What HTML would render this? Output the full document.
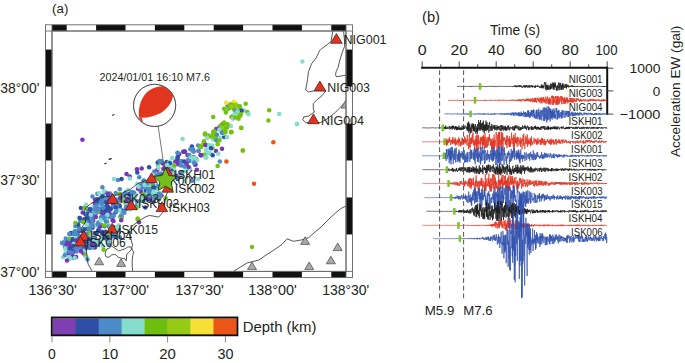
<!DOCTYPE html><html><head><meta charset="utf-8"><style>html,body{margin:0;padding:0;background:#fff;overflow:hidden}svg{display:block}text{font-family:"Liberation Sans",sans-serif}</style></head><body><svg width="685" height="363" viewBox="0 0 685 363">
<rect width="685" height="363" fill="#fff"/>
<g font-family="Liberation Sans, sans-serif">
<clipPath id="mapclip"><rect x="52.0" y="31.0" width="294.0" height="240.39999999999998"/></clipPath>
<g clip-path="url(#mapclip)">
<circle cx="122.4" cy="199.2" r="2.25" fill="#2f4fa6"/>
<circle cx="88.2" cy="221.2" r="2.25" fill="#4d8ac8"/>
<circle cx="90.4" cy="209.1" r="2.25" fill="#7636b6"/>
<circle cx="186.8" cy="165.1" r="2.25" fill="#86dccd"/>
<circle cx="119.6" cy="198.2" r="2.25" fill="#4d8ac8"/>
<circle cx="97.0" cy="211.7" r="2.25" fill="#4d8ac8"/>
<circle cx="79.8" cy="245.7" r="2.25" fill="#4d8ac8"/>
<circle cx="105.5" cy="192.5" r="2.25" fill="#4d8ac8"/>
<circle cx="107.7" cy="242.0" r="2.25" fill="#2f4fa6"/>
<circle cx="129.7" cy="204.2" r="2.25" fill="#7636b6"/>
<circle cx="88.8" cy="225.8" r="2.25" fill="#4d8ac8"/>
<circle cx="72.8" cy="249.6" r="2.25" fill="#2f4fa6"/>
<circle cx="202.6" cy="144.7" r="2.25" fill="#95cb14"/>
<circle cx="76.6" cy="251.6" r="2.25" fill="#4d8ac8"/>
<circle cx="70.0" cy="242.8" r="2.25" fill="#7636b6"/>
<circle cx="109.9" cy="201.7" r="2.25" fill="#4d8ac8"/>
<circle cx="71.2" cy="233.4" r="2.25" fill="#2f4fa6"/>
<circle cx="171.9" cy="163.5" r="2.25" fill="#86dccd"/>
<circle cx="98.7" cy="205.4" r="2.25" fill="#4d8ac8"/>
<circle cx="97.4" cy="244.8" r="2.25" fill="#4d8ac8"/>
<circle cx="83.3" cy="249.0" r="2.25" fill="#2f4fa6"/>
<circle cx="100.7" cy="208.1" r="2.25" fill="#86dccd"/>
<circle cx="187.0" cy="161.0" r="2.25" fill="#86dccd"/>
<circle cx="93.6" cy="215.0" r="2.25" fill="#4d8ac8"/>
<circle cx="115.8" cy="192.9" r="2.25" fill="#4d8ac8"/>
<circle cx="101.3" cy="225.1" r="2.25" fill="#4d8ac8"/>
<circle cx="96.8" cy="209.9" r="2.25" fill="#4d8ac8"/>
<circle cx="133.2" cy="207.8" r="2.25" fill="#4d8ac8"/>
<circle cx="120.0" cy="216.6" r="2.25" fill="#95cb14"/>
<circle cx="209.3" cy="153.3" r="2.25" fill="#86dccd"/>
<circle cx="72.0" cy="233.5" r="2.25" fill="#7636b6"/>
<circle cx="100.9" cy="217.2" r="2.25" fill="#4d8ac8"/>
<circle cx="105.4" cy="214.6" r="2.25" fill="#86dccd"/>
<circle cx="102.1" cy="236.1" r="2.25" fill="#2f4fa6"/>
<circle cx="139.1" cy="184.9" r="2.25" fill="#4d8ac8"/>
<circle cx="85.7" cy="246.5" r="2.25" fill="#4d8ac8"/>
<circle cx="97.7" cy="242.3" r="2.25" fill="#4d8ac8"/>
<circle cx="95.0" cy="215.1" r="2.25" fill="#4d8ac8"/>
<circle cx="71.8" cy="239.9" r="2.25" fill="#2f4fa6"/>
<circle cx="85.2" cy="214.2" r="2.25" fill="#4d8ac8"/>
<circle cx="76.6" cy="246.8" r="2.25" fill="#7636b6"/>
<circle cx="69.7" cy="238.4" r="2.25" fill="#74c20c"/>
<circle cx="137.0" cy="201.3" r="2.25" fill="#4d8ac8"/>
<circle cx="118.5" cy="229.5" r="2.25" fill="#2f4fa6"/>
<circle cx="123.9" cy="211.0" r="2.25" fill="#2f4fa6"/>
<circle cx="103.6" cy="238.3" r="2.25" fill="#86dccd"/>
<circle cx="180.8" cy="173.8" r="2.25" fill="#4d8ac8"/>
<circle cx="95.1" cy="199.5" r="2.25" fill="#7636b6"/>
<circle cx="101.9" cy="231.8" r="2.25" fill="#7636b6"/>
<circle cx="105.5" cy="235.3" r="2.25" fill="#4d8ac8"/>
<circle cx="224.2" cy="137.0" r="2.25" fill="#2f4fa6"/>
<circle cx="107.5" cy="238.4" r="2.25" fill="#2f4fa6"/>
<circle cx="76.2" cy="244.1" r="2.25" fill="#86dccd"/>
<circle cx="173.5" cy="166.5" r="2.25" fill="#4d8ac8"/>
<circle cx="67.0" cy="241.7" r="2.25" fill="#4d8ac8"/>
<circle cx="100.2" cy="198.5" r="2.25" fill="#4d8ac8"/>
<circle cx="97.9" cy="210.6" r="2.25" fill="#4d8ac8"/>
<circle cx="77.9" cy="234.9" r="2.25" fill="#7636b6"/>
<circle cx="106.9" cy="221.8" r="2.25" fill="#7636b6"/>
<circle cx="106.9" cy="219.0" r="2.25" fill="#86dccd"/>
<circle cx="234.8" cy="111.4" r="2.25" fill="#86dccd"/>
<circle cx="120.3" cy="193.9" r="2.25" fill="#86dccd"/>
<circle cx="112.9" cy="216.8" r="2.25" fill="#4d8ac8"/>
<circle cx="130.4" cy="209.2" r="2.25" fill="#86dccd"/>
<circle cx="92.3" cy="217.2" r="2.25" fill="#4d8ac8"/>
<circle cx="108.4" cy="201.7" r="2.25" fill="#74c20c"/>
<circle cx="79.6" cy="231.0" r="2.25" fill="#4d8ac8"/>
<circle cx="107.6" cy="206.8" r="2.25" fill="#7636b6"/>
<circle cx="81.6" cy="244.6" r="2.25" fill="#2f4fa6"/>
<circle cx="116.8" cy="201.5" r="2.25" fill="#4d8ac8"/>
<circle cx="177.0" cy="160.7" r="2.25" fill="#2f4fa6"/>
<circle cx="78.8" cy="217.7" r="2.25" fill="#86dccd"/>
<circle cx="159.4" cy="193.6" r="2.25" fill="#4d8ac8"/>
<circle cx="64.9" cy="246.1" r="2.25" fill="#86dccd"/>
<circle cx="233.7" cy="108.4" r="2.25" fill="#95cb14"/>
<circle cx="108.1" cy="196.2" r="2.25" fill="#2f4fa6"/>
<circle cx="144.9" cy="198.1" r="2.25" fill="#4d8ac8"/>
<circle cx="130.0" cy="199.7" r="2.25" fill="#4d8ac8"/>
<circle cx="149.6" cy="198.8" r="2.25" fill="#4d8ac8"/>
<circle cx="79.7" cy="240.3" r="2.25" fill="#7636b6"/>
<circle cx="212.5" cy="148.1" r="2.25" fill="#74c20c"/>
<circle cx="94.7" cy="247.5" r="2.25" fill="#7636b6"/>
<circle cx="240.0" cy="111.0" r="2.25" fill="#86dccd"/>
<circle cx="71.0" cy="252.0" r="2.25" fill="#2f4fa6"/>
<circle cx="119.3" cy="205.5" r="2.25" fill="#4d8ac8"/>
<circle cx="83.2" cy="238.2" r="2.25" fill="#4d8ac8"/>
<circle cx="117.0" cy="235.0" r="2.25" fill="#86dccd"/>
<circle cx="80.7" cy="249.9" r="2.25" fill="#4d8ac8"/>
<circle cx="123.8" cy="200.1" r="2.25" fill="#86dccd"/>
<circle cx="140.2" cy="190.5" r="2.25" fill="#86dccd"/>
<circle cx="125.8" cy="197.2" r="2.25" fill="#4d8ac8"/>
<circle cx="119.4" cy="194.1" r="2.25" fill="#74c20c"/>
<circle cx="82.7" cy="212.5" r="2.25" fill="#7636b6"/>
<circle cx="179.8" cy="162.7" r="2.25" fill="#86dccd"/>
<circle cx="107.4" cy="198.6" r="2.25" fill="#7636b6"/>
<circle cx="232.6" cy="116.6" r="2.25" fill="#74c20c"/>
<circle cx="190.1" cy="168.4" r="2.25" fill="#86dccd"/>
<circle cx="118.0" cy="208.8" r="2.25" fill="#2f4fa6"/>
<circle cx="230.8" cy="125.9" r="2.25" fill="#86dccd"/>
<circle cx="92.6" cy="227.8" r="2.25" fill="#2f4fa6"/>
<circle cx="131.3" cy="203.3" r="2.25" fill="#4d8ac8"/>
<circle cx="89.5" cy="235.6" r="2.25" fill="#4d8ac8"/>
<circle cx="129.0" cy="191.7" r="2.25" fill="#4d8ac8"/>
<circle cx="171.2" cy="173.8" r="2.25" fill="#86dccd"/>
<circle cx="72.6" cy="240.5" r="2.25" fill="#7636b6"/>
<circle cx="89.4" cy="230.4" r="2.25" fill="#2f4fa6"/>
<circle cx="89.9" cy="247.7" r="2.25" fill="#2f4fa6"/>
<circle cx="66.0" cy="248.4" r="2.25" fill="#7636b6"/>
<circle cx="193.8" cy="157.1" r="2.25" fill="#4d8ac8"/>
<circle cx="112.3" cy="196.2" r="2.25" fill="#7636b6"/>
<circle cx="72.9" cy="252.2" r="2.25" fill="#7636b6"/>
<circle cx="100.8" cy="201.9" r="2.25" fill="#4d8ac8"/>
<circle cx="103.3" cy="199.5" r="2.25" fill="#2f4fa6"/>
<circle cx="110.2" cy="235.0" r="2.25" fill="#74c20c"/>
<circle cx="182.1" cy="175.8" r="2.25" fill="#86dccd"/>
<circle cx="132.1" cy="197.6" r="2.25" fill="#74c20c"/>
<circle cx="105.6" cy="233.0" r="2.25" fill="#74c20c"/>
<circle cx="154.3" cy="186.0" r="2.25" fill="#4d8ac8"/>
<circle cx="144.9" cy="194.0" r="2.25" fill="#4d8ac8"/>
<circle cx="125.6" cy="198.6" r="2.25" fill="#7636b6"/>
<circle cx="113.6" cy="214.8" r="2.25" fill="#4d8ac8"/>
<circle cx="95.9" cy="234.2" r="2.25" fill="#74c20c"/>
<circle cx="93.3" cy="238.1" r="2.25" fill="#4d8ac8"/>
<circle cx="85.4" cy="207.3" r="2.25" fill="#4d8ac8"/>
<circle cx="118.0" cy="180.1" r="2.25" fill="#4d8ac8"/>
<circle cx="80.8" cy="236.3" r="2.25" fill="#4d8ac8"/>
<circle cx="196.1" cy="159.0" r="2.25" fill="#7636b6"/>
<circle cx="84.8" cy="242.1" r="2.25" fill="#4d8ac8"/>
<circle cx="75.7" cy="234.8" r="2.25" fill="#4d8ac8"/>
<circle cx="102.8" cy="195.8" r="2.25" fill="#4d8ac8"/>
<circle cx="171.5" cy="166.6" r="2.25" fill="#86dccd"/>
<circle cx="153.6" cy="197.7" r="2.25" fill="#2f4fa6"/>
<circle cx="194.7" cy="160.0" r="2.25" fill="#7636b6"/>
<circle cx="187.5" cy="155.0" r="2.25" fill="#7636b6"/>
<circle cx="92.2" cy="214.2" r="2.25" fill="#4d8ac8"/>
<circle cx="84.8" cy="222.3" r="2.25" fill="#4d8ac8"/>
<circle cx="96.9" cy="212.6" r="2.25" fill="#2f4fa6"/>
<circle cx="93.2" cy="220.7" r="2.25" fill="#7636b6"/>
<circle cx="118.5" cy="200.6" r="2.25" fill="#2f4fa6"/>
<circle cx="75.3" cy="226.1" r="2.25" fill="#4d8ac8"/>
<circle cx="129.1" cy="193.0" r="2.25" fill="#4d8ac8"/>
<circle cx="113.2" cy="204.7" r="2.25" fill="#7636b6"/>
<circle cx="72.5" cy="256.0" r="2.25" fill="#7636b6"/>
<circle cx="119.0" cy="204.8" r="2.25" fill="#74c20c"/>
<circle cx="106.9" cy="198.4" r="2.25" fill="#4d8ac8"/>
<circle cx="97.8" cy="208.0" r="2.25" fill="#4d8ac8"/>
<circle cx="81.2" cy="229.4" r="2.25" fill="#2f4fa6"/>
<circle cx="76.1" cy="257.0" r="2.25" fill="#7636b6"/>
<circle cx="244.0" cy="110.4" r="2.25" fill="#86dccd"/>
<circle cx="145.3" cy="207.4" r="2.25" fill="#2f4fa6"/>
<circle cx="151.9" cy="188.2" r="2.25" fill="#7636b6"/>
<circle cx="74.5" cy="239.2" r="2.25" fill="#7636b6"/>
<circle cx="130.8" cy="204.9" r="2.25" fill="#4d8ac8"/>
<circle cx="105.4" cy="210.6" r="2.25" fill="#4d8ac8"/>
<circle cx="95.6" cy="225.4" r="2.25" fill="#4d8ac8"/>
<circle cx="192.5" cy="161.5" r="2.25" fill="#86dccd"/>
<circle cx="193.8" cy="157.5" r="2.25" fill="#4d8ac8"/>
<circle cx="138.0" cy="188.8" r="2.25" fill="#7636b6"/>
<circle cx="197.1" cy="160.5" r="2.25" fill="#86dccd"/>
<circle cx="130.3" cy="197.4" r="2.25" fill="#7636b6"/>
<circle cx="219.7" cy="138.7" r="2.25" fill="#86dccd"/>
<circle cx="109.4" cy="216.4" r="2.25" fill="#4d8ac8"/>
<circle cx="95.2" cy="245.2" r="2.25" fill="#74c20c"/>
<circle cx="102.9" cy="246.5" r="2.25" fill="#86dccd"/>
<circle cx="104.5" cy="226.3" r="2.25" fill="#2f4fa6"/>
<circle cx="87.3" cy="228.6" r="2.25" fill="#4d8ac8"/>
<circle cx="101.2" cy="203.7" r="2.25" fill="#86dccd"/>
<circle cx="98.9" cy="229.2" r="2.25" fill="#4d8ac8"/>
<circle cx="112.6" cy="220.2" r="2.25" fill="#7636b6"/>
<circle cx="125.8" cy="203.7" r="2.25" fill="#74c20c"/>
<circle cx="75.5" cy="244.8" r="2.25" fill="#4d8ac8"/>
<circle cx="83.4" cy="230.1" r="2.25" fill="#4d8ac8"/>
<circle cx="85.7" cy="234.6" r="2.25" fill="#7636b6"/>
<circle cx="88.4" cy="241.5" r="2.25" fill="#74c20c"/>
<circle cx="88.4" cy="239.1" r="2.25" fill="#2f4fa6"/>
<circle cx="80.8" cy="230.4" r="2.25" fill="#7636b6"/>
<circle cx="102.3" cy="219.5" r="2.25" fill="#86dccd"/>
<circle cx="105.4" cy="207.0" r="2.25" fill="#4d8ac8"/>
<circle cx="83.6" cy="248.2" r="2.25" fill="#7636b6"/>
<circle cx="99.3" cy="207.4" r="2.25" fill="#7636b6"/>
<circle cx="148.8" cy="184.5" r="2.25" fill="#2f4fa6"/>
<circle cx="92.1" cy="223.8" r="2.25" fill="#4d8ac8"/>
<circle cx="240.3" cy="115.7" r="2.25" fill="#74c20c"/>
<circle cx="109.5" cy="213.0" r="2.25" fill="#7636b6"/>
<circle cx="98.9" cy="207.3" r="2.25" fill="#86dccd"/>
<circle cx="98.3" cy="222.5" r="2.25" fill="#4d8ac8"/>
<circle cx="129.1" cy="203.7" r="2.25" fill="#4d8ac8"/>
<circle cx="65.8" cy="251.1" r="2.25" fill="#86dccd"/>
<circle cx="72.9" cy="238.9" r="2.25" fill="#2f4fa6"/>
<circle cx="103.5" cy="236.5" r="2.25" fill="#7636b6"/>
<circle cx="104.6" cy="236.2" r="2.25" fill="#2f4fa6"/>
<circle cx="113.5" cy="221.1" r="2.25" fill="#7636b6"/>
<circle cx="219.4" cy="127.1" r="2.25" fill="#4d8ac8"/>
<circle cx="163.4" cy="168.9" r="2.25" fill="#7636b6"/>
<circle cx="119.7" cy="207.1" r="2.25" fill="#4d8ac8"/>
<circle cx="76.4" cy="241.4" r="2.25" fill="#7636b6"/>
<circle cx="116.0" cy="199.4" r="2.25" fill="#4d8ac8"/>
<circle cx="110.4" cy="202.2" r="2.25" fill="#4d8ac8"/>
<circle cx="75.7" cy="244.5" r="2.25" fill="#2f4fa6"/>
<circle cx="210.5" cy="146.0" r="2.25" fill="#95cb14"/>
<circle cx="121.0" cy="211.4" r="2.25" fill="#86dccd"/>
<circle cx="132.2" cy="197.8" r="2.25" fill="#2f4fa6"/>
<circle cx="105.5" cy="231.7" r="2.25" fill="#2f4fa6"/>
<circle cx="129.8" cy="176.6" r="2.25" fill="#7636b6"/>
<circle cx="66.6" cy="242.4" r="2.25" fill="#2f4fa6"/>
<circle cx="65.0" cy="246.9" r="2.25" fill="#7636b6"/>
<circle cx="96.8" cy="202.1" r="2.25" fill="#2f4fa6"/>
<circle cx="124.3" cy="197.8" r="2.25" fill="#74c20c"/>
<circle cx="222.9" cy="124.0" r="2.25" fill="#7636b6"/>
<circle cx="85.7" cy="228.9" r="2.25" fill="#4d8ac8"/>
<circle cx="119.4" cy="200.5" r="2.25" fill="#4d8ac8"/>
<circle cx="126.8" cy="193.3" r="2.25" fill="#4d8ac8"/>
<circle cx="201.3" cy="146.5" r="2.25" fill="#95cb14"/>
<circle cx="106.2" cy="221.0" r="2.25" fill="#86dccd"/>
<circle cx="71.7" cy="252.3" r="2.25" fill="#4d8ac8"/>
<circle cx="74.6" cy="230.7" r="2.25" fill="#86dccd"/>
<circle cx="90.6" cy="213.2" r="2.25" fill="#4d8ac8"/>
<circle cx="106.0" cy="221.4" r="2.25" fill="#4d8ac8"/>
<circle cx="70.3" cy="245.1" r="2.25" fill="#7636b6"/>
<circle cx="147.3" cy="188.4" r="2.25" fill="#7636b6"/>
<circle cx="125.9" cy="202.8" r="2.25" fill="#86dccd"/>
<circle cx="223.5" cy="133.8" r="2.25" fill="#86dccd"/>
<circle cx="65.7" cy="238.6" r="2.25" fill="#4d8ac8"/>
<circle cx="146.8" cy="196.5" r="2.25" fill="#4d8ac8"/>
<circle cx="237.5" cy="111.7" r="2.25" fill="#74c20c"/>
<circle cx="69.7" cy="258.3" r="2.25" fill="#4d8ac8"/>
<circle cx="113.0" cy="215.1" r="2.25" fill="#7636b6"/>
<circle cx="70.9" cy="233.0" r="2.25" fill="#2f4fa6"/>
<circle cx="142.6" cy="199.9" r="2.25" fill="#86dccd"/>
<circle cx="79.4" cy="240.5" r="2.25" fill="#74c20c"/>
<circle cx="70.4" cy="250.1" r="2.25" fill="#7636b6"/>
<circle cx="172.2" cy="157.9" r="2.25" fill="#86dccd"/>
<circle cx="186.0" cy="171.0" r="2.25" fill="#86dccd"/>
<circle cx="95.3" cy="241.7" r="2.25" fill="#86dccd"/>
<circle cx="86.0" cy="214.0" r="2.25" fill="#4d8ac8"/>
<circle cx="146.9" cy="183.3" r="2.25" fill="#74c20c"/>
<circle cx="172.4" cy="171.3" r="2.25" fill="#86dccd"/>
<circle cx="84.7" cy="243.8" r="2.25" fill="#4d8ac8"/>
<circle cx="78.6" cy="226.9" r="2.25" fill="#4d8ac8"/>
<circle cx="143.5" cy="195.3" r="2.25" fill="#4d8ac8"/>
<circle cx="73.0" cy="239.9" r="2.25" fill="#2f4fa6"/>
<circle cx="70.4" cy="257.5" r="2.25" fill="#2f4fa6"/>
<circle cx="124.4" cy="212.8" r="2.25" fill="#4d8ac8"/>
<circle cx="131.2" cy="200.0" r="2.25" fill="#74c20c"/>
<circle cx="164.6" cy="167.4" r="2.25" fill="#7636b6"/>
<circle cx="94.7" cy="203.5" r="2.25" fill="#7636b6"/>
<circle cx="145.8" cy="197.4" r="2.25" fill="#4d8ac8"/>
<circle cx="112.3" cy="199.1" r="2.25" fill="#86dccd"/>
<circle cx="110.4" cy="236.3" r="2.25" fill="#4d8ac8"/>
<circle cx="122.1" cy="210.4" r="2.25" fill="#2f4fa6"/>
<circle cx="76.3" cy="240.6" r="2.25" fill="#2f4fa6"/>
<circle cx="157.7" cy="165.3" r="2.25" fill="#86dccd"/>
<circle cx="99.4" cy="243.1" r="2.25" fill="#4d8ac8"/>
<circle cx="183.2" cy="151.8" r="2.25" fill="#2f4fa6"/>
<circle cx="95.1" cy="247.1" r="2.25" fill="#7636b6"/>
<circle cx="89.4" cy="223.8" r="2.25" fill="#7636b6"/>
<circle cx="76.1" cy="248.2" r="2.25" fill="#7636b6"/>
<circle cx="131.9" cy="193.0" r="2.25" fill="#86dccd"/>
<circle cx="98.2" cy="230.4" r="2.25" fill="#2f4fa6"/>
<circle cx="116.7" cy="227.5" r="2.25" fill="#86dccd"/>
<circle cx="213.1" cy="131.9" r="2.25" fill="#74c20c"/>
<circle cx="101.1" cy="226.0" r="2.25" fill="#74c20c"/>
<circle cx="90.6" cy="245.0" r="2.25" fill="#4d8ac8"/>
<circle cx="83.0" cy="241.3" r="2.25" fill="#7636b6"/>
<circle cx="181.0" cy="161.2" r="2.25" fill="#4d8ac8"/>
<circle cx="141.9" cy="188.5" r="2.25" fill="#4d8ac8"/>
<circle cx="103.7" cy="217.1" r="2.25" fill="#4d8ac8"/>
<circle cx="80.6" cy="237.4" r="2.25" fill="#4d8ac8"/>
<circle cx="225.4" cy="128.4" r="2.25" fill="#74c20c"/>
<circle cx="83.5" cy="253.3" r="2.25" fill="#7636b6"/>
<circle cx="179.1" cy="154.3" r="2.25" fill="#7636b6"/>
<circle cx="194.9" cy="164.8" r="2.25" fill="#4d8ac8"/>
<circle cx="123.8" cy="199.9" r="2.25" fill="#86dccd"/>
<circle cx="94.8" cy="232.9" r="2.25" fill="#7636b6"/>
<circle cx="149.5" cy="195.6" r="2.25" fill="#7636b6"/>
<circle cx="99.3" cy="211.7" r="2.25" fill="#74c20c"/>
<circle cx="94.8" cy="246.2" r="2.25" fill="#2f4fa6"/>
<circle cx="115.5" cy="202.6" r="2.25" fill="#2f4fa6"/>
<circle cx="68.6" cy="256.6" r="2.25" fill="#86dccd"/>
<circle cx="63.8" cy="242.3" r="2.25" fill="#4d8ac8"/>
<circle cx="107.8" cy="243.3" r="2.25" fill="#86dccd"/>
<circle cx="153.9" cy="198.0" r="2.25" fill="#4d8ac8"/>
<circle cx="91.7" cy="239.8" r="2.25" fill="#2f4fa6"/>
<circle cx="168.8" cy="162.9" r="2.25" fill="#74c20c"/>
<circle cx="88.2" cy="220.4" r="2.25" fill="#2f4fa6"/>
<circle cx="135.7" cy="194.6" r="2.25" fill="#86dccd"/>
<circle cx="238.0" cy="112.2" r="2.25" fill="#74c20c"/>
<circle cx="166.1" cy="176.0" r="2.25" fill="#86dccd"/>
<circle cx="89.1" cy="246.7" r="2.25" fill="#4d8ac8"/>
<circle cx="113.1" cy="206.9" r="2.25" fill="#4d8ac8"/>
<circle cx="116.8" cy="231.6" r="2.25" fill="#2f4fa6"/>
<circle cx="166.7" cy="162.0" r="2.25" fill="#2f4fa6"/>
<circle cx="153.6" cy="201.2" r="2.25" fill="#7636b6"/>
<circle cx="93.5" cy="207.0" r="2.25" fill="#86dccd"/>
<circle cx="105.8" cy="214.2" r="2.25" fill="#2f4fa6"/>
<circle cx="145.1" cy="200.3" r="2.25" fill="#2f4fa6"/>
<circle cx="80.2" cy="220.7" r="2.25" fill="#4d8ac8"/>
<circle cx="79.8" cy="244.3" r="2.25" fill="#4d8ac8"/>
<circle cx="126.7" cy="208.8" r="2.25" fill="#7636b6"/>
<circle cx="69.5" cy="248.9" r="2.25" fill="#7636b6"/>
<circle cx="62.0" cy="243.1" r="2.25" fill="#4d8ac8"/>
<circle cx="69.2" cy="234.0" r="2.25" fill="#4d8ac8"/>
<circle cx="217.3" cy="139.3" r="2.25" fill="#74c20c"/>
<circle cx="75.9" cy="236.7" r="2.25" fill="#86dccd"/>
<circle cx="108.6" cy="207.6" r="2.25" fill="#2f4fa6"/>
<circle cx="108.4" cy="225.0" r="2.25" fill="#86dccd"/>
<circle cx="127.5" cy="192.5" r="2.25" fill="#2f4fa6"/>
<circle cx="178.5" cy="161.4" r="2.25" fill="#7636b6"/>
<circle cx="106.0" cy="238.6" r="2.25" fill="#2f4fa6"/>
<circle cx="96.0" cy="226.0" r="2.25" fill="#86dccd"/>
<circle cx="166.6" cy="168.3" r="2.25" fill="#2f4fa6"/>
<circle cx="75.7" cy="235.3" r="2.25" fill="#86dccd"/>
<circle cx="93.9" cy="215.5" r="2.25" fill="#4d8ac8"/>
<circle cx="80.4" cy="249.0" r="2.25" fill="#4d8ac8"/>
<circle cx="169.9" cy="179.7" r="2.25" fill="#86dccd"/>
<circle cx="77.3" cy="242.5" r="2.25" fill="#4d8ac8"/>
<circle cx="153.7" cy="194.4" r="2.25" fill="#2f4fa6"/>
<circle cx="119.6" cy="205.9" r="2.25" fill="#2f4fa6"/>
<circle cx="89.3" cy="230.9" r="2.25" fill="#2f4fa6"/>
<circle cx="73.5" cy="257.8" r="2.25" fill="#2f4fa6"/>
<circle cx="89.2" cy="242.2" r="2.25" fill="#86dccd"/>
<circle cx="101.1" cy="198.0" r="2.25" fill="#4d8ac8"/>
<circle cx="85.0" cy="250.6" r="2.25" fill="#4d8ac8"/>
<circle cx="81.0" cy="237.0" r="2.25" fill="#4d8ac8"/>
<circle cx="70.2" cy="247.1" r="2.25" fill="#7636b6"/>
<circle cx="173.8" cy="168.2" r="2.25" fill="#86dccd"/>
<circle cx="146.9" cy="191.7" r="2.25" fill="#86dccd"/>
<circle cx="198.1" cy="145.5" r="2.25" fill="#4d8ac8"/>
<circle cx="157.7" cy="162.4" r="2.25" fill="#2f4fa6"/>
<circle cx="195.5" cy="164.6" r="2.25" fill="#7636b6"/>
<circle cx="240.1" cy="107.8" r="2.25" fill="#74c20c"/>
<circle cx="94.0" cy="209.8" r="2.25" fill="#4d8ac8"/>
<circle cx="172.1" cy="171.3" r="2.25" fill="#86dccd"/>
<circle cx="102.3" cy="196.6" r="2.25" fill="#2f4fa6"/>
<circle cx="73.4" cy="246.3" r="2.25" fill="#86dccd"/>
<circle cx="113.2" cy="236.5" r="2.25" fill="#4d8ac8"/>
<circle cx="84.8" cy="241.6" r="2.25" fill="#4d8ac8"/>
<circle cx="103.8" cy="191.0" r="2.25" fill="#86dccd"/>
<circle cx="131.8" cy="197.2" r="2.25" fill="#2f4fa6"/>
<circle cx="63.1" cy="257.2" r="2.25" fill="#86dccd"/>
<circle cx="135.2" cy="196.6" r="2.25" fill="#86dccd"/>
<circle cx="90.9" cy="240.9" r="2.25" fill="#2f4fa6"/>
<circle cx="172.3" cy="171.5" r="2.25" fill="#86dccd"/>
<circle cx="133.2" cy="196.1" r="2.25" fill="#2f4fa6"/>
<circle cx="167.4" cy="178.0" r="2.25" fill="#86dccd"/>
<circle cx="147.8" cy="187.7" r="2.25" fill="#86dccd"/>
<circle cx="147.2" cy="182.8" r="2.25" fill="#74c20c"/>
<circle cx="96.6" cy="233.2" r="2.25" fill="#2f4fa6"/>
<circle cx="65.0" cy="245.5" r="2.25" fill="#4d8ac8"/>
<circle cx="73.8" cy="243.8" r="2.25" fill="#86dccd"/>
<circle cx="93.2" cy="237.8" r="2.25" fill="#4d8ac8"/>
<circle cx="103.4" cy="200.5" r="2.25" fill="#86dccd"/>
<circle cx="75.0" cy="231.2" r="2.25" fill="#4d8ac8"/>
<circle cx="212.5" cy="136.5" r="2.25" fill="#86dccd"/>
<circle cx="126.1" cy="207.2" r="2.25" fill="#4d8ac8"/>
<circle cx="78.2" cy="224.4" r="2.25" fill="#2f4fa6"/>
<circle cx="84.5" cy="250.4" r="2.25" fill="#86dccd"/>
<circle cx="123.9" cy="211.4" r="2.25" fill="#4d8ac8"/>
<circle cx="186.3" cy="163.8" r="2.25" fill="#4d8ac8"/>
<circle cx="101.6" cy="209.6" r="2.25" fill="#2f4fa6"/>
<circle cx="121.8" cy="217.6" r="2.25" fill="#74c20c"/>
<circle cx="68.7" cy="252.9" r="2.25" fill="#7636b6"/>
<circle cx="84.6" cy="237.5" r="2.25" fill="#86dccd"/>
<circle cx="227.6" cy="105.3" r="2.25" fill="#4d8ac8"/>
<circle cx="176.3" cy="175.7" r="2.25" fill="#7636b6"/>
<circle cx="221.6" cy="131.4" r="2.25" fill="#86dccd"/>
<circle cx="90.1" cy="225.2" r="2.25" fill="#74c20c"/>
<circle cx="88.4" cy="224.6" r="2.25" fill="#4d8ac8"/>
<circle cx="101.0" cy="202.2" r="2.25" fill="#4d8ac8"/>
<circle cx="118.6" cy="225.4" r="2.25" fill="#86dccd"/>
<circle cx="109.2" cy="244.7" r="2.25" fill="#4d8ac8"/>
<circle cx="160.2" cy="162.6" r="2.25" fill="#74c20c"/>
<circle cx="93.6" cy="242.1" r="2.25" fill="#4d8ac8"/>
<circle cx="148.8" cy="190.2" r="2.25" fill="#7636b6"/>
<circle cx="121.4" cy="215.5" r="2.25" fill="#4d8ac8"/>
<circle cx="109.9" cy="227.8" r="2.25" fill="#4d8ac8"/>
<circle cx="125.2" cy="195.3" r="2.25" fill="#86dccd"/>
<circle cx="137.0" cy="205.0" r="2.25" fill="#4d8ac8"/>
<circle cx="227.1" cy="109.4" r="2.25" fill="#74c20c"/>
<circle cx="81.6" cy="238.9" r="2.25" fill="#7636b6"/>
<circle cx="84.2" cy="219.3" r="2.25" fill="#2f4fa6"/>
<circle cx="177.6" cy="178.9" r="2.25" fill="#2f4fa6"/>
<circle cx="101.2" cy="235.9" r="2.25" fill="#86dccd"/>
<circle cx="98.5" cy="208.8" r="2.25" fill="#4d8ac8"/>
<circle cx="151.9" cy="189.0" r="2.25" fill="#2f4fa6"/>
<circle cx="119.8" cy="189.3" r="2.25" fill="#4d8ac8"/>
<circle cx="160.9" cy="173.6" r="2.25" fill="#4d8ac8"/>
<circle cx="108.8" cy="226.5" r="2.25" fill="#4d8ac8"/>
<circle cx="76.4" cy="234.1" r="2.25" fill="#4d8ac8"/>
<circle cx="83.2" cy="243.1" r="2.25" fill="#7636b6"/>
<circle cx="86.2" cy="204.7" r="2.25" fill="#86dccd"/>
<circle cx="113.2" cy="227.1" r="2.25" fill="#2f4fa6"/>
<circle cx="94.9" cy="238.3" r="2.25" fill="#2f4fa6"/>
<circle cx="171.1" cy="170.6" r="2.25" fill="#4d8ac8"/>
<circle cx="189.3" cy="154.9" r="2.25" fill="#4d8ac8"/>
<circle cx="88.3" cy="228.5" r="2.25" fill="#4d8ac8"/>
<circle cx="133.9" cy="192.5" r="2.25" fill="#4d8ac8"/>
<circle cx="181.7" cy="161.5" r="2.25" fill="#4d8ac8"/>
<circle cx="105.5" cy="212.8" r="2.25" fill="#2f4fa6"/>
<circle cx="169.5" cy="161.7" r="2.25" fill="#86dccd"/>
<circle cx="70.1" cy="258.3" r="2.25" fill="#86dccd"/>
<circle cx="158.4" cy="174.1" r="2.25" fill="#4d8ac8"/>
<circle cx="103.6" cy="213.5" r="2.25" fill="#2f4fa6"/>
<circle cx="73.1" cy="246.0" r="2.25" fill="#2f4fa6"/>
<circle cx="82.9" cy="231.5" r="2.25" fill="#2f4fa6"/>
<circle cx="95.6" cy="245.1" r="2.25" fill="#2f4fa6"/>
<circle cx="129.0" cy="193.7" r="2.25" fill="#2f4fa6"/>
<circle cx="104.6" cy="225.5" r="2.25" fill="#74c20c"/>
<circle cx="95.9" cy="212.3" r="2.25" fill="#86dccd"/>
<circle cx="98.7" cy="208.9" r="2.25" fill="#4d8ac8"/>
<circle cx="104.6" cy="201.4" r="2.25" fill="#4d8ac8"/>
<circle cx="208.7" cy="136.0" r="2.25" fill="#95cb14"/>
<circle cx="169.8" cy="163.2" r="2.25" fill="#2f4fa6"/>
<circle cx="89.5" cy="242.8" r="2.25" fill="#4d8ac8"/>
<circle cx="223.3" cy="126.8" r="2.25" fill="#74c20c"/>
<circle cx="115.5" cy="235.8" r="2.25" fill="#2f4fa6"/>
<circle cx="119.8" cy="237.2" r="2.25" fill="#4d8ac8"/>
<circle cx="115.6" cy="212.2" r="2.25" fill="#2f4fa6"/>
<circle cx="107.9" cy="236.5" r="2.25" fill="#74c20c"/>
<circle cx="186.4" cy="167.1" r="2.25" fill="#2f4fa6"/>
<circle cx="110.0" cy="193.6" r="2.25" fill="#4d8ac8"/>
<circle cx="116.2" cy="228.9" r="2.25" fill="#86dccd"/>
<circle cx="116.8" cy="234.0" r="2.25" fill="#86dccd"/>
<circle cx="125.7" cy="192.3" r="2.25" fill="#4d8ac8"/>
<circle cx="117.1" cy="206.5" r="2.25" fill="#4d8ac8"/>
<circle cx="163.0" cy="163.5" r="2.25" fill="#7636b6"/>
<circle cx="213.2" cy="139.5" r="2.25" fill="#86dccd"/>
<circle cx="216.2" cy="129.1" r="2.25" fill="#7636b6"/>
<circle cx="110.8" cy="209.0" r="2.25" fill="#2f4fa6"/>
<circle cx="108.8" cy="198.6" r="2.25" fill="#4d8ac8"/>
<circle cx="106.8" cy="205.5" r="2.25" fill="#2f4fa6"/>
<circle cx="82.9" cy="228.6" r="2.25" fill="#86dccd"/>
<circle cx="82.0" cy="244.8" r="2.25" fill="#4d8ac8"/>
<circle cx="115.9" cy="207.6" r="2.25" fill="#2f4fa6"/>
<circle cx="84.3" cy="229.3" r="2.25" fill="#2f4fa6"/>
<circle cx="94.0" cy="239.3" r="2.25" fill="#86dccd"/>
<circle cx="88.9" cy="246.0" r="2.25" fill="#4d8ac8"/>
<circle cx="124.0" cy="195.1" r="2.25" fill="#4d8ac8"/>
<circle cx="178.3" cy="154.3" r="2.25" fill="#7636b6"/>
<circle cx="163.7" cy="174.5" r="2.25" fill="#74c20c"/>
<circle cx="90.5" cy="229.5" r="2.25" fill="#4d8ac8"/>
<circle cx="113.6" cy="215.3" r="2.25" fill="#4d8ac8"/>
<circle cx="107.9" cy="238.4" r="2.25" fill="#86dccd"/>
<circle cx="239.0" cy="115.5" r="2.25" fill="#74c20c"/>
<circle cx="79.0" cy="238.6" r="2.25" fill="#2f4fa6"/>
<circle cx="96.9" cy="242.5" r="2.25" fill="#86dccd"/>
<circle cx="239.3" cy="110.0" r="2.25" fill="#74c20c"/>
<circle cx="221.2" cy="127.1" r="2.25" fill="#4d8ac8"/>
<circle cx="136.6" cy="207.9" r="2.25" fill="#74c20c"/>
<circle cx="79.2" cy="230.8" r="2.25" fill="#2f4fa6"/>
<circle cx="86.7" cy="220.7" r="2.25" fill="#4d8ac8"/>
<circle cx="128.5" cy="208.6" r="2.25" fill="#86dccd"/>
<circle cx="99.9" cy="226.6" r="2.25" fill="#7636b6"/>
<circle cx="105.3" cy="216.5" r="2.25" fill="#4d8ac8"/>
<circle cx="90.6" cy="215.9" r="2.25" fill="#4d8ac8"/>
<circle cx="188.4" cy="159.6" r="2.25" fill="#4d8ac8"/>
<circle cx="119.6" cy="210.6" r="2.25" fill="#86dccd"/>
<circle cx="241.1" cy="111.3" r="2.25" fill="#95cb14"/>
<circle cx="92.7" cy="225.8" r="2.25" fill="#4d8ac8"/>
<circle cx="134.5" cy="208.1" r="2.25" fill="#4d8ac8"/>
<circle cx="239.1" cy="112.6" r="2.25" fill="#86dccd"/>
<circle cx="132.2" cy="207.6" r="2.25" fill="#4d8ac8"/>
<circle cx="95.4" cy="206.7" r="2.25" fill="#4d8ac8"/>
<circle cx="113.8" cy="215.5" r="2.25" fill="#4d8ac8"/>
<circle cx="187.3" cy="168.4" r="2.25" fill="#86dccd"/>
<circle cx="217.9" cy="137.2" r="2.25" fill="#86dccd"/>
<circle cx="102.3" cy="233.6" r="2.25" fill="#2f4fa6"/>
<circle cx="84.1" cy="235.4" r="2.25" fill="#2f4fa6"/>
<circle cx="87.0" cy="224.4" r="2.25" fill="#86dccd"/>
<circle cx="74.0" cy="234.1" r="2.25" fill="#4d8ac8"/>
<circle cx="89.9" cy="212.8" r="2.25" fill="#2f4fa6"/>
<circle cx="140.8" cy="191.4" r="2.25" fill="#4d8ac8"/>
<circle cx="77.1" cy="239.9" r="2.25" fill="#4d8ac8"/>
<circle cx="110.4" cy="216.8" r="2.25" fill="#4d8ac8"/>
<circle cx="81.0" cy="251.3" r="2.25" fill="#7636b6"/>
<circle cx="101.0" cy="240.6" r="2.25" fill="#86dccd"/>
<circle cx="85.8" cy="242.2" r="2.25" fill="#2f4fa6"/>
<circle cx="85.0" cy="237.4" r="2.25" fill="#86dccd"/>
<circle cx="76.6" cy="240.4" r="2.25" fill="#7636b6"/>
<circle cx="165.5" cy="173.9" r="2.25" fill="#86dccd"/>
<circle cx="69.5" cy="251.4" r="2.25" fill="#4d8ac8"/>
<circle cx="103.6" cy="249.7" r="2.25" fill="#74c20c"/>
<circle cx="159.2" cy="198.7" r="2.25" fill="#2f4fa6"/>
<circle cx="97.9" cy="199.3" r="2.25" fill="#2f4fa6"/>
<circle cx="76.1" cy="248.8" r="2.25" fill="#4d8ac8"/>
<circle cx="66.7" cy="244.2" r="2.25" fill="#7636b6"/>
<circle cx="65.2" cy="248.4" r="2.25" fill="#86dccd"/>
<circle cx="79.1" cy="229.2" r="2.25" fill="#4d8ac8"/>
<circle cx="127.1" cy="206.8" r="2.25" fill="#4d8ac8"/>
<circle cx="69.8" cy="248.1" r="2.25" fill="#2f4fa6"/>
<circle cx="178.2" cy="177.5" r="2.25" fill="#4d8ac8"/>
<circle cx="113.6" cy="234.2" r="2.25" fill="#4d8ac8"/>
<circle cx="120.5" cy="197.8" r="2.25" fill="#7636b6"/>
<circle cx="124.2" cy="201.4" r="2.25" fill="#74c20c"/>
<circle cx="70.3" cy="258.3" r="2.25" fill="#86dccd"/>
<circle cx="110.7" cy="227.0" r="2.25" fill="#86dccd"/>
<circle cx="86.4" cy="247.8" r="2.25" fill="#2f4fa6"/>
<circle cx="88.2" cy="210.9" r="2.25" fill="#4d8ac8"/>
<circle cx="128.7" cy="200.3" r="2.25" fill="#2f4fa6"/>
<circle cx="107.3" cy="237.3" r="2.25" fill="#2f4fa6"/>
<circle cx="106.0" cy="202.3" r="2.25" fill="#2f4fa6"/>
<circle cx="165.9" cy="178.7" r="2.25" fill="#4d8ac8"/>
<circle cx="74.8" cy="258.0" r="2.25" fill="#86dccd"/>
<circle cx="67.0" cy="260.5" r="2.25" fill="#7636b6"/>
<circle cx="90.5" cy="234.5" r="2.25" fill="#86dccd"/>
<circle cx="235.5" cy="103.7" r="2.25" fill="#95cb14"/>
<circle cx="80.3" cy="237.6" r="2.25" fill="#4d8ac8"/>
<circle cx="225.4" cy="110.2" r="2.25" fill="#86dccd"/>
<circle cx="107.4" cy="209.9" r="2.25" fill="#2f4fa6"/>
<circle cx="92.5" cy="247.3" r="2.25" fill="#4d8ac8"/>
<circle cx="168.8" cy="168.8" r="2.25" fill="#4d8ac8"/>
<circle cx="231.0" cy="104.2" r="2.25" fill="#74c20c"/>
<circle cx="92.1" cy="244.0" r="2.25" fill="#7636b6"/>
<circle cx="97.8" cy="224.2" r="2.25" fill="#4d8ac8"/>
<circle cx="88.4" cy="232.7" r="2.25" fill="#74c20c"/>
<circle cx="113.7" cy="199.7" r="2.25" fill="#2f4fa6"/>
<circle cx="142.4" cy="199.1" r="2.25" fill="#2f4fa6"/>
<circle cx="233.8" cy="108.9" r="2.25" fill="#74c20c"/>
<circle cx="108.5" cy="208.1" r="2.25" fill="#2f4fa6"/>
<circle cx="154.3" cy="171.6" r="2.25" fill="#4d8ac8"/>
<circle cx="116.2" cy="210.9" r="2.25" fill="#4d8ac8"/>
<circle cx="103.4" cy="208.2" r="2.25" fill="#4d8ac8"/>
<circle cx="139.3" cy="204.3" r="2.25" fill="#86dccd"/>
<circle cx="128.8" cy="200.0" r="2.25" fill="#4d8ac8"/>
<circle cx="132.6" cy="199.5" r="2.25" fill="#4d8ac8"/>
<circle cx="64.9" cy="255.0" r="2.25" fill="#4d8ac8"/>
<circle cx="109.7" cy="199.7" r="2.25" fill="#7636b6"/>
<circle cx="86.3" cy="234.0" r="2.25" fill="#4d8ac8"/>
<circle cx="234.1" cy="105.6" r="2.25" fill="#74c20c"/>
<circle cx="109.0" cy="194.1" r="2.25" fill="#4d8ac8"/>
<circle cx="226.1" cy="102.7" r="2.25" fill="#f6e035"/>
<circle cx="233.8" cy="101.8" r="2.25" fill="#f6e035"/>
<circle cx="245.7" cy="103.8" r="2.25" fill="#74c20c"/>
<circle cx="229.7" cy="105.5" r="2.25" fill="#74c20c"/>
<circle cx="233.0" cy="104.9" r="2.25" fill="#74c20c"/>
<circle cx="236.3" cy="106.0" r="2.25" fill="#95cb14"/>
<circle cx="239.6" cy="106.0" r="2.25" fill="#74c20c"/>
<circle cx="224.2" cy="108.8" r="2.25" fill="#74c20c"/>
<circle cx="229.2" cy="108.2" r="2.25" fill="#74c20c"/>
<circle cx="231.4" cy="106.6" r="2.25" fill="#95cb14"/>
<circle cx="235.8" cy="110.4" r="2.25" fill="#4d8ac8"/>
<circle cx="241.6" cy="110.7" r="2.25" fill="#2f4fa6"/>
<circle cx="237.4" cy="111.5" r="2.25" fill="#86dccd"/>
<circle cx="247.4" cy="112.1" r="2.25" fill="#74c20c"/>
<circle cx="248.5" cy="114.3" r="2.25" fill="#86dccd"/>
<circle cx="225.9" cy="112.6" r="2.25" fill="#74c20c"/>
<circle cx="234.1" cy="114.8" r="2.25" fill="#86dccd"/>
<circle cx="240.7" cy="114.3" r="2.25" fill="#74c20c"/>
<circle cx="231.4" cy="117.0" r="2.25" fill="#74c20c"/>
<circle cx="233.0" cy="118.7" r="2.25" fill="#86dccd"/>
<circle cx="235.2" cy="117.6" r="2.25" fill="#74c20c"/>
<circle cx="238.5" cy="118.7" r="2.25" fill="#74c20c"/>
<circle cx="213.2" cy="117.0" r="2.25" fill="#74c20c"/>
<circle cx="224.2" cy="122.5" r="2.25" fill="#74c20c"/>
<circle cx="227.5" cy="124.2" r="2.25" fill="#74c20c"/>
<circle cx="220.9" cy="125.3" r="2.25" fill="#74c20c"/>
<circle cx="241.3" cy="127.8" r="2.25" fill="#74c20c"/>
<circle cx="227.0" cy="127.5" r="2.25" fill="#74c20c"/>
<circle cx="222.0" cy="128.0" r="2.25" fill="#95cb14"/>
<circle cx="219.3" cy="129.7" r="2.25" fill="#86dccd"/>
<circle cx="222.0" cy="132.4" r="2.25" fill="#4d8ac8"/>
<circle cx="214.3" cy="131.3" r="2.25" fill="#74c20c"/>
<circle cx="231.4" cy="131.9" r="2.25" fill="#74c20c"/>
<circle cx="205.0" cy="133.5" r="2.25" fill="#74c20c"/>
<circle cx="225.3" cy="130.2" r="2.25" fill="#74c20c"/>
<circle cx="182.6" cy="138.9" r="2.25" fill="#86dccd"/>
<circle cx="205.2" cy="134.3" r="2.25" fill="#74c20c"/>
<circle cx="207.4" cy="137.6" r="2.25" fill="#86dccd"/>
<circle cx="208.5" cy="135.4" r="2.25" fill="#74c20c"/>
<circle cx="204.1" cy="141.5" r="2.25" fill="#74c20c"/>
<circle cx="205.7" cy="144.8" r="2.25" fill="#7636b6"/>
<circle cx="208.5" cy="145.3" r="2.25" fill="#86dccd"/>
<circle cx="200.2" cy="146.4" r="2.25" fill="#74c20c"/>
<circle cx="191.9" cy="146.4" r="2.25" fill="#2f4fa6"/>
<circle cx="190.3" cy="149.2" r="2.25" fill="#4d8ac8"/>
<circle cx="193.0" cy="149.2" r="2.25" fill="#4d8ac8"/>
<circle cx="193.6" cy="151.4" r="2.25" fill="#7636b6"/>
<circle cx="198.5" cy="150.8" r="2.25" fill="#4d8ac8"/>
<circle cx="184.8" cy="151.4" r="2.25" fill="#7636b6"/>
<circle cx="177.6" cy="153.0" r="2.25" fill="#4d8ac8"/>
<circle cx="200.7" cy="155.2" r="2.25" fill="#7636b6"/>
<circle cx="206.3" cy="149.7" r="2.25" fill="#86dccd"/>
<circle cx="207.4" cy="153.0" r="2.25" fill="#86dccd"/>
<circle cx="191.9" cy="158.0" r="2.25" fill="#86dccd"/>
<circle cx="195.2" cy="158.0" r="2.25" fill="#86dccd"/>
<circle cx="206.3" cy="157.4" r="2.25" fill="#86dccd"/>
<circle cx="177.6" cy="157.4" r="2.25" fill="#2f4fa6"/>
<circle cx="204.1" cy="154.7" r="2.25" fill="#74c20c"/>
<circle cx="205.0" cy="134.4" r="2.25" fill="#74c20c"/>
<circle cx="214.3" cy="131.7" r="2.25" fill="#74c20c"/>
<circle cx="213.2" cy="135.5" r="2.25" fill="#74c20c"/>
<circle cx="216.5" cy="134.4" r="2.25" fill="#74c20c"/>
<circle cx="217.0" cy="135.0" r="2.25" fill="#4d8ac8"/>
<circle cx="222.0" cy="132.8" r="2.25" fill="#4d8ac8"/>
<circle cx="225.3" cy="132.2" r="2.25" fill="#74c20c"/>
<circle cx="231.4" cy="132.2" r="2.25" fill="#74c20c"/>
<circle cx="227.0" cy="137.2" r="2.25" fill="#86dccd"/>
<circle cx="207.2" cy="137.7" r="2.25" fill="#86dccd"/>
<circle cx="211.0" cy="136.6" r="2.25" fill="#74c20c"/>
<circle cx="215.4" cy="138.3" r="2.25" fill="#74c20c"/>
<circle cx="219.8" cy="137.7" r="2.25" fill="#86dccd"/>
<circle cx="216.5" cy="140.5" r="2.25" fill="#4d8ac8"/>
<circle cx="219.3" cy="140.5" r="2.25" fill="#74c20c"/>
<circle cx="203.9" cy="141.6" r="2.25" fill="#74c20c"/>
<circle cx="217.6" cy="144.3" r="2.25" fill="#74c20c"/>
<circle cx="205.5" cy="144.9" r="2.25" fill="#7636b6"/>
<circle cx="209.4" cy="145.4" r="2.25" fill="#86dccd"/>
<circle cx="212.1" cy="145.4" r="2.25" fill="#86dccd"/>
<circle cx="200.9" cy="147.1" r="2.25" fill="#74c20c"/>
<circle cx="211.0" cy="148.2" r="2.25" fill="#2f4fa6"/>
<circle cx="206.1" cy="149.3" r="2.25" fill="#86dccd"/>
<circle cx="216.0" cy="150.9" r="2.25" fill="#7636b6"/>
<circle cx="222.0" cy="148.7" r="2.25" fill="#7636b6"/>
<circle cx="218.2" cy="153.7" r="2.25" fill="#86dccd"/>
<circle cx="208.3" cy="153.1" r="2.25" fill="#86dccd"/>
<circle cx="211.0" cy="153.7" r="2.25" fill="#86dccd"/>
<circle cx="212.7" cy="155.3" r="2.25" fill="#2f4fa6"/>
<circle cx="201.1" cy="155.3" r="2.25" fill="#7636b6"/>
<circle cx="205.5" cy="157.5" r="2.25" fill="#86dccd"/>
<circle cx="219.8" cy="161.4" r="2.25" fill="#4d8ac8"/>
<circle cx="226.4" cy="161.4" r="2.25" fill="#ec5518"/>
<circle cx="217.6" cy="166.1" r="2.25" fill="#74c20c"/>
<circle cx="242.7" cy="150.6" r="2.25" fill="#74c20c"/>
<circle cx="184.8" cy="151.7" r="2.25" fill="#7636b6"/>
<circle cx="177.6" cy="152.8" r="2.25" fill="#4d8ac8"/>
<circle cx="193.0" cy="151.1" r="2.25" fill="#4d8ac8"/>
<circle cx="198.5" cy="151.1" r="2.25" fill="#4d8ac8"/>
<circle cx="206.3" cy="151.1" r="2.25" fill="#86dccd"/>
<circle cx="177.6" cy="157.7" r="2.25" fill="#2f4fa6"/>
<circle cx="190.8" cy="157.7" r="2.25" fill="#86dccd"/>
<circle cx="195.2" cy="157.7" r="2.25" fill="#86dccd"/>
<circle cx="200.7" cy="155.0" r="2.25" fill="#7636b6"/>
<circle cx="206.3" cy="157.2" r="2.25" fill="#86dccd"/>
<circle cx="175.4" cy="161.6" r="2.25" fill="#7636b6"/>
<circle cx="180.9" cy="161.6" r="2.25" fill="#4d8ac8"/>
<circle cx="184.2" cy="161.6" r="2.25" fill="#2f4fa6"/>
<circle cx="189.2" cy="161.0" r="2.25" fill="#4d8ac8"/>
<circle cx="194.1" cy="162.7" r="2.25" fill="#4d8ac8"/>
<circle cx="186.4" cy="163.2" r="2.25" fill="#7636b6"/>
<circle cx="177.6" cy="164.3" r="2.25" fill="#7636b6"/>
<circle cx="174.3" cy="165.4" r="2.25" fill="#74c20c"/>
<circle cx="180.9" cy="165.4" r="2.25" fill="#4d8ac8"/>
<circle cx="184.2" cy="166.5" r="2.25" fill="#4d8ac8"/>
<circle cx="188.6" cy="167.1" r="2.25" fill="#7636b6"/>
<circle cx="167.2" cy="164.9" r="2.25" fill="#86dccd"/>
<circle cx="161.1" cy="161.0" r="2.25" fill="#4d8ac8"/>
<circle cx="196.9" cy="169.8" r="2.25" fill="#7636b6"/>
<circle cx="198.0" cy="179.2" r="2.25" fill="#86dccd"/>
<circle cx="182.0" cy="172.0" r="2.25" fill="#4d8ac8"/>
<circle cx="185.3" cy="180.8" r="2.25" fill="#86dccd"/>
<circle cx="192.0" cy="180.8" r="2.25" fill="#4d8ac8"/>
<circle cx="137.0" cy="169.2" r="2.25" fill="#7636b6"/>
<circle cx="141.7" cy="168.6" r="2.25" fill="#7636b6"/>
<circle cx="149.1" cy="167.3" r="2.25" fill="#2f4fa6"/>
<circle cx="137.3" cy="172.5" r="2.25" fill="#2f4fa6"/>
<circle cx="126.5" cy="174.1" r="2.25" fill="#7636b6"/>
<circle cx="139.2" cy="177.2" r="2.25" fill="#4d8ac8"/>
<circle cx="129.8" cy="178.5" r="2.25" fill="#86dccd"/>
<circle cx="121.6" cy="179.1" r="2.25" fill="#2f4fa6"/>
<circle cx="113.9" cy="179.1" r="2.25" fill="#86dccd"/>
<circle cx="159.6" cy="160.9" r="2.25" fill="#4d8ac8"/>
<circle cx="157.4" cy="169.7" r="2.25" fill="#7636b6"/>
<circle cx="158.5" cy="168.1" r="2.25" fill="#86dccd"/>
<circle cx="156.3" cy="175.2" r="2.25" fill="#4d8ac8"/>
<circle cx="102.4" cy="187.2" r="2.25" fill="#4d8ac8"/>
<circle cx="97.4" cy="193.8" r="2.25" fill="#4d8ac8"/>
<circle cx="99.1" cy="193.3" r="2.25" fill="#86dccd"/>
<circle cx="92.5" cy="196.6" r="2.25" fill="#4d8ac8"/>
<circle cx="107.9" cy="193.8" r="2.25" fill="#7636b6"/>
<circle cx="102.4" cy="199.9" r="2.25" fill="#4d8ac8"/>
<circle cx="96.3" cy="205.4" r="2.25" fill="#4d8ac8"/>
<circle cx="80.9" cy="208.1" r="2.25" fill="#2f4fa6"/>
<circle cx="84.8" cy="208.1" r="2.25" fill="#74c20c"/>
<circle cx="89.7" cy="209.2" r="2.25" fill="#2f4fa6"/>
<circle cx="101.9" cy="204.3" r="2.25" fill="#4d8ac8"/>
<circle cx="88.1" cy="214.2" r="2.25" fill="#2f4fa6"/>
<circle cx="96.3" cy="211.4" r="2.25" fill="#4d8ac8"/>
<circle cx="101.9" cy="213.1" r="2.25" fill="#7636b6"/>
<circle cx="105.7" cy="210.9" r="2.25" fill="#2f4fa6"/>
<circle cx="107.4" cy="214.7" r="2.25" fill="#86dccd"/>
<circle cx="95.8" cy="217.0" r="2.25" fill="#7636b6"/>
<circle cx="79.8" cy="218.0" r="2.25" fill="#2f4fa6"/>
<circle cx="91.9" cy="220.2" r="2.25" fill="#4d8ac8"/>
<circle cx="100.7" cy="220.2" r="2.25" fill="#86dccd"/>
<circle cx="75.4" cy="223.0" r="2.25" fill="#74c20c"/>
<circle cx="83.1" cy="221.9" r="2.25" fill="#74c20c"/>
<circle cx="104.0" cy="218.0" r="2.25" fill="#4d8ac8"/>
<circle cx="87.5" cy="218.0" r="2.25" fill="#2f4fa6"/>
<circle cx="90.8" cy="214.7" r="2.25" fill="#86dccd"/>
<circle cx="121.2" cy="220.3" r="2.25" fill="#7636b6"/>
<circle cx="137.7" cy="219.6" r="2.25" fill="#74c20c"/>
<circle cx="139.0" cy="222.2" r="2.25" fill="#7636b6"/>
<circle cx="159.7" cy="196.5" r="2.25" fill="#74c20c"/>
<circle cx="165.7" cy="198.2" r="2.25" fill="#74c20c"/>
<circle cx="141.5" cy="192.1" r="2.25" fill="#7636b6"/>
<circle cx="126.1" cy="200.9" r="2.25" fill="#7636b6"/>
<circle cx="137.7" cy="218.5" r="2.25" fill="#74c20c"/>
<circle cx="85.3" cy="255.2" r="2.25" fill="#74c20c"/>
<circle cx="86.5" cy="257.5" r="2.25" fill="#86dccd"/>
<circle cx="87.5" cy="259.5" r="2.25" fill="#4d8ac8"/>
<circle cx="82.4" cy="139.8" r="2.25" fill="#7636b6"/>
<circle cx="241.2" cy="127.9" r="2.25" fill="#74c20c"/>
<circle cx="231.2" cy="131.9" r="2.25" fill="#74c20c"/>
<circle cx="268.4" cy="120.5" r="2.25" fill="#74c20c"/>
<circle cx="273.4" cy="142.3" r="2.25" fill="#ec5518"/>
<circle cx="242.9" cy="150.5" r="2.25" fill="#74c20c"/>
<circle cx="254.0" cy="183.7" r="2.25" fill="#ec5518"/>
<circle cx="297.0" cy="123.9" r="2.25" fill="#86dccd"/>
<circle cx="297.1" cy="123.9" r="2.25" fill="#86dccd"/>
<circle cx="252.0" cy="247.1" r="2.25" fill="#74c20c"/>
<circle cx="302.4" cy="61.4" r="2.25" fill="#86dccd"/>
<circle cx="279.2" cy="113.9" r="2.25" fill="#86dccd"/>
<circle cx="269.2" cy="110.2" r="2.25" fill="#74c20c"/>
<circle cx="157.5" cy="194.0" r="2.25" fill="#4d8ac8"/>
<circle cx="145.8" cy="186.7" r="2.25" fill="#86dccd"/>
<circle cx="151.4" cy="193.5" r="2.25" fill="#4d8ac8"/>
<circle cx="146.5" cy="188.3" r="2.25" fill="#4d8ac8"/>
<circle cx="143.4" cy="181.1" r="2.25" fill="#4d8ac8"/>
<circle cx="147.2" cy="182.5" r="2.25" fill="#86dccd"/>
<circle cx="152.1" cy="198.6" r="2.25" fill="#86dccd"/>
<circle cx="152.1" cy="183.4" r="2.25" fill="#4d8ac8"/>
<circle cx="149.7" cy="194.4" r="2.25" fill="#4d8ac8"/>
<circle cx="151.4" cy="194.1" r="2.25" fill="#86dccd"/>
<circle cx="143.3" cy="194.4" r="2.25" fill="#4d8ac8"/>
<circle cx="153.5" cy="195.0" r="2.25" fill="#4d8ac8"/>
<circle cx="144.8" cy="186.4" r="2.25" fill="#86dccd"/>
<circle cx="147.3" cy="199.9" r="2.25" fill="#4d8ac8"/>
<circle cx="148.2" cy="194.7" r="2.25" fill="#4d8ac8"/>
<circle cx="144.9" cy="190.8" r="2.25" fill="#86dccd"/>
<circle cx="161.5" cy="195.6" r="2.25" fill="#7636b6"/>
<circle cx="150.7" cy="186.1" r="2.25" fill="#86dccd"/>
<circle cx="143.2" cy="183.5" r="2.25" fill="#4d8ac8"/>
<circle cx="156.8" cy="196.9" r="2.25" fill="#4d8ac8"/>
<circle cx="146.1" cy="190.7" r="2.25" fill="#2f4fa6"/>
<circle cx="148.0" cy="186.9" r="2.25" fill="#4d8ac8"/>
<circle cx="130.5" cy="194.5" r="2.25" fill="#2f4fa6"/>
<circle cx="149.5" cy="184.9" r="2.25" fill="#4d8ac8"/>
<circle cx="150.6" cy="189.3" r="2.25" fill="#4d8ac8"/>
<circle cx="145.8" cy="184.0" r="2.25" fill="#86dccd"/>
<circle cx="152.2" cy="196.9" r="2.25" fill="#4d8ac8"/>
<circle cx="147.7" cy="199.8" r="2.25" fill="#86dccd"/>
<circle cx="147.7" cy="193.1" r="2.25" fill="#86dccd"/>
<circle cx="154.6" cy="194.2" r="2.25" fill="#86dccd"/>
<circle cx="143.9" cy="180.6" r="2.25" fill="#4d8ac8"/>
<circle cx="146.7" cy="200.1" r="2.25" fill="#86dccd"/>
<circle cx="152.7" cy="182.2" r="2.25" fill="#4d8ac8"/>
<circle cx="133.4" cy="196.2" r="2.25" fill="#86dccd"/>
<circle cx="156.9" cy="185.2" r="2.25" fill="#86dccd"/>
<circle cx="155.5" cy="196.5" r="2.25" fill="#86dccd"/>
<circle cx="157.2" cy="188.5" r="2.25" fill="#86dccd"/>
<circle cx="141.7" cy="198.6" r="2.25" fill="#86dccd"/>
<circle cx="154.7" cy="189.4" r="2.25" fill="#86dccd"/>
<circle cx="143.3" cy="194.4" r="2.25" fill="#74c20c"/>
<circle cx="155.6" cy="197.3" r="2.25" fill="#4d8ac8"/>
<circle cx="150.4" cy="196.9" r="2.25" fill="#86dccd"/>
<circle cx="151.8" cy="186.3" r="2.25" fill="#74c20c"/>
<circle cx="149.5" cy="191.2" r="2.25" fill="#4d8ac8"/>
<circle cx="139.6" cy="186.0" r="2.25" fill="#7636b6"/>
<circle cx="154.8" cy="192.8" r="2.25" fill="#86dccd"/>
<circle cx="137.3" cy="183.9" r="2.25" fill="#86dccd"/>
<circle cx="143.3" cy="186.3" r="2.25" fill="#4d8ac8"/>
<circle cx="131.9" cy="191.9" r="2.25" fill="#4d8ac8"/>
<circle cx="146.6" cy="197.4" r="2.25" fill="#2f4fa6"/>
<circle cx="154.3" cy="187.8" r="2.25" fill="#2f4fa6"/>
<circle cx="153.4" cy="187.4" r="2.25" fill="#2f4fa6"/>
<circle cx="149.0" cy="192.1" r="2.25" fill="#4d8ac8"/>
<circle cx="144.5" cy="186.7" r="2.25" fill="#4d8ac8"/>
<circle cx="138.7" cy="186.7" r="2.25" fill="#86dccd"/>
<circle cx="148.6" cy="185.3" r="2.25" fill="#86dccd"/>
<circle cx="158.0" cy="186.2" r="2.25" fill="#4d8ac8"/>
<circle cx="153.7" cy="191.5" r="2.25" fill="#86dccd"/>
<circle cx="147.9" cy="196.7" r="2.25" fill="#4d8ac8"/>
<circle cx="153.5" cy="201.5" r="2.25" fill="#4d8ac8"/>
<circle cx="160.4" cy="195.1" r="2.25" fill="#4d8ac8"/>
<circle cx="147.3" cy="183.4" r="2.25" fill="#4d8ac8"/>
<circle cx="149.1" cy="199.5" r="2.25" fill="#7636b6"/>
<circle cx="127.8" cy="190.1" r="2.25" fill="#86dccd"/>
<circle cx="144.6" cy="185.1" r="2.25" fill="#86dccd"/>
<circle cx="148.1" cy="189.2" r="2.25" fill="#4d8ac8"/>
<path d="M347.0,75.0 L341.0,76.0 L336.3,76.8 L335.5,74.3 L336.3,71.3 L338.0,67.7 L339.6,61.0 L342.1,52.8 L344.6,46.2 L344.6,42.0 L343.5,30.0 L333.0,30.0 L331.0,41.5 L327.2,44.5 L320.6,49.5 L319.8,50.3 L315.7,58.6 L311.5,63.8 L308.5,71.6 L307.5,79.3 L306.6,85.1 L305.6,89.9 L308.5,91.9 L314.3,90.9 L325.9,90.9 L322.0,95.7 L317.2,99.6 L313.3,103.4 L313.3,108.3 L314.3,112.1 L308.5,116.0 L303.7,117.0 L302.7,119.8 L305.6,122.7 L309.5,122.7 L320.1,122.7 L325.9,119.8 L333.6,114.1 L341.3,106.3 L347.0,100.5" fill="none" stroke="#2b2b2b" stroke-width="0.8" stroke-linejoin="round"/>
<path d="M232.4,272.0 L238.0,268.5 L246.9,263.0 L253.0,261.5 L259.2,259.9 L266.0,255.0 L273.7,250.2 L282.0,244.4 L287.1,238.8 L293.3,241.3 L301.6,239.9 L308.8,237.6 L315.0,232.0 L321.2,226.9 L328.0,220.0 L335.7,212.8 L341.0,208.5 L347.0,205.5" fill="none" stroke="#2b2b2b" stroke-width="0.8" stroke-linejoin="round"/>
<path d="M92.5,272.0 L91.7,270.4 L88.0,264.0 L87.0,256.0 L86.3,250.0 L85.9,246.4 L84.0,240.0 L83.0,234.0 L81.0,228.5 L85.3,222.4 L85.9,218.0 L84.2,213.6 L85.3,208.7 L89.2,204.8 L97.4,199.3 L105.0,196.5 L112.5,196.5 L120.0,194.0 L130.5,189.3 L137.3,183.8 L145.6,180.5 L152.0,178.5 L160.0,175.0 L168.0,171.0 L173.0,169.5 L175.0,172.0 L172.0,180.0 L169.0,188.0 L166.0,196.0 L164.3,205.0 L163.5,209.6 L163.5,211.6 L158.7,217.1 L153.0,216.0 L149.3,215.5 L146.0,216.6 L140.5,219.9 L138.3,221.6 L132.0,226.0 L128.0,232.0 L131.0,237.0 L130.8,238.0 L131.7,242.0 L132.7,244.9 L131.7,247.9 L132.7,250.9 L133.7,251.9 L132.7,255.8 L132.2,260.8 L132.2,265.8 L132.7,272.0" fill="none" stroke="#2b2b2b" stroke-width="0.8" stroke-linejoin="round"/>
<path d="M107.0,248.9 L109.9,247.9 L111.4,245.9 L112.9,246.9 L115.9,248.9 L118.8,250.9 L121.8,249.9 L124.8,248.9 L127.8,246.9 L130.8,246.9 L131.7,249.0 L128.8,252.4 L126.8,253.9 L126.3,260.8 L124.8,258.8 L121.8,258.3 L118.4,257.3 L116.9,255.8 L114.9,254.4 L111.9,254.8 L108.9,257.3 L106.0,256.8 L105.0,253.9 L106.0,250.9 Z" fill="none" stroke="#2b2b2b" stroke-width="0.8" stroke-linejoin="round"/>
<path d="M112.1,115.4 L114.5,114.4" stroke="#333" stroke-width="1.1"/>
<path d="M108.6,159.5 L111.0,158.5" stroke="#333" stroke-width="1.1"/>
<path d="M104.2,163.9 L106.6,162.9" stroke="#333" stroke-width="1.1"/>
<path d="M109.3,159.4 L111.7,158.4" stroke="#333" stroke-width="1.1"/>
<path d="M99.1,257.2 L103.6,264.8 L94.6,264.8 Z" fill="#a9a9a9" stroke="#444" stroke-width="0.7" stroke-linejoin="miter"/>
<path d="M121.1,258.8 L125.6,266.4 L116.6,266.4 Z" fill="#a9a9a9" stroke="#444" stroke-width="0.7" stroke-linejoin="miter"/>
<path d="M252.0,262.0 L256.5,269.6 L247.5,269.6 Z" fill="#a9a9a9" stroke="#444" stroke-width="0.7" stroke-linejoin="miter"/>
<path d="M305.1,236.8 L309.6,244.4 L300.6,244.4 Z" fill="#a9a9a9" stroke="#444" stroke-width="0.7" stroke-linejoin="miter"/>
<path d="M309.2,262.0 L313.7,269.6 L304.7,269.6 Z" fill="#a9a9a9" stroke="#444" stroke-width="0.7" stroke-linejoin="miter"/>
<path d="M330.9,256.2 L335.4,263.8 L326.4,263.8 Z" fill="#a9a9a9" stroke="#444" stroke-width="0.7" stroke-linejoin="miter"/>
<path d="M337.7,243.0 L342.2,250.6 L333.2,250.6 Z" fill="#a9a9a9" stroke="#444" stroke-width="0.7" stroke-linejoin="miter"/>
<path d="M345.6,100.5 L350.1,108.1 L341.1,108.1 Z" fill="#a9a9a9" stroke="#444" stroke-width="0.7" stroke-linejoin="miter"/>
</g>
<rect x="52.00" y="24.8" width="14.70" height="6.20" fill="#111"/>
<rect x="52.00" y="271.4" width="14.70" height="6.20" fill="#111"/>
<rect x="96.10" y="24.8" width="29.40" height="6.20" fill="#111"/>
<rect x="96.10" y="271.4" width="29.40" height="6.20" fill="#111"/>
<rect x="154.90" y="24.8" width="29.40" height="6.20" fill="#111"/>
<rect x="154.90" y="271.4" width="29.40" height="6.20" fill="#111"/>
<rect x="213.70" y="24.8" width="29.40" height="6.20" fill="#111"/>
<rect x="213.70" y="271.4" width="29.40" height="6.20" fill="#111"/>
<rect x="272.50" y="24.8" width="29.40" height="6.20" fill="#111"/>
<rect x="272.50" y="271.4" width="29.40" height="6.20" fill="#111"/>
<rect x="331.30" y="24.8" width="14.70" height="6.20" fill="#111"/>
<rect x="331.30" y="271.4" width="14.70" height="6.20" fill="#111"/>
<rect x="45.5" y="49.58" width="6.50" height="36.97" fill="#111"/>
<rect x="346.0" y="49.58" width="6.50" height="36.97" fill="#111"/>
<rect x="45.5" y="123.52" width="6.50" height="36.97" fill="#111"/>
<rect x="346.0" y="123.52" width="6.50" height="36.97" fill="#111"/>
<rect x="45.5" y="197.46" width="6.50" height="36.97" fill="#111"/>
<rect x="346.0" y="197.46" width="6.50" height="36.97" fill="#111"/>
<rect x="45.5" y="24.8" width="307.0" height="252.8" fill="none" stroke="#666" stroke-width="0.9"/>
<rect x="52.0" y="31.0" width="294.0" height="240.39999999999998" fill="none" stroke="#666" stroke-width="0.9"/>
<line x1="45.5" y1="31.0" x2="352.5" y2="31.0" stroke="#666" stroke-width="0.9"/>
<line x1="45.5" y1="271.4" x2="352.5" y2="271.4" stroke="#666" stroke-width="0.9"/>
<line x1="52.0" y1="24.8" x2="52.0" y2="277.6" stroke="#666" stroke-width="0.9"/>
<line x1="346.0" y1="24.8" x2="346.0" y2="277.6" stroke="#666" stroke-width="0.9"/>
<text x="0.34" y="92.60" font-size="14.5" fill="#231f20" textLength="39.16" lengthAdjust="spacingAndGlyphs" >38°00'</text>
<text x="0.34" y="184.80" font-size="14.5" fill="#231f20" textLength="39.16" lengthAdjust="spacingAndGlyphs" >37°30'</text>
<text x="0.34" y="276.60" font-size="14.5" fill="#231f20" textLength="39.16" lengthAdjust="spacingAndGlyphs" >37°00'</text>
<text x="28.43" y="294.80" font-size="14.2" fill="#231f20" textLength="48.21" lengthAdjust="spacingAndGlyphs" >136°30'</text>
<text x="101.95" y="294.80" font-size="14.2" fill="#231f20" textLength="47.07" lengthAdjust="spacingAndGlyphs" >137°00'</text>
<text x="175.32" y="294.80" font-size="14.2" fill="#231f20" textLength="48.52" lengthAdjust="spacingAndGlyphs" >137°30'</text>
<text x="248.32" y="294.80" font-size="14.2" fill="#231f20" textLength="48.52" lengthAdjust="spacingAndGlyphs" >138°00'</text>
<text x="322.26" y="294.80" font-size="14.2" fill="#231f20" textLength="46.97" lengthAdjust="spacingAndGlyphs" >138°30'</text>
<text x="52.10" y="12.70" font-size="13.7" fill="#231f20" textLength="16.22" lengthAdjust="spacingAndGlyphs" >(a)</text>
<path d="M158.2,126.5 L164.5,170" stroke="#555" stroke-width="0.8" fill="none"/>
<path d="M336.4,33.5 L342.2,43.3 L330.6,43.3 Z" fill="#e3321f" stroke="#3a1a14" stroke-width="0.7" stroke-linejoin="miter"/>
<text x="343.50" y="43.90" font-size="12.7" fill="#231f20" textLength="43.08" lengthAdjust="spacingAndGlyphs" >NIG001</text>
<path d="M319.9,81.0 L325.7,90.8 L314.1,90.8 Z" fill="#e3321f" stroke="#3a1a14" stroke-width="0.7" stroke-linejoin="miter"/>
<text x="327.31" y="91.90" font-size="12.7" fill="#231f20" textLength="42.70" lengthAdjust="spacingAndGlyphs" >NIG003</text>
<path d="M313.4,113.9 L319.2,123.7 L307.6,123.7 Z" fill="#e3321f" stroke="#3a1a14" stroke-width="0.7" stroke-linejoin="miter"/>
<text x="321.00" y="124.60" font-size="12.7" fill="#231f20" textLength="42.99" lengthAdjust="spacingAndGlyphs" >NIG004</text>
<path d="M151.5,172.8 L157.3,182.6 L145.7,182.6 Z" fill="#e3321f" stroke="#3a1a14" stroke-width="0.7" stroke-linejoin="miter"/>
<text x="158.74" y="184.60" font-size="12.6" fill="#231f20" textLength="38.80" lengthAdjust="spacingAndGlyphs" >ISK001</text>
<path d="M167.5,167.0 L173.3,176.8 L161.7,176.8 Z" fill="#e3321f" stroke="#3a1a14" stroke-width="0.7" stroke-linejoin="miter"/>
<path d="M167.7,182.4 L173.5,192.2 L161.9,192.2 Z" fill="#e3321f" stroke="#3a1a14" stroke-width="0.7" stroke-linejoin="miter"/>
<path d="M112.5,193.6 L118.3,203.4 L106.7,203.4 Z" fill="#e3321f" stroke="#3a1a14" stroke-width="0.7" stroke-linejoin="miter"/>
<text x="119.83" y="203.30" font-size="12.6" fill="#231f20" textLength="39.05" lengthAdjust="spacingAndGlyphs" >ISK003</text>
<path d="M131.3,199.9 L137.1,209.7 L125.5,209.7 Z" fill="#e3321f" stroke="#3a1a14" stroke-width="0.7" stroke-linejoin="miter"/>
<text x="138.02" y="208.40" font-size="12.6" fill="#231f20" textLength="41.19" lengthAdjust="spacingAndGlyphs" >ISKH02</text>
<path d="M161.9,201.8 L167.7,211.6 L156.1,211.6 Z" fill="#e3321f" stroke="#3a1a14" stroke-width="0.7" stroke-linejoin="miter"/>
<text x="168.62" y="212.20" font-size="12.6" fill="#231f20" textLength="41.38" lengthAdjust="spacingAndGlyphs" >ISKH03</text>
<path d="M112.1,223.3 L117.9,233.1 L106.3,233.1 Z" fill="#e3321f" stroke="#3a1a14" stroke-width="0.7" stroke-linejoin="miter"/>
<text x="118.21" y="234.30" font-size="12.6" fill="#231f20" textLength="39.68" lengthAdjust="spacingAndGlyphs" >ISK015</text>
<path d="M83.8,230.5 L89.6,240.3 L78.0,240.3 Z" fill="#e3321f" stroke="#3a1a14" stroke-width="0.7" stroke-linejoin="miter"/>
<text x="89.90" y="240.30" font-size="12.6" fill="#231f20" textLength="42.29" lengthAdjust="spacingAndGlyphs" >ISKH04</text>
<path d="M80.4,236.0 L86.2,245.8 L74.6,245.8 Z" fill="#e3321f" stroke="#3a1a14" stroke-width="0.7" stroke-linejoin="miter"/>
<text x="86.01" y="246.50" font-size="12.6" fill="#231f20" textLength="39.68" lengthAdjust="spacingAndGlyphs" >ISK006</text>
<path d="M165.50,167.80 L168.95,175.55 L177.39,176.44 L171.09,182.12 L172.85,190.41 L165.50,186.18 L158.15,190.41 L159.91,182.12 L153.61,176.44 L162.05,175.55 Z" fill="#74bf1e" stroke="#1d2a10" stroke-width="0.8"/>
<text x="173.92" y="179.30" font-size="12.6" fill="#231f20" textLength="41.23" lengthAdjust="spacingAndGlyphs" >ISKH01</text>
<text x="174.80" y="193.20" font-size="12.6" fill="#231f20" textLength="40.01" lengthAdjust="spacingAndGlyphs" >ISK002</text>
<circle cx="154.6" cy="105.4" r="21.1" fill="#fff" stroke="#444" stroke-width="0.7"/>
<path d="M139,117.5 C138,106 141.5,96 149.5,90.2 C153.5,87.6 158.5,86.4 163,86.2 A21.1,21.1 0 0 1 173.1,95.6 C172,103 166.5,110 160.3,113.2 C154,116.5 146,118.3 139,117.5 Z" fill="#e2351f"/>
<path d="M138.2,117.2 L141.8,117.9 L143.2,122.6 A21.1,21.1 0 0 1 138.2,117.2 Z" fill="#e2351f"/>
<circle cx="154.6" cy="105.4" r="21.1" fill="none" stroke="#444" stroke-width="0.7"/>
<text x="99.56" y="80.80" font-size="10.9" fill="#231f20" textLength="110.38" lengthAdjust="spacingAndGlyphs" >2024/01/01 16:10 M7.6</text>
<rect x="52.80" y="318.4" width="23.25" height="16.5" fill="#7f3fb2"/>
<rect x="75.75" y="318.4" width="23.25" height="16.5" fill="#2f4fa6"/>
<rect x="98.70" y="318.4" width="23.25" height="16.5" fill="#4d8ac8"/>
<rect x="121.65" y="318.4" width="23.25" height="16.5" fill="#86dccd"/>
<rect x="144.60" y="318.4" width="23.25" height="16.5" fill="#6cbf0e"/>
<rect x="167.55" y="318.4" width="23.25" height="16.5" fill="#95cb14"/>
<rect x="190.50" y="318.4" width="23.25" height="16.5" fill="#f6e035"/>
<rect x="213.45" y="318.4" width="23.25" height="16.5" fill="#ec5518"/>
<rect x="51.8" y="317.5" width="185.6" height="17.8" fill="none" stroke="#111" stroke-width="1.9"/>
<line x1="52.0" y1="336" x2="52.0" y2="342.5" stroke="#888" stroke-width="1"/>
<text x="48.04" y="358.90" font-size="14.2" fill="#231f20" textLength="7.76" lengthAdjust="spacingAndGlyphs" >0</text>
<line x1="109.8" y1="336" x2="109.8" y2="342.5" stroke="#888" stroke-width="1"/>
<text x="101.69" y="358.90" font-size="14.2" fill="#231f20" textLength="16.46" lengthAdjust="spacingAndGlyphs" >10</text>
<line x1="167.6" y1="336" x2="167.6" y2="342.5" stroke="#888" stroke-width="1"/>
<text x="159.15" y="358.90" font-size="14.2" fill="#231f20" textLength="16.60" lengthAdjust="spacingAndGlyphs" >20</text>
<line x1="225.4" y1="336" x2="225.4" y2="342.5" stroke="#888" stroke-width="1"/>
<text x="217.52" y="358.90" font-size="14.2" fill="#231f20" textLength="16.01" lengthAdjust="spacingAndGlyphs" >30</text>
<text x="242.71" y="331.90" font-size="14.3" fill="#231f20" textLength="73.67" lengthAdjust="spacingAndGlyphs" >Depth (km)</text>
<line x1="421.1" y1="67.8" x2="608.0" y2="67.8" stroke="#111" stroke-width="2.1"/>
<line x1="422.2" y1="61.3" x2="422.2" y2="67" stroke="#333" stroke-width="0.9"/>
<line x1="440.7" y1="64.3" x2="440.7" y2="67" stroke="#333" stroke-width="0.9"/>
<line x1="459.2" y1="61.3" x2="459.2" y2="67" stroke="#333" stroke-width="0.9"/>
<line x1="477.7" y1="64.3" x2="477.7" y2="67" stroke="#333" stroke-width="0.9"/>
<line x1="496.2" y1="61.3" x2="496.2" y2="67" stroke="#333" stroke-width="0.9"/>
<line x1="514.7" y1="64.3" x2="514.7" y2="67" stroke="#333" stroke-width="0.9"/>
<line x1="533.2" y1="61.3" x2="533.2" y2="67" stroke="#333" stroke-width="0.9"/>
<line x1="551.7" y1="64.3" x2="551.7" y2="67" stroke="#333" stroke-width="0.9"/>
<line x1="570.2" y1="61.3" x2="570.2" y2="67" stroke="#333" stroke-width="0.9"/>
<line x1="588.7" y1="64.3" x2="588.7" y2="67" stroke="#333" stroke-width="0.9"/>
<line x1="607.2" y1="61.3" x2="607.2" y2="67" stroke="#333" stroke-width="0.9"/>
<text x="417.66" y="55.20" font-size="14.4" fill="#231f20" textLength="8.92" lengthAdjust="spacingAndGlyphs" >0</text>
<text x="450.51" y="55.20" font-size="14.4" fill="#231f20" textLength="17.47" lengthAdjust="spacingAndGlyphs" >20</text>
<text x="487.90" y="55.20" font-size="14.4" fill="#231f20" textLength="16.55" lengthAdjust="spacingAndGlyphs" >40</text>
<text x="524.53" y="55.20" font-size="14.4" fill="#231f20" textLength="17.15" lengthAdjust="spacingAndGlyphs" >60</text>
<text x="561.61" y="55.20" font-size="14.4" fill="#231f20" textLength="17.06" lengthAdjust="spacingAndGlyphs" >80</text>
<text x="595.51" y="55.20" font-size="14.4" fill="#231f20" textLength="22.00" lengthAdjust="spacingAndGlyphs" >100</text>
<text x="489.92" y="34.90" font-size="13.9" fill="#231f20" textLength="50.26" lengthAdjust="spacingAndGlyphs" >Time (s)</text>
<text x="422.02" y="21.80" font-size="13.9" fill="#231f20" textLength="18.00" lengthAdjust="spacingAndGlyphs" >(b)</text>
<line x1="607.2" y1="66.8" x2="607.2" y2="114.8" stroke="#111" stroke-width="2.0"/>
<line x1="607.2" y1="68.2" x2="613.3" y2="68.2" stroke="#333" stroke-width="0.9"/>
<line x1="607.2" y1="90.9" x2="613.3" y2="90.9" stroke="#333" stroke-width="0.9"/>
<line x1="607.2" y1="114.1" x2="613.3" y2="114.1" stroke="#333" stroke-width="0.9"/>
<text x="629.46" y="73.00" font-size="13.7" fill="#231f20" textLength="30.92" lengthAdjust="spacingAndGlyphs" >1000</text>
<text x="652.86" y="95.90" font-size="13.7" fill="#231f20" textLength="7.53" lengthAdjust="spacingAndGlyphs" >0</text>
<text x="619.57" y="118.70" font-size="13.7" fill="#231f20" textLength="40.82" lengthAdjust="spacingAndGlyphs" >−1000</text>
<g transform="translate(680.4,0) rotate(-90)">
<text x="-157.10" y="0.00" font-size="13.7" fill="#231f20" textLength="131.39" lengthAdjust="spacingAndGlyphs" >Acceleration EW (gal)</text>
</g>
<line x1="439.6" y1="70.2" x2="439.6" y2="298.5" stroke="#555" stroke-width="1.0" stroke-dasharray="4.8,2.9"/>
<line x1="463.6" y1="70.2" x2="463.6" y2="298.5" stroke="#555" stroke-width="1.0" stroke-dasharray="4.8,2.9"/>
<text x="424.73" y="315.00" font-size="12.6" fill="#231f20" textLength="29.71" lengthAdjust="spacingAndGlyphs" >M5.9</text>
<text x="463.24" y="315.00" font-size="12.6" fill="#231f20" textLength="29.33" lengthAdjust="spacingAndGlyphs" >M7.6</text>
<path d="M457.30,86.58 457.50,86.22 457.70,86.60 457.90,86.28 458.10,86.60 458.30,86.33 458.50,86.20 458.70,86.56 458.90,86.47 459.10,86.30 459.30,86.48 459.50,86.36 459.70,86.24 459.90,86.26 460.10,86.19 460.30,86.24 460.50,86.29 460.70,86.19 460.90,86.49 461.10,86.32 461.30,86.45 461.50,86.19 461.70,86.61 461.90,86.53 462.10,86.36 462.30,86.61 462.50,86.42 462.70,86.59 462.90,86.33 463.10,86.19 463.30,86.35 463.50,86.19 463.70,86.35 463.90,86.49 464.10,86.26 464.30,86.19 464.50,86.61 464.70,86.37 464.90,86.34 465.10,86.46 465.30,86.40 465.50,86.62 465.70,86.62 465.90,86.29 466.10,86.18 466.30,86.60 466.50,86.25 466.70,86.43 466.90,86.41 467.10,86.21 467.30,86.48 467.50,86.39 467.70,86.38 467.90,86.56 468.10,86.46 468.30,86.62 468.50,86.38 468.70,86.24 468.90,86.18 469.10,86.57 469.30,86.46 469.50,86.29 469.70,86.62 469.90,86.18 470.10,86.18 470.30,86.34 470.50,86.57 470.70,86.55 470.90,86.20 471.10,86.63 471.30,86.17 471.50,86.61 471.70,86.63 471.90,86.17 472.10,86.28 472.30,86.20 472.50,86.37 472.70,86.51 472.90,86.38 473.10,86.50 473.30,86.61 473.50,86.17 473.70,86.42 473.90,86.60 474.10,86.43 474.30,86.43 474.50,86.28 474.70,86.55 474.90,86.63 475.10,86.38 475.30,86.29 475.50,86.37 475.70,86.23 475.90,86.27 476.10,86.42 476.30,86.51 476.50,86.31 476.70,86.41 476.90,86.50 477.10,86.29 477.30,86.53 477.50,86.57 477.70,86.35 477.90,86.35 478.10,86.45 478.30,86.36 478.50,86.64 478.70,86.16 478.90,86.51 479.10,86.41 479.30,86.61 479.50,86.64 479.70,86.64 479.90,86.16 480.10,86.53 480.30,86.30 480.50,86.40 480.70,86.24 480.90,86.22 481.10,86.39 481.30,86.56 481.50,86.64 481.70,86.16 481.90,86.24 482.10,86.57 482.30,86.50 482.50,86.40 482.70,86.47 482.90,86.30 483.10,86.45 483.30,86.58 483.50,86.23 483.70,86.15 483.90,86.43 484.10,86.15 484.30,86.34 484.50,86.15 484.70,86.49 484.90,86.19 485.10,86.65 485.30,86.65 485.50,86.65 485.70,86.50 485.90,86.25 486.10,86.29 486.30,86.26 486.50,86.51 486.70,86.23 486.90,86.65 487.10,86.21 487.30,86.22 487.50,86.37 487.70,86.26 487.90,86.14 488.10,86.44 488.30,86.27 488.50,86.39 488.70,86.52 488.90,86.47 489.10,86.38 489.30,86.40 489.50,86.53 489.70,86.23 489.90,86.35 490.10,86.48 490.30,86.48 490.50,86.24 490.70,86.20 490.90,86.33 491.10,86.35 491.30,86.14 491.50,86.14 491.70,86.66 491.90,86.66 492.10,86.37 492.30,86.24 492.50,86.14 492.70,86.55 492.90,86.22 493.10,86.55 493.30,86.44 493.50,86.31 493.70,86.18 493.90,86.23 494.10,86.13 494.30,86.67 494.50,86.60 494.70,86.21 494.90,86.13 495.10,86.36 495.30,86.53 495.50,86.19 495.70,86.67 495.90,86.47 496.10,86.48 496.30,86.67 496.50,86.39 496.70,86.37 496.90,86.24 497.10,86.16 497.30,86.42 497.50,86.52 497.70,86.13 497.90,86.56 498.10,86.44 498.30,86.24 498.50,86.30 498.70,86.27 498.90,86.37 499.10,86.64 499.30,86.56 499.50,86.36 499.70,86.21 499.90,86.12 500.10,86.14 500.30,86.66 500.50,86.46 500.70,86.40 500.90,86.38 501.10,86.41 501.30,86.23 501.50,86.28 501.70,86.21 501.90,86.43 502.10,86.68 502.30,86.46 502.50,86.23 502.70,86.25 502.90,86.44 503.10,86.62 503.30,86.27 503.50,86.44 503.70,86.45 503.90,86.30 504.10,86.44 504.30,86.63 504.50,86.25 504.70,86.28 504.90,86.11 505.10,86.11 505.30,86.12 505.50,86.64 505.70,86.35 505.90,86.35 506.10,86.34 506.30,86.23 506.50,86.31 506.70,86.54 506.90,86.64 507.10,86.21 507.30,86.22 507.50,86.12 507.70,86.47 507.90,86.26 508.10,86.53 508.30,86.66 508.50,86.69 508.70,86.52 508.90,86.58 509.10,86.54 509.30,86.15 509.50,86.27 509.70,86.23 509.90,86.19 510.10,86.40 510.30,86.66 510.50,86.43 510.70,86.10 510.90,86.30 511.10,86.19 511.30,86.63 511.50,86.42 511.70,86.45 511.90,86.37 512.10,86.58 512.30,86.01 512.50,86.37 512.70,86.88 512.90,86.25 513.10,86.05 513.30,86.63 513.50,86.80 513.70,86.52 513.90,86.93 514.10,86.41 514.30,85.61 514.50,86.38 514.70,86.24 514.90,85.49 515.10,85.49 515.30,86.86 515.50,85.97 515.70,86.96 515.90,85.64 516.10,86.56 516.30,87.17 516.50,87.33 516.70,86.42 516.90,85.46 517.10,86.57 517.30,86.03 517.50,86.05 517.70,86.86 517.90,85.69 518.10,85.45 518.30,86.51 518.50,86.06 518.70,86.34 518.90,85.44 519.10,86.68 519.30,87.15 519.50,85.43 519.70,86.23 519.90,86.44 520.10,86.60 520.30,86.99 520.50,85.42 520.70,85.42 520.90,86.59 521.10,85.50 521.30,86.87 521.50,86.98 521.70,87.40 521.90,86.52 522.10,86.86 522.30,86.86 522.50,87.41 522.70,86.43 522.90,87.41 523.10,87.00 523.30,86.28 523.50,85.50 523.70,85.52 523.90,86.69 524.10,85.37 524.30,86.52 524.50,87.43 524.70,86.00 524.90,85.36 525.10,85.52 525.30,87.44 525.50,85.36 525.70,85.35 525.90,87.45 526.10,85.91 526.30,86.12 526.50,85.34 526.70,86.61 526.90,85.96 527.10,85.34 527.30,86.14 527.50,87.47 527.70,86.48 527.90,86.31 528.10,86.57 528.30,85.42 528.50,87.30 528.70,87.14 528.90,87.49 529.10,85.37 529.30,86.11 529.50,87.45 529.70,87.09 529.90,86.94 530.10,85.30 530.30,86.39 530.50,86.43 530.70,87.33 530.90,86.85 531.10,85.48 531.30,86.98 531.50,86.73 531.70,85.48 531.90,85.28 532.10,85.27 532.30,87.50 532.50,87.28 532.70,85.67 532.90,86.82 533.10,86.62 533.30,86.52 533.50,86.69 533.70,87.10 533.90,85.84 534.10,85.86 534.30,87.35 534.50,87.45 534.70,86.39 534.90,87.56 535.10,85.91 535.30,86.49 535.50,87.57 535.70,85.23 535.90,86.16 536.10,86.40 536.30,86.63 536.50,86.24 536.70,86.67 536.90,86.25 537.10,86.33 537.30,86.96 537.50,86.76 537.70,85.20 537.90,86.58 538.10,86.79 538.30,85.92 538.50,86.82 538.70,86.22 538.90,86.09 539.10,86.53 539.30,86.51 539.50,87.30 539.70,87.94 539.90,86.89 540.10,86.43 540.30,87.74 540.50,87.79 540.70,86.24 540.90,86.64 541.10,86.36 541.30,84.86 541.50,86.31 541.70,88.34 541.90,84.59 542.10,87.60 542.30,85.34 542.50,87.35 542.70,87.93 542.90,86.93 543.10,86.52 543.30,88.39 543.50,85.61 543.70,87.01 543.90,85.97 544.10,84.47 544.30,84.22 544.50,82.10 544.70,83.16 544.90,84.64 545.10,86.64 545.30,89.02 545.50,82.59 545.70,82.10 545.90,82.73 546.10,90.53 546.30,90.28 546.50,84.93 546.70,87.48 546.90,88.86 547.10,86.05 547.30,89.44 547.50,85.33 547.70,89.48 547.90,89.52 548.10,84.66 548.30,89.46 548.50,87.33 548.70,87.22 548.90,89.65 549.10,89.68 549.30,85.72 549.50,86.18 549.70,85.62 549.90,88.31 550.10,89.81 550.30,86.50 550.50,88.30 550.70,83.54 550.90,88.89 551.10,84.60 551.30,83.74 551.50,86.53 551.70,88.51 551.90,87.82 552.10,85.35 552.30,85.23 552.50,82.67 552.70,86.55 552.90,85.02 553.10,89.37 553.30,84.99 553.50,83.46 553.70,87.85 553.90,82.59 554.10,89.90 554.30,87.87 554.50,84.50 554.70,86.83 554.90,86.24 555.10,82.32 555.30,87.27 555.50,83.51 555.70,86.67 555.90,87.90 556.10,88.64 556.30,90.56 556.50,89.98 556.70,86.32 556.90,90.47 557.10,89.26 557.30,85.69 557.50,86.75 557.70,85.47 557.90,90.32 558.10,85.50 558.30,84.62 558.50,82.57 558.70,86.17 558.90,88.07 559.10,86.02 559.30,90.11 559.50,87.37 559.70,82.75 559.90,86.31 560.10,86.50 560.30,85.70 560.50,85.99 560.70,82.90 560.90,89.87 561.10,85.07 561.30,87.71 561.50,89.78 561.70,86.49 561.90,85.23 562.10,89.69 562.30,86.94 562.50,83.83 562.70,87.84 562.90,83.23 563.10,85.91 563.30,89.51 563.50,87.44 563.70,85.49 563.90,84.69 564.10,85.75 564.30,86.18 564.50,88.09 564.70,86.90 564.90,85.04 565.10,84.27 565.30,84.79 565.50,85.63 565.70,87.79 565.90,84.08 566.10,85.86 566.30,86.27 566.50,88.50 566.70,84.37 566.90,85.78 567.10,87.02 567.30,85.90 567.50,86.84 567.70,86.37 567.90,84.80 568.10,85.96 568.30,86.97 568.50,85.68 568.70,87.34 568.90,87.38 569.10,86.94 569.30,86.03 569.50,86.88 569.70,86.62 569.90,87.03 570.10,85.90 570.30,86.31 570.50,85.92 570.70,86.47 570.90,85.88 571.10,85.60 571.30,86.47 571.50,86.04 571.70,85.56 571.90,86.70 572.10,85.89 572.30,85.65 572.50,86.86 572.70,85.69 572.90,86.25 573.10,86.43 573.30,86.00 573.50,86.70 573.70,86.97 573.90,86.20 574.10,86.13 574.30,86.89 574.50,86.87 574.70,86.64 574.90,86.08 575.10,86.59 575.30,86.71 575.50,86.80 575.70,86.65 575.90,86.16 576.10,86.80 576.30,86.00 576.50,86.74 576.70,86.73 576.90,86.34 577.10,86.66 577.30,86.01 577.50,86.50 577.70,86.45 577.90,86.01 578.10,86.65 578.30,86.70 578.50,86.32 578.70,86.29 578.90,86.10 579.10,86.15 579.30,86.57 579.50,86.73 579.70,86.58 579.90,86.51 580.10,86.02 580.30,86.50 580.50,86.33 580.70,86.03 580.90,86.46 581.10,86.29 581.30,86.78 581.50,86.33 581.70,86.78 581.90,86.17 582.10,86.21 582.30,86.78 582.50,86.78 582.70,86.78 582.90,86.77 583.10,86.18 583.30,86.25 583.50,86.30 583.70,86.77 583.90,86.63 584.10,86.03 584.30,86.68 584.50,86.17 584.70,86.38 584.90,86.30 585.10,86.67 585.30,86.03 585.50,86.60 585.70,86.39 585.90,86.35 586.10,86.31 586.30,86.76 586.50,86.25 586.70,86.04 586.90,86.69 587.10,86.76 587.30,86.37 587.50,86.70 587.70,86.13 587.90,86.04 588.10,86.76 588.30,86.04 588.50,86.66 588.70,86.35 588.90,86.69 589.10,86.51 589.30,86.76 589.50,86.75 589.70,86.42 589.90,86.20 590.10,86.05 590.30,86.63 590.50,86.39 590.70,86.08 590.90,86.73 591.10,86.41 591.30,86.75 591.50,86.57 591.70,86.40 591.90,86.39 592.10,86.10 592.30,86.36 592.50,86.75 592.70,86.06 592.90,86.73 593.10,86.23 593.30,86.50 593.50,86.40 593.70,86.44 593.90,86.49 594.10,86.32 594.30,86.19 594.50,86.13 594.70,86.49 594.90,86.60 595.10,86.44 595.30,86.56 595.50,86.28 595.70,86.22 595.90,86.23 596.10,86.17 596.30,86.07 596.50,86.41 596.70,86.73 596.90,86.19 597.10,86.64 597.30,86.07 597.50,86.07 597.70,86.55 597.90,86.50 598.10,86.23 598.30,86.24 598.50,86.13 598.70,86.35 598.90,86.44 599.10,86.08 599.30,86.21 599.50,86.36 599.70,86.36 599.90,86.21 600.10,86.47 600.30,86.41 600.50,86.49 600.70,86.24 600.90,86.60 601.10,86.70 601.30,86.62 601.50,86.55 601.70,86.36 601.90,86.66 602.10,86.08 602.30,86.32 602.50,86.36 602.70,86.38 602.90,86.71 603.10,86.28 603.30,86.71 603.50,86.39 603.70,86.09 603.90,86.60 604.10,86.09 604.30,86.71 604.50,86.32 604.70,86.09 604.90,86.71 605.10,86.22 605.30,86.28 605.50,86.19 605.70,86.59 605.90,86.37 606.10,86.40 606.30,86.10 606.50,86.16 606.70,86.38 606.90,86.70" fill="none" stroke="#1a1a1a" stroke-width="0.7" stroke-linejoin="round"/>
<path d="M448.00,100.26 448.20,100.42 448.40,100.32 448.60,100.29 448.80,100.50 449.00,100.10 449.20,100.43 449.40,100.41 449.60,100.31 449.80,100.36 450.00,100.22 450.20,100.27 450.40,100.46 450.60,100.09 450.80,100.51 451.00,100.19 451.20,100.33 451.40,100.48 451.60,100.31 451.80,100.40 452.00,100.32 452.20,100.28 452.40,100.08 452.60,100.20 452.80,100.26 453.00,100.42 453.20,100.08 453.40,100.08 453.60,100.33 453.80,100.42 454.00,100.18 454.20,100.47 454.40,100.11 454.60,100.28 454.80,100.21 455.00,100.23 455.20,100.36 455.40,100.35 455.60,100.46 455.80,100.29 456.00,100.22 456.20,100.43 456.40,100.08 456.60,100.35 456.80,100.31 457.00,100.29 457.20,100.19 457.40,100.42 457.60,100.23 457.80,100.36 458.00,100.23 458.20,100.55 458.40,100.09 458.60,100.49 458.80,100.05 459.00,100.15 459.20,100.33 459.40,100.48 459.60,100.24 459.80,100.55 460.00,100.16 460.20,100.55 460.40,100.38 460.60,100.25 460.80,100.48 461.00,100.04 461.20,100.49 461.40,100.04 461.60,100.04 461.80,100.44 462.00,100.54 462.20,100.08 462.40,100.04 462.60,100.03 462.80,100.20 463.00,100.03 463.20,100.04 463.40,100.40 463.60,100.10 463.80,100.03 464.00,100.43 464.20,100.44 464.40,100.12 464.60,100.22 464.80,100.57 465.00,100.41 465.20,100.19 465.40,100.11 465.60,100.37 465.80,100.36 466.00,100.27 466.20,100.18 466.40,100.23 466.60,100.51 466.80,100.52 467.00,100.39 467.20,100.33 467.40,100.50 467.60,100.28 467.80,100.39 468.00,100.45 468.20,100.33 468.40,100.11 468.60,100.25 468.80,100.32 469.00,100.42 469.20,100.59 469.40,100.41 469.60,100.38 469.80,100.23 470.00,100.60 470.20,100.55 470.40,100.10 470.60,100.00 470.80,100.10 471.00,100.45 471.20,100.60 471.40,100.60 471.60,100.49 471.80,100.16 472.00,100.31 472.20,100.53 472.40,100.10 472.60,100.42 472.80,100.04 473.00,99.99 473.20,100.37 473.40,100.40 473.60,100.26 473.80,100.34 474.00,100.38 474.20,100.28 474.40,100.42 474.60,100.53 474.80,100.47 475.00,100.31 475.20,100.21 475.40,100.30 475.60,100.27 475.80,100.42 476.00,99.97 476.20,100.16 476.40,99.97 476.60,100.48 476.80,100.14 477.00,100.11 477.20,100.42 477.40,100.63 477.60,99.97 477.80,100.08 478.00,100.47 478.20,100.29 478.40,100.35 478.60,100.39 478.80,99.96 479.00,100.33 479.20,100.07 479.40,100.52 479.60,100.52 479.80,100.32 480.00,100.02 480.20,100.47 480.40,100.47 480.60,100.51 480.80,100.09 481.00,100.33 481.20,100.02 481.40,100.17 481.60,100.11 481.80,100.25 482.00,99.97 482.20,100.16 482.40,100.60 482.60,100.41 482.80,100.20 483.00,100.25 483.20,99.94 483.40,100.14 483.60,100.45 483.80,100.02 484.00,99.94 484.20,100.63 484.40,100.64 484.60,100.20 484.80,100.06 485.00,100.66 485.20,100.67 485.40,99.93 485.60,100.67 485.80,100.52 486.00,100.55 486.20,100.46 486.40,100.18 486.60,100.50 486.80,100.07 487.00,99.97 487.20,100.38 487.40,100.25 487.60,100.34 487.80,100.27 488.00,100.68 488.20,100.34 488.40,100.05 488.60,100.01 488.80,100.26 489.00,100.07 489.20,100.41 489.40,100.36 489.60,99.91 489.80,100.48 490.00,100.45 490.20,100.50 490.40,100.53 490.60,100.39 490.80,99.91 491.00,99.91 491.20,100.12 491.40,100.38 491.60,100.25 491.80,100.70 492.00,99.97 492.20,99.97 492.40,99.99 492.60,100.25 492.80,100.13 493.00,100.30 493.20,100.19 493.40,100.32 493.60,100.66 493.80,100.44 494.00,100.17 494.20,100.48 494.40,100.40 494.60,100.13 494.80,99.95 495.00,100.20 495.20,100.11 495.40,100.71 495.60,100.23 495.80,99.93 496.00,99.94 496.20,100.72 496.40,100.46 496.60,100.37 496.80,100.35 497.00,100.51 497.20,100.31 497.40,99.89 497.60,100.38 497.80,100.72 498.00,100.53 498.20,100.63 498.40,100.73 498.60,99.87 498.80,100.06 499.00,100.18 499.20,100.61 499.40,99.94 499.60,99.87 499.80,99.87 500.00,100.36 500.20,100.65 500.40,99.92 500.60,100.15 500.80,100.70 501.00,100.74 501.20,99.95 501.40,100.07 501.60,99.86 501.80,100.11 502.00,100.30 502.20,99.86 502.40,99.88 502.60,100.12 502.80,100.24 503.00,100.48 503.20,100.70 503.40,99.85 503.60,100.38 503.80,100.41 504.00,100.39 504.20,99.85 504.40,100.18 504.60,100.14 504.80,99.98 505.00,100.36 505.20,100.65 505.40,100.76 505.60,100.09 505.80,100.49 506.00,100.76 506.20,100.76 506.40,100.33 506.60,100.30 506.80,100.11 507.00,100.74 507.20,100.27 507.40,100.30 507.60,100.46 507.80,99.96 508.00,100.27 508.20,100.52 508.40,100.56 508.60,100.47 508.80,100.70 509.00,100.73 509.20,100.20 509.40,100.26 509.60,100.05 509.80,100.45 510.00,99.91 510.20,99.82 510.40,99.96 510.60,100.02 510.80,100.78 511.00,99.82 511.20,99.90 511.40,100.01 511.60,100.22 511.80,100.70 512.00,100.40 512.20,99.81 512.40,100.21 512.60,99.90 512.80,100.79 513.00,99.81 513.20,99.97 513.40,99.81 513.60,100.57 513.80,100.03 514.00,99.98 514.20,99.97 514.40,100.37 514.60,99.80 514.80,100.39 515.00,100.80 515.20,100.82 515.40,100.26 515.60,100.85 515.80,100.70 516.00,100.62 516.20,100.02 516.40,100.92 516.60,99.83 516.80,100.96 517.00,100.67 517.20,100.77 517.40,100.50 517.60,99.67 517.80,101.04 518.00,100.79 518.20,101.08 518.40,99.51 518.60,100.03 518.80,100.45 519.00,100.37 519.20,99.48 519.40,100.47 519.60,101.02 519.80,99.53 520.00,100.62 520.20,100.72 520.40,101.23 520.60,99.65 520.80,100.91 521.00,100.70 521.20,100.05 521.40,101.35 521.60,101.37 521.80,99.55 522.00,100.04 522.20,99.18 522.40,100.38 522.60,99.56 522.80,99.12 523.00,99.52 523.20,99.09 523.40,99.65 523.60,99.14 523.80,99.21 524.00,100.92 524.20,101.60 524.40,100.35 524.60,99.62 524.80,100.86 525.00,99.96 525.20,101.15 525.40,100.37 525.60,100.20 525.80,100.94 526.00,98.85 526.20,100.71 526.40,100.70 526.60,98.79 526.80,99.74 527.00,100.91 527.20,100.54 527.40,98.73 527.60,101.02 527.80,99.72 528.00,100.49 528.20,98.92 528.40,101.22 528.60,99.53 528.80,98.60 529.00,99.40 529.20,101.05 529.40,99.37 529.60,100.05 529.80,101.13 530.00,101.53 530.20,101.71 530.40,99.59 530.60,101.54 530.80,100.51 531.00,98.39 531.20,100.59 531.40,99.52 531.60,101.22 531.80,99.06 532.00,98.73 532.20,98.88 532.40,98.23 532.60,102.39 532.80,101.42 533.00,101.38 533.20,98.88 533.40,100.51 533.60,101.61 533.80,100.76 534.00,101.71 534.20,100.08 534.40,98.33 534.60,102.01 534.80,97.96 535.00,97.93 535.20,102.29 535.40,97.89 535.60,101.80 535.80,101.41 536.00,100.91 536.20,100.17 536.40,101.51 536.60,102.85 536.80,99.70 537.00,97.71 537.20,100.30 537.40,99.26 537.60,97.97 537.80,98.13 538.00,99.90 538.20,98.98 538.40,99.91 538.60,101.48 538.80,98.96 539.00,101.86 539.20,97.76 539.40,101.27 539.60,100.24 539.80,102.13 540.00,103.23 540.20,103.26 540.40,101.23 540.60,97.74 540.80,99.83 541.00,100.76 541.20,97.23 541.40,97.56 541.60,102.48 541.80,97.83 542.00,103.46 542.20,98.85 542.40,100.24 542.60,98.61 542.80,100.73 543.00,98.24 543.20,97.00 543.40,100.06 543.60,101.75 543.80,96.96 544.00,100.52 544.20,102.92 544.40,99.60 544.60,101.55 544.80,100.05 545.00,99.51 545.20,101.13 545.40,102.50 545.60,100.13 545.80,96.69 546.00,98.52 546.20,103.96 546.40,100.43 546.60,98.43 546.80,100.22 547.00,100.86 547.20,101.79 547.40,96.47 547.60,98.77 547.80,103.50 548.00,104.21 548.20,104.24 548.40,101.27 548.60,99.30 548.80,104.32 549.00,98.30 549.20,103.46 549.40,97.35 549.60,102.74 549.80,101.92 550.00,104.49 550.20,102.38 550.40,98.62 550.60,102.06 550.80,101.14 551.00,104.62 551.20,101.22 551.40,97.76 551.60,95.89 551.80,97.63 552.00,97.86 552.20,95.81 552.40,103.72 552.60,104.84 552.80,95.73 553.00,98.22 553.20,96.91 553.40,96.34 553.60,104.86 553.80,97.61 554.00,100.39 554.20,103.05 554.40,99.81 554.60,102.85 554.80,100.04 555.00,96.38 555.20,98.97 555.40,98.56 555.60,96.28 555.80,104.71 556.00,104.70 556.20,99.85 556.40,104.55 556.60,102.63 556.80,96.06 557.00,103.22 557.20,99.50 557.40,104.61 557.60,96.01 557.80,104.58 558.00,99.32 558.20,99.55 558.40,96.31 558.60,100.79 558.80,104.51 559.00,103.12 559.20,97.02 559.40,103.33 559.60,99.90 559.80,101.04 560.00,101.31 560.20,98.43 560.40,97.86 560.60,96.21 560.80,100.67 561.00,101.79 561.20,99.21 561.40,96.26 561.60,104.33 561.80,100.66 562.00,96.35 562.20,98.72 562.40,99.94 562.60,97.51 562.80,99.81 563.00,102.88 563.20,104.08 563.40,98.01 563.60,100.17 563.80,102.44 564.00,98.61 564.20,100.74 564.40,103.87 564.60,97.39 564.80,100.50 565.00,103.00 565.20,100.26 565.40,99.16 565.60,103.65 565.80,99.41 566.00,101.71 566.20,97.06 566.40,98.05 566.60,101.68 566.80,97.96 567.00,100.22 567.20,102.20 567.40,103.33 567.60,97.63 567.80,99.37 568.00,102.32 568.20,100.19 568.40,101.39 568.60,102.49 568.80,99.88 569.00,100.51 569.20,100.90 569.40,100.63 569.60,102.25 569.80,97.70 570.00,100.26 570.20,101.53 570.40,97.97 570.60,100.75 570.80,101.61 571.00,102.68 571.20,100.76 571.40,97.99 571.60,102.23 571.80,99.51 572.00,101.89 572.20,98.12 572.40,98.13 572.60,102.45 572.80,100.89 573.00,102.42 573.20,100.49 573.40,98.21 573.60,102.22 573.80,102.19 574.00,99.65 574.20,101.27 574.40,100.51 574.60,100.43 574.80,98.32 575.00,101.60 575.20,102.25 575.40,101.22 575.60,101.41 575.80,100.16 576.00,100.83 576.20,98.52 576.40,101.90 576.60,100.62 576.80,98.70 577.00,99.50 577.20,98.50 577.40,99.74 577.60,98.89 577.80,99.42 578.00,98.93 578.20,99.61 578.40,100.62 578.60,98.61 578.80,99.02 579.00,100.73 579.20,100.86 579.40,99.76 579.60,101.92 579.80,101.09 580.00,101.04 580.20,100.65 580.40,100.36 580.60,98.76 580.80,100.68 581.00,99.41 581.20,99.78 581.40,101.49 581.60,99.91 581.80,101.50 582.00,99.83 582.20,100.15 582.40,100.95 582.60,100.18 582.80,100.75 583.00,100.90 583.20,99.82 583.40,100.12 583.60,98.99 583.80,99.53 584.00,100.28 584.20,101.56 584.40,100.98 584.60,101.19 584.80,99.57 585.00,100.38 585.20,100.40 585.40,99.88 585.60,100.43 585.80,99.24 586.00,100.96 586.20,100.88 586.40,101.17 586.60,101.47 586.80,100.51 587.00,100.68 587.20,100.07 587.40,100.21 587.60,99.77 587.80,101.09 588.00,100.72 588.20,101.34 588.40,100.49 588.60,101.43 588.80,100.14 589.00,99.17 589.20,99.96 589.40,101.08 589.60,100.13 589.80,99.61 590.00,100.87 590.20,100.85 590.40,100.18 590.60,99.20 590.80,100.67 591.00,99.31 591.20,99.21 591.40,100.72 591.60,100.02 591.80,99.76 592.00,99.42 592.20,100.05 592.40,99.68 592.60,100.81 592.80,99.44 593.00,100.70 593.20,100.88 593.40,99.25 593.60,100.52 593.80,99.69 594.00,99.46 594.20,101.15 594.40,100.82 594.60,100.70 594.80,99.79 595.00,100.53 595.20,99.32 595.40,99.64 595.60,99.94 595.80,101.30 596.00,100.37 596.20,100.29 596.40,101.29 596.60,100.97 596.80,100.23 597.00,99.32 597.20,100.19 597.40,99.66 597.60,100.12 597.80,100.31 598.00,99.84 598.20,100.55 598.40,100.89 598.60,99.92 598.80,100.51 599.00,100.66 599.20,99.36 599.40,100.99 599.60,101.16 599.80,100.99 600.00,101.23 600.20,99.91 600.40,100.84 600.60,100.68 600.80,101.21 601.00,99.95 601.20,101.21 601.40,100.13 601.60,100.24 601.80,99.41 602.00,100.64 602.20,100.88 602.40,100.09 602.60,101.18 602.80,100.69 603.00,101.06 603.20,99.54 603.40,101.17 603.60,99.44 603.80,100.87 604.00,99.89 604.20,101.00 604.40,100.09 604.60,100.84 604.80,99.46 605.00,100.64 605.20,100.30 605.40,99.83 605.60,100.52 605.80,101.12 606.00,100.30 606.20,100.17 606.40,99.88 606.60,99.65 606.80,100.40 607.00,100.58" fill="none" stroke="#e3321f" stroke-width="0.7" stroke-linejoin="round"/>
<path d="M444.20,113.93 444.40,113.98 444.60,114.05 444.80,113.95 445.00,114.00 445.20,114.00 445.40,113.91 445.60,113.91 445.80,113.84 446.00,113.90 446.20,113.79 446.40,114.03 446.60,113.82 446.80,114.21 447.00,113.78 447.20,114.09 447.40,114.03 447.60,113.97 447.80,113.79 448.00,114.09 448.20,113.77 448.40,113.98 448.60,113.77 448.80,114.06 449.00,113.89 449.20,113.77 449.40,114.17 449.60,113.94 449.80,113.89 450.00,113.89 450.20,114.04 450.40,114.02 450.60,113.88 450.80,114.07 451.00,113.79 451.20,113.92 451.40,114.22 451.60,113.92 451.80,114.12 452.00,114.07 452.20,114.01 452.40,114.02 452.60,113.99 452.80,113.82 453.00,113.95 453.20,113.76 453.40,114.06 453.60,114.26 453.80,114.21 454.00,114.22 454.20,114.11 454.40,114.03 454.60,113.74 454.80,114.03 455.00,113.90 455.20,113.73 455.40,113.86 455.60,113.72 455.80,113.78 456.00,114.06 456.20,113.95 456.40,114.01 456.60,114.02 456.80,114.18 457.00,114.20 457.20,114.29 457.40,113.71 457.60,114.11 457.80,113.75 458.00,114.12 458.20,113.71 458.40,113.95 458.60,114.01 458.80,113.94 459.00,113.70 459.20,114.08 459.40,114.30 459.60,114.30 459.80,114.03 460.00,114.16 460.20,114.31 460.40,114.31 460.60,113.84 460.80,114.29 461.00,114.03 461.20,114.31 461.40,113.77 461.60,114.03 461.80,114.32 462.00,113.82 462.20,113.68 462.40,113.68 462.60,114.09 462.80,114.05 463.00,114.18 463.20,114.06 463.40,113.67 463.60,114.21 463.80,114.33 464.00,113.67 464.20,114.32 464.40,113.95 464.60,113.66 464.80,114.01 465.00,114.34 465.20,114.08 465.40,113.81 465.60,114.18 465.80,113.75 466.00,114.27 466.20,114.20 466.40,114.24 466.60,113.90 466.80,114.22 467.00,113.70 467.20,114.29 467.40,114.09 467.60,114.35 467.80,113.75 468.00,114.36 468.20,113.79 468.40,114.25 468.60,114.36 468.80,113.85 469.00,114.04 469.20,113.66 469.40,113.63 469.60,114.06 469.80,113.63 470.00,113.82 470.20,114.37 470.40,113.63 470.60,113.89 470.80,113.87 471.00,114.03 471.20,114.11 471.40,113.81 471.60,113.62 471.80,114.01 472.00,114.38 472.20,114.19 472.40,113.81 472.60,113.67 472.80,113.75 473.00,113.84 473.20,113.63 473.40,113.79 473.60,114.25 473.80,114.08 474.00,114.10 474.20,114.40 474.40,113.88 474.60,113.88 474.80,113.60 475.00,114.36 475.20,113.93 475.40,114.10 475.60,114.41 475.80,113.77 476.00,114.07 476.20,113.59 476.40,113.81 476.60,114.08 476.80,113.91 477.00,114.21 477.20,113.74 477.40,113.98 477.60,114.08 477.80,114.24 478.00,113.58 478.20,113.58 478.40,114.43 478.60,113.86 478.80,113.57 479.00,114.25 479.20,113.68 479.40,114.15 479.60,113.97 479.80,113.69 480.00,113.56 480.20,113.66 480.40,114.04 480.60,114.44 480.80,114.44 481.00,113.56 481.20,114.11 481.40,114.08 481.60,114.26 481.80,113.86 482.00,114.10 482.20,113.55 482.40,114.37 482.60,114.01 482.80,114.19 483.00,113.63 483.20,114.43 483.40,114.10 483.60,114.13 483.80,114.18 484.00,113.54 484.20,114.43 484.40,113.63 484.60,114.47 484.80,113.89 485.00,113.89 485.20,114.47 485.40,113.98 485.60,113.78 485.80,113.53 486.00,113.52 486.20,113.97 486.40,113.91 486.60,114.00 486.80,114.36 487.00,113.66 487.20,113.61 487.40,113.52 487.60,114.00 487.80,114.01 488.00,114.49 488.20,113.66 488.40,114.28 488.60,113.61 488.80,114.07 489.00,114.00 489.20,114.36 489.40,114.50 489.60,114.13 489.80,114.50 490.00,114.50 490.20,114.50 490.40,113.99 490.60,114.18 490.80,113.55 491.00,114.51 491.20,113.76 491.40,113.96 491.60,113.79 491.80,114.38 492.00,114.29 492.20,114.52 492.40,113.61 492.60,114.52 492.80,113.93 493.00,114.52 493.20,113.90 493.40,114.15 493.60,114.29 493.80,113.87 494.00,113.90 494.20,113.47 494.40,114.46 494.60,113.47 494.80,114.17 495.00,114.27 495.20,114.54 495.40,113.46 495.60,113.53 495.80,114.02 496.00,113.79 496.20,114.25 496.40,113.96 496.60,113.99 496.80,113.45 497.00,113.95 497.20,114.06 497.40,114.05 497.60,114.26 497.80,114.11 498.00,113.85 498.20,113.95 498.40,113.44 498.60,113.46 498.80,113.60 499.00,113.44 499.20,114.20 499.40,113.97 499.60,114.16 499.80,114.06 500.00,113.43 500.20,114.57 500.40,114.22 500.60,113.67 500.80,113.43 501.00,114.57 501.20,114.06 501.40,113.46 501.60,113.77 501.80,114.14 502.00,114.55 502.20,113.60 502.40,114.02 502.60,114.04 502.80,113.64 503.00,113.64 503.20,114.59 503.40,113.67 503.60,113.98 503.80,114.07 504.00,114.59 504.20,113.96 504.40,113.40 504.60,114.60 504.80,113.66 505.00,113.56 505.20,114.49 505.40,114.07 505.60,114.23 505.80,114.69 506.00,113.47 506.20,113.38 506.40,113.86 506.60,113.44 506.80,114.79 507.00,113.86 507.20,114.13 507.40,113.14 507.60,113.12 507.80,113.93 508.00,113.94 508.20,114.94 508.40,113.79 508.60,113.20 508.80,112.99 509.00,112.97 509.20,114.19 509.40,113.94 509.60,113.67 509.80,113.62 510.00,114.30 510.20,115.15 510.40,113.42 510.60,112.80 510.80,114.98 511.00,114.74 511.20,115.22 511.40,113.76 511.60,114.11 511.80,115.29 512.00,112.65 512.20,113.86 512.40,112.92 512.60,112.61 512.80,113.60 513.00,114.41 513.20,112.53 513.40,115.50 513.60,113.01 513.80,115.12 514.00,115.56 514.20,114.58 514.40,113.60 514.60,112.88 514.80,113.54 515.00,115.67 515.20,112.44 515.40,114.12 515.60,113.02 515.80,112.25 516.00,112.72 516.20,113.03 516.40,114.86 516.60,114.18 516.80,115.60 517.00,112.83 517.20,114.91 517.40,113.99 517.60,113.43 517.80,112.89 518.00,115.99 518.20,115.42 518.40,113.96 518.60,111.95 518.80,115.20 519.00,116.09 519.20,114.81 519.40,115.56 519.60,112.59 519.80,116.18 520.00,112.87 520.20,114.99 520.40,114.30 520.60,116.13 520.80,116.32 521.00,113.36 521.20,111.62 521.40,115.94 521.60,114.71 521.80,113.10 522.00,115.35 522.20,113.68 522.40,112.91 522.60,115.18 522.80,113.48 523.00,113.19 523.20,116.69 523.40,112.32 523.60,111.25 523.80,112.00 524.00,113.04 524.20,114.16 524.40,112.87 524.60,112.36 524.80,116.94 525.00,114.83 525.20,112.12 525.40,115.57 525.60,111.94 525.80,115.40 526.00,117.12 526.20,113.16 526.40,117.10 526.60,116.44 526.80,115.02 527.00,113.35 527.20,116.42 527.40,114.02 527.60,110.63 527.80,110.60 528.00,116.57 528.20,110.54 528.40,116.48 528.60,110.48 528.80,115.45 529.00,112.36 529.20,117.61 529.40,117.64 529.60,115.15 529.80,115.79 530.00,112.00 530.20,117.76 530.40,117.13 530.60,112.83 530.80,115.51 531.00,116.11 531.20,110.08 531.40,115.98 531.60,115.55 531.80,109.99 532.00,112.23 532.20,110.37 532.40,116.57 532.60,117.15 532.80,113.39 533.00,110.91 533.20,114.14 533.40,111.40 533.60,109.71 533.80,116.13 534.00,109.65 534.20,118.38 534.40,114.13 534.60,116.32 534.80,115.45 535.00,117.61 535.20,116.98 535.40,116.58 535.60,115.94 535.80,118.72 536.00,111.36 536.20,117.27 536.40,109.71 536.60,111.15 536.80,118.93 537.00,112.07 537.20,109.88 537.40,113.57 537.60,116.98 537.80,119.26 538.00,118.72 538.20,112.21 538.40,116.70 538.60,108.68 538.80,111.09 539.00,113.39 539.20,112.23 539.40,119.70 539.60,114.23 539.80,119.46 540.00,119.09 540.20,109.74 540.40,113.17 540.60,111.44 540.80,119.45 541.00,112.22 541.20,111.20 541.40,111.69 541.60,110.47 541.80,120.35 542.00,113.59 542.20,112.60 542.40,110.13 542.60,112.78 542.80,116.40 543.00,113.54 543.20,107.64 543.40,114.88 543.60,120.85 543.80,115.72 544.00,109.39 544.20,112.13 544.40,107.36 544.60,121.12 544.80,113.44 545.00,119.59 545.20,112.59 545.40,109.42 545.60,107.74 545.80,109.06 546.00,118.77 546.20,108.24 546.40,116.53 546.60,120.37 546.80,122.50 547.00,106.60 547.20,106.40 547.40,120.50 547.60,112.89 547.80,109.36 548.00,117.20 548.20,119.75 548.40,115.43 548.60,106.30 548.80,106.40 549.00,112.68 549.20,119.40 549.40,107.85 549.60,109.71 549.80,112.60 550.00,111.41 550.20,121.45 550.40,109.24 550.60,116.63 550.80,108.61 551.00,118.16 551.20,110.85 551.40,115.77 551.60,118.35 551.80,111.50 552.00,110.78 552.20,119.69 552.40,109.42 552.60,117.03 552.80,111.60 553.00,113.50 553.20,111.64 553.40,112.98 553.60,117.98 553.80,108.33 554.00,108.51 554.20,118.50 554.40,110.35 554.60,112.93 554.80,117.55 555.00,117.06 555.20,114.19 555.40,118.61 555.60,114.81 555.80,113.75 556.00,108.00 556.20,112.50 556.40,110.70 556.60,111.48 556.80,108.22 557.00,119.72 557.20,110.83 557.40,112.05 557.60,116.10 557.80,118.95 558.00,110.74 558.20,116.97 558.40,117.48 558.60,110.94 558.80,113.53 559.00,109.88 559.20,115.32 559.40,118.20 559.60,113.44 559.80,114.68 560.00,115.25 560.20,116.61 560.40,112.33 560.60,112.59 560.80,112.33 561.00,116.19 561.20,118.54 561.40,112.17 561.60,114.93 561.80,118.38 562.00,110.38 562.20,117.56 562.40,111.10 562.60,114.26 562.80,113.16 563.00,109.96 563.20,110.02 563.40,112.75 563.60,114.10 563.80,113.40 564.00,117.76 564.20,114.54 564.40,112.95 564.60,111.27 564.80,110.88 565.00,113.07 565.20,117.42 565.40,113.25 565.60,114.56 565.80,112.91 566.00,110.80 566.20,110.83 566.40,114.82 566.60,114.69 566.80,110.91 567.00,117.06 567.20,113.71 567.40,112.22 567.60,111.03 567.80,113.63 568.00,113.21 568.20,116.89 568.40,111.14 568.60,111.17 568.80,116.80 569.00,111.22 569.20,116.75 569.40,113.84 569.60,111.31 569.80,111.34 570.00,114.25 570.20,113.88 570.40,115.93 570.60,114.09 570.80,114.29 571.00,114.37 571.20,113.19 571.40,112.53 571.60,114.70 571.80,115.36 572.00,111.79 572.20,116.32 572.40,116.29 572.60,113.25 572.80,112.44 573.00,111.79 573.20,115.85 573.40,113.32 573.60,115.40 573.80,116.10 574.00,115.66 574.20,116.04 574.40,113.13 574.60,114.42 574.80,114.71 575.00,115.27 575.20,112.10 575.40,115.56 575.60,113.47 575.80,114.61 576.00,113.10 576.20,113.28 576.40,115.37 576.60,113.85 576.80,114.52 577.00,112.90 577.20,113.83 577.40,114.75 577.60,112.44 577.80,114.78 578.00,113.88 578.20,113.88 578.40,113.42 578.60,115.48 578.80,113.21 579.00,114.62 579.20,115.46 579.40,115.46 579.60,112.55 579.80,113.86 580.00,113.42 580.20,113.66 580.40,112.64 580.60,113.28 580.80,113.44 581.00,115.12 581.20,112.74 581.40,113.65 581.60,113.34 581.80,113.26 582.00,115.18 582.20,114.76 582.40,115.36 582.60,115.36 582.80,114.87 583.00,114.27 583.20,113.51 583.40,112.86 583.60,112.86 583.80,113.35 584.00,115.17 584.20,115.20 584.40,114.42 584.60,112.70 584.80,113.31 585.00,113.45 585.20,114.12 585.40,113.01 585.60,114.16 585.80,112.74 586.00,114.16 586.20,113.11 586.40,114.03 586.60,114.59 586.80,113.65 587.00,113.37 587.20,113.34 587.40,114.41 587.60,113.73 587.80,115.13 588.00,114.94 588.20,113.22 588.40,112.82 588.60,114.00 588.80,113.61 589.00,113.81 589.20,113.49 589.40,114.48 589.60,113.77 589.80,113.67 590.00,112.95 590.20,113.02 590.40,113.16 590.60,114.39 590.80,112.90 591.00,112.97 591.20,114.48 591.40,114.83 591.60,113.68 591.80,114.90 592.00,115.07 592.20,113.14 592.40,114.47 592.60,113.82 592.80,114.27 593.00,115.03 593.20,115.03 593.40,115.02 593.60,114.57 593.80,114.52 594.00,115.00 594.20,114.10 594.40,114.99 594.60,113.33 594.80,113.67 595.00,114.56 595.20,113.74 595.40,113.04 595.60,114.95 595.80,114.48 596.00,114.13 596.20,113.42 596.40,114.62 596.60,113.08 596.80,114.67 597.00,114.48 597.20,114.02 597.40,113.53 597.60,113.84 597.80,114.31 598.00,114.88 598.20,114.69 598.40,113.65 598.60,114.39 598.80,113.15 599.00,114.09 599.20,113.84 599.40,114.48 599.60,113.53 599.80,113.18 600.00,114.82 600.20,114.51 600.40,114.75 600.60,113.71 600.80,114.50 601.00,113.89 601.20,114.63 601.40,114.72 601.60,114.77 601.80,114.53 602.00,113.66 602.20,114.51 602.40,113.46 602.60,113.90 602.80,114.00 603.00,114.72 603.20,114.72 603.40,113.58 603.60,113.29 603.80,113.30 604.00,113.63 604.20,113.31 604.40,114.24 604.60,114.38 604.80,114.08 605.00,113.34 605.20,113.93 605.40,114.26 605.60,114.21 605.80,113.84 606.00,114.63 606.20,113.73 606.40,113.68 606.60,113.39 606.80,113.76 607.00,114.22" fill="none" stroke="#2f50ad" stroke-width="0.7" stroke-linejoin="round"/>
<path d="M422.00,127.86 422.20,127.89 422.40,127.86 422.60,127.91 422.80,127.86 423.00,127.80 423.20,127.79 423.40,128.01 423.60,127.87 423.80,127.92 424.00,128.01 424.20,127.82 424.40,127.85 424.60,127.96 424.80,127.96 425.00,127.87 425.20,127.82 425.40,127.92 425.60,127.81 425.80,127.83 426.00,127.99 426.20,128.00 426.40,127.91 426.60,127.97 426.80,127.86 427.00,128.02 427.20,128.01 427.40,127.97 427.60,127.86 427.80,127.93 428.00,127.86 428.20,127.95 428.40,127.93 428.60,128.03 428.80,127.96 429.00,127.83 429.20,127.94 429.40,127.81 429.60,127.93 429.80,127.76 430.00,127.89 430.20,128.00 430.40,128.04 430.60,127.80 430.80,127.98 431.00,127.92 431.20,127.92 431.40,127.85 431.60,127.95 431.80,127.96 432.00,127.75 432.20,127.79 432.40,128.05 432.60,127.82 432.80,127.75 433.00,127.83 433.20,127.93 433.40,127.76 433.60,127.92 433.80,127.76 434.00,127.90 434.20,128.05 434.40,127.93 434.60,127.84 434.80,127.93 435.00,127.83 435.20,127.94 435.40,127.96 435.60,127.94 435.80,127.94 436.00,127.85 436.20,127.92 436.40,127.95 436.60,127.98 436.80,127.77 437.00,127.73 437.20,127.91 437.40,128.03 437.60,127.80 437.80,128.04 438.00,128.01 438.20,127.87 438.40,127.90 438.60,128.05 438.80,127.91 439.00,128.03 439.20,128.06 439.40,127.97 439.60,127.92 439.80,127.85 440.00,127.89 440.20,127.91 440.40,127.83 440.60,127.84 440.80,127.74 441.00,127.75 441.20,127.88 441.40,127.78 441.60,127.97 441.80,128.01 442.00,128.10 442.20,128.03 442.40,127.84 442.60,127.76 442.80,127.94 443.00,127.94 443.20,127.81 443.40,128.22 443.60,128.15 443.80,128.41 444.00,127.86 444.20,128.58 444.40,126.92 444.60,128.47 444.80,128.40 445.00,129.23 445.20,126.95 445.40,129.08 445.60,125.70 445.80,128.79 446.00,127.42 446.20,128.59 446.40,128.05 446.60,128.60 446.80,127.68 447.00,126.62 447.20,127.31 447.40,127.90 447.60,128.71 447.80,127.56 448.00,128.38 448.20,127.82 448.40,127.99 448.60,128.53 448.80,128.07 449.00,126.55 449.20,127.16 449.40,127.69 449.60,126.38 449.80,129.41 450.00,126.74 450.20,128.32 450.40,128.36 450.60,128.99 450.80,127.76 451.00,126.42 451.20,126.58 451.40,126.68 451.60,128.32 451.80,128.07 452.00,126.49 452.20,129.76 452.40,125.70 452.60,128.02 452.80,128.27 453.00,125.70 453.20,128.10 453.40,127.94 453.60,125.94 453.80,128.65 454.00,128.98 454.20,127.02 454.40,129.00 454.60,129.49 454.80,127.61 455.00,127.19 455.20,126.09 455.40,128.01 455.60,127.17 455.80,128.84 456.00,126.00 456.20,130.10 456.40,127.35 456.60,130.10 456.80,126.99 457.00,128.37 457.20,126.95 457.40,126.89 457.60,129.95 457.80,127.89 458.00,129.54 458.20,127.75 458.40,129.33 458.60,128.21 458.80,125.90 459.00,125.70 459.20,129.23 459.40,127.96 459.60,129.63 459.80,127.70 460.00,127.19 460.20,127.48 460.40,129.42 460.60,130.10 460.80,127.66 461.00,129.71 461.20,128.15 461.40,127.81 461.60,129.01 461.80,130.10 462.00,125.70 462.20,129.28 462.40,128.56 462.60,128.07 462.80,128.75 463.00,129.09 463.20,126.11 463.40,126.62 463.60,129.64 463.80,128.10 464.00,125.95 464.20,125.70 464.40,127.44 464.60,128.97 464.80,127.52 465.00,127.34 465.20,127.65 465.40,126.65 465.60,125.70 465.80,126.24 466.00,126.59 466.20,127.61 466.40,129.02 466.60,128.43 466.80,127.14 467.00,129.57 467.20,130.80 467.40,123.46 467.60,128.31 467.80,129.89 468.00,125.02 468.20,122.18 468.40,131.63 468.60,121.54 468.80,125.85 469.00,132.87 469.20,131.96 469.40,130.51 469.60,123.65 469.80,128.34 470.00,128.32 470.20,130.93 470.40,127.37 470.60,133.47 470.80,131.03 471.00,126.25 471.20,124.68 471.40,125.11 471.60,127.90 471.80,132.59 472.00,123.81 472.20,123.24 472.40,126.98 472.60,127.59 472.80,125.37 473.00,129.14 473.20,123.79 473.40,130.91 473.60,123.94 473.80,130.83 474.00,130.64 474.20,128.08 474.40,131.62 474.60,126.03 474.80,126.31 475.00,130.20 475.20,124.00 475.40,126.04 475.60,124.90 475.80,133.71 476.00,130.78 476.20,132.14 476.40,129.66 476.60,130.84 476.80,126.38 477.00,131.08 477.20,127.95 477.40,133.78 477.60,124.04 477.80,130.59 478.00,128.29 478.20,128.73 478.40,125.14 478.60,120.12 478.80,130.39 479.00,130.13 479.20,128.31 479.40,128.83 479.60,122.35 479.80,129.79 480.00,130.78 480.20,127.55 480.40,123.75 480.60,120.00 480.80,130.26 481.00,123.84 481.20,129.41 481.40,124.04 481.60,123.61 481.80,126.12 482.00,128.09 482.20,129.91 482.40,122.47 482.60,125.93 482.80,130.14 483.00,131.54 483.20,125.40 483.40,120.67 483.60,129.58 483.80,128.67 484.00,125.32 484.20,133.38 484.40,124.64 484.60,130.80 484.80,126.48 485.00,127.25 485.20,129.17 485.40,124.53 485.60,129.72 485.80,130.75 486.00,120.65 486.20,131.22 486.40,127.44 486.60,123.99 486.80,125.95 487.00,122.21 487.20,129.47 487.40,127.00 487.60,130.18 487.80,125.02 488.00,126.10 488.20,128.17 488.40,125.19 488.60,125.01 488.80,132.58 489.00,128.38 489.20,122.99 489.40,124.01 489.60,122.18 489.80,125.60 490.00,130.94 490.20,131.12 490.40,129.49 490.60,126.02 490.80,126.73 491.00,127.56 491.20,126.73 491.40,130.60 491.60,124.91 491.80,123.94 492.00,126.47 492.20,130.70 492.40,128.89 492.60,129.13 492.80,126.98 493.00,125.47 493.20,127.24 493.40,127.59 493.60,128.64 493.80,125.59 494.00,127.81 494.20,128.37 494.40,124.93 494.60,127.20 494.80,130.14 495.00,124.94 495.20,128.47 495.40,129.61 495.60,129.61 495.80,127.07 496.00,128.99 496.20,127.92 496.40,127.27 496.60,128.04 496.80,130.48 497.00,124.99 497.20,128.23 497.40,128.05 497.60,126.86 497.80,129.86 498.00,126.32 498.20,127.84 498.40,128.25 498.60,126.82 498.80,128.02 499.00,129.56 499.20,126.21 499.40,127.23 499.60,126.13 499.80,126.76 500.00,130.22 500.20,128.53 500.40,128.72 500.60,130.74 500.80,125.07 501.00,126.94 501.20,126.95 501.40,125.08 501.60,130.72 501.80,130.71 502.00,126.43 502.20,127.95 502.40,129.29 502.60,126.41 502.80,125.34 503.00,129.26 503.20,126.71 503.40,128.86 503.60,128.99 503.80,130.67 504.00,127.41 504.20,126.36 504.40,129.66 504.60,129.01 504.80,127.19 505.00,128.36 505.20,125.73 505.40,127.19 505.60,130.63 505.80,127.12 506.00,129.89 506.20,128.61 506.40,130.53 506.60,128.70 506.80,127.07 507.00,130.37 507.20,127.92 507.40,125.86 507.60,125.83 507.80,127.84 508.00,128.81 508.20,127.19 508.40,127.41 508.60,125.23 508.80,129.86 509.00,128.33 509.20,127.59 509.40,128.60 509.60,130.36 509.80,129.84 510.00,128.00 510.20,126.86 510.40,126.77 510.60,128.30 510.80,128.07 511.00,128.44 511.20,128.28 511.40,127.80 511.60,128.39 511.80,127.42 512.00,127.07 512.20,126.84 512.40,129.79 512.60,129.36 512.80,126.31 513.00,127.20 513.20,128.17 513.40,127.67 513.60,130.46 513.80,129.20 514.00,129.76 514.20,126.47 514.40,128.91 514.60,130.44 514.80,126.12 515.00,128.19 515.20,125.37 515.40,126.13 515.60,127.86 515.80,128.59 516.00,125.71 516.20,127.95 516.40,127.90 516.60,126.69 516.80,126.14 517.00,125.41 517.20,126.47 517.40,128.15 517.60,127.83 517.80,126.88 518.00,129.31 518.20,128.33 518.40,129.03 518.60,129.65 518.80,125.94 519.00,127.77 519.20,130.34 519.40,129.73 519.60,130.33 519.80,130.18 520.00,127.02 520.20,129.28 520.40,128.94 520.60,127.83 520.80,130.31 521.00,128.38 521.20,127.01 521.40,129.22 521.60,127.85 521.80,128.06 522.00,128.32 522.20,128.88 522.40,125.53 522.60,126.04 522.80,127.54 523.00,129.04 523.20,127.41 523.40,127.20 523.60,126.50 523.80,126.76 524.00,128.63 524.20,128.08 524.40,126.70 524.60,125.57 524.80,127.29 525.00,127.96 525.20,126.80 525.40,125.59 525.60,128.68 525.80,128.78 526.00,127.41 526.20,128.71 526.40,127.98 526.60,130.06 526.80,126.77 527.00,126.68 527.20,127.51 527.40,125.63 527.60,126.30 527.80,126.54 528.00,128.21 528.20,126.73 528.40,126.76 528.60,130.12 528.80,127.89 529.00,130.13 529.20,127.47 529.40,127.22 529.60,127.59 529.80,127.66 530.00,128.84 530.20,127.78 530.40,127.28 530.60,127.41 530.80,126.76 531.00,126.49 531.20,126.47 531.40,130.08 531.60,127.44 531.80,128.15 532.00,126.35 532.20,130.07 532.40,127.70 532.60,127.31 532.80,128.72 533.00,128.70 533.20,129.80 533.40,128.31 533.60,127.56 533.80,127.15 534.00,129.05 534.20,128.50 534.40,126.90 534.60,127.70 534.80,125.96 535.00,128.01 535.20,126.47 535.40,128.96 535.60,125.81 535.80,128.58 536.00,129.26 536.20,127.17 536.40,127.66 536.60,127.19 536.80,129.88 537.00,127.58 537.20,127.55 537.40,128.45 537.60,126.67 537.80,129.02 538.00,129.08 538.20,126.87 538.40,128.46 538.60,127.63 538.80,128.78 539.00,129.92 539.20,127.64 539.40,128.83 539.60,127.96 539.80,128.98 540.00,127.71 540.20,129.89 540.40,129.29 540.60,126.89 540.80,128.82 541.00,129.84 541.20,126.96 541.40,127.66 541.60,126.46 541.80,128.05 542.00,127.50 542.20,126.86 542.40,126.57 542.60,128.63 542.80,128.55 543.00,126.33 543.20,127.03 543.40,126.47 543.60,127.69 543.80,126.00 544.00,129.05 544.20,128.03 544.40,127.50 544.60,129.78 544.80,129.78 545.00,126.03 545.20,128.27 545.40,128.97 545.60,129.35 545.80,129.74 546.00,129.75 546.20,128.36 546.40,129.18 546.60,127.65 546.80,129.33 547.00,127.60 547.20,128.47 547.40,126.09 547.60,126.20 547.80,129.70 548.00,127.75 548.20,127.27 548.40,129.68 548.60,126.12 548.80,129.45 549.00,128.63 549.20,127.41 549.40,128.99 549.60,128.32 549.80,128.75 550.00,128.88 550.20,127.87 550.40,127.98 550.60,129.63 550.80,126.87 551.00,128.88 551.20,127.60 551.40,126.95 551.60,128.47 551.80,128.25 552.00,129.16 552.20,128.01 552.40,128.98 552.60,128.60 552.80,126.72 553.00,128.96 553.20,127.36 553.40,128.50 553.60,128.19 553.80,127.26 554.00,126.51 554.20,127.73 554.40,128.33 554.60,126.52 554.80,128.92 555.00,127.55 555.20,129.33 555.40,127.91 555.60,128.34 555.80,126.31 556.00,126.68 556.20,128.67 556.40,127.26 556.60,128.95 556.80,129.47 557.00,127.97 557.20,129.00 557.40,126.63 557.60,128.85 557.80,128.96 558.00,128.94 558.20,128.34 558.40,127.79 558.60,126.65 558.80,127.54 559.00,128.07 559.20,128.56 559.40,129.40 559.60,127.86 559.80,127.72 560.00,128.12 560.20,128.14 560.40,127.53 560.60,127.92 560.80,128.01 561.00,127.61 561.20,127.77 561.40,127.04 561.60,128.17 561.80,126.46 562.00,128.57 562.20,127.82 562.40,127.10 562.60,128.34 562.80,128.87 563.00,128.38 563.20,126.83 563.40,126.50 563.60,127.82 563.80,128.18 564.00,128.49 564.20,128.62 564.40,128.18 564.60,128.35 564.80,128.82 565.00,127.96 565.20,129.25 565.40,127.73 565.60,128.41 565.80,127.94 566.00,128.91 566.20,126.92 566.40,128.67 566.60,127.81 566.80,128.18 567.00,126.98 567.20,127.66 567.40,128.85 567.60,126.98 567.80,128.27 568.00,127.17 568.20,128.71 568.40,128.55 568.60,126.94 568.80,128.43 569.00,126.65 569.20,127.98 569.40,128.98 569.60,127.68 569.80,127.01 570.00,127.91 570.20,127.27 570.40,127.19 570.60,128.22 570.80,127.99 571.00,127.20 571.20,127.35 571.40,127.91 571.60,127.16 571.80,127.11 572.00,127.61 572.20,128.24 572.40,127.56 572.60,127.59 572.80,128.62 573.00,128.99 573.20,127.51 573.40,127.90 573.60,127.48 573.80,128.62 574.00,128.19 574.20,127.26 574.40,127.75 574.60,128.38 574.80,128.34 575.00,129.00 575.20,128.28 575.40,128.22 575.60,126.81 575.80,128.59 576.00,128.43 576.20,128.99 576.40,127.58 576.60,127.69 576.80,126.82 577.00,128.09 577.20,126.91 577.40,128.98 577.60,128.07 577.80,128.05 578.00,127.40 578.20,126.99 578.40,126.83 578.60,126.83 578.80,127.87 579.00,127.84 579.20,127.32 579.40,127.45 579.60,128.95 579.80,128.83 580.00,128.17 580.20,128.68 580.40,128.48 580.60,127.34 580.80,127.85 581.00,128.82 581.20,128.10 581.40,128.41 581.60,128.13 581.80,126.86 582.00,128.22 582.20,128.93 582.40,127.76 582.60,127.90 582.80,127.87 583.00,127.40 583.20,126.88 583.40,128.51 583.60,127.71 583.80,128.40 584.00,126.88 584.20,127.72 584.40,127.91 584.60,127.96 584.80,128.43 585.00,127.38 585.20,128.24 585.40,127.75 585.60,127.69 585.80,127.77 586.00,128.01 586.20,126.90 586.40,127.33 586.60,128.89 586.80,128.55 587.00,127.87 587.20,126.98 587.40,128.19 587.60,127.33 587.80,128.32 588.00,127.52 588.20,128.75 588.40,127.99 588.60,128.01 588.80,128.17 589.00,127.11 589.20,127.37 589.40,128.10 589.60,127.69 589.80,127.72 590.00,127.48 590.20,128.70 590.40,128.86 590.60,128.76 590.80,128.68 591.00,127.94 591.20,127.24 591.40,126.95 591.60,128.32 591.80,127.94 592.00,128.81 592.20,128.26 592.40,127.35 592.60,127.82 592.80,126.97 593.00,128.83 593.20,128.83 593.40,127.28 593.60,127.85 593.80,126.98 594.00,128.11 594.20,127.37 594.40,127.60 594.60,127.71 594.80,128.23 595.00,128.80 595.20,127.63 595.40,127.65 595.60,128.23 595.80,127.66 596.00,127.91 596.20,127.31 596.40,128.50 596.60,128.45 596.80,127.66 597.00,127.62 597.20,127.99 597.40,128.70 597.60,127.18 597.80,127.11 598.00,128.71 598.20,127.72 598.40,127.47 598.60,128.49 598.80,127.49 599.00,128.07 599.20,127.61 599.40,127.03 599.60,127.88 599.80,127.67 600.00,127.81 600.20,127.68 600.40,127.95 600.60,128.44 600.80,128.00 601.00,127.80 601.20,127.35 601.40,128.09 601.60,127.23 601.80,128.28 602.00,128.11 602.20,128.02 602.40,127.67 602.60,128.49 602.80,128.07 603.00,128.02 603.20,128.26 603.40,127.41 603.60,127.67 603.80,128.16 604.00,127.52 604.20,127.66 604.40,127.59 604.60,127.76 604.80,127.46 605.00,127.41 605.20,127.54 605.40,127.96 605.60,128.03 605.80,128.44 606.00,128.13 606.20,127.09 606.40,127.94 606.60,128.11 606.80,128.24 607.00,128.70" fill="none" stroke="#1a1a1a" stroke-width="0.7" stroke-linejoin="round"/>
<path d="M422.00,141.82 422.20,141.82 422.40,141.84 422.60,141.90 422.80,141.77 423.00,141.78 423.20,141.89 423.40,141.80 423.60,141.81 423.80,141.72 424.00,141.81 424.20,141.80 424.40,141.76 424.60,141.82 424.80,141.81 425.00,141.71 425.20,141.91 425.40,141.71 425.60,141.81 425.80,141.80 426.00,141.75 426.20,141.85 426.40,141.70 426.60,141.86 426.80,141.86 427.00,141.90 427.20,141.88 427.40,141.74 427.60,141.78 427.80,141.85 428.00,141.75 428.20,141.73 428.40,141.85 428.60,141.67 428.80,141.76 429.00,141.74 429.20,141.67 429.40,141.87 429.60,141.79 429.80,141.75 430.00,141.70 430.20,141.81 430.40,141.91 430.60,141.79 430.80,141.72 431.00,141.76 431.20,141.82 431.40,141.83 431.60,141.89 431.80,141.82 432.00,141.88 432.20,141.94 432.40,141.68 432.60,141.72 432.80,141.84 433.00,141.84 433.20,141.81 433.40,141.80 433.60,141.87 433.80,141.88 434.00,141.73 434.20,141.70 434.40,141.80 434.60,141.79 434.80,141.88 435.00,141.79 435.20,141.78 435.40,141.88 435.60,141.75 435.80,141.85 436.00,141.78 436.20,141.75 436.40,141.73 436.60,141.88 436.80,141.83 437.00,141.97 437.20,141.74 437.40,141.91 437.60,141.71 437.80,141.83 438.00,141.68 438.20,141.75 438.40,141.72 438.60,141.83 438.80,141.77 439.00,141.71 439.20,141.79 439.40,141.98 439.60,141.81 439.80,141.89 440.00,141.89 440.20,141.79 440.40,141.79 440.60,141.86 440.80,141.83 441.00,141.81 441.20,141.80 441.40,141.98 441.60,141.70 441.80,141.82 442.00,141.73 442.20,141.76 442.40,141.67 442.60,141.85 442.80,141.82 443.00,141.78 443.20,141.71 443.40,141.93 443.60,141.82 443.80,141.85 444.00,141.84 444.20,141.65 444.40,142.03 444.60,142.09 444.80,142.57 445.00,140.92 445.20,143.82 445.40,140.94 445.60,140.87 445.80,138.33 446.00,140.57 446.20,142.11 446.40,140.82 446.60,146.11 446.80,140.30 447.00,143.92 447.20,139.17 447.40,142.92 447.60,144.81 447.80,140.21 448.00,141.87 448.20,141.13 448.40,142.75 448.60,141.72 448.80,138.52 449.00,142.56 449.20,141.30 449.40,141.57 449.60,136.91 449.80,141.89 450.00,140.87 450.20,139.87 450.40,141.22 450.60,142.00 450.80,145.00 451.00,141.16 451.20,140.60 451.40,141.79 451.60,139.98 451.80,142.40 452.00,141.84 452.20,143.62 452.40,138.46 452.60,143.91 452.80,137.01 453.00,137.02 453.20,138.83 453.40,142.51 453.60,140.76 453.80,142.69 454.00,139.91 454.20,144.43 454.40,142.72 454.60,141.81 454.80,139.03 455.00,143.21 455.20,137.59 455.40,141.31 455.60,145.78 455.80,143.50 456.00,139.74 456.20,144.37 456.40,141.59 456.60,141.35 456.80,141.85 457.00,144.62 457.20,144.91 457.40,139.75 457.60,142.11 457.80,142.27 458.00,139.51 458.20,140.41 458.40,143.19 458.60,137.19 458.80,137.36 459.00,146.37 459.20,141.09 459.40,142.92 459.60,138.82 459.80,142.71 460.00,142.78 460.20,143.11 460.40,142.30 460.60,146.34 460.80,141.33 461.00,145.38 461.20,142.99 461.40,142.12 461.60,143.81 461.80,141.60 462.00,137.62 462.20,145.06 462.40,138.35 462.60,141.93 462.80,141.05 463.00,141.00 463.20,141.17 463.40,140.31 463.60,139.06 463.80,144.64 464.00,139.66 464.20,142.84 464.40,141.35 464.60,136.31 464.80,140.51 465.00,140.88 465.20,143.29 465.40,143.57 465.60,137.97 465.80,141.38 466.00,142.26 466.20,142.11 466.40,140.73 466.60,142.25 466.80,139.82 467.00,145.95 467.20,135.67 467.40,134.91 467.60,140.74 467.80,141.00 468.00,139.38 468.20,144.54 468.40,144.66 468.60,149.15 468.80,142.35 469.00,144.53 469.20,142.34 469.40,132.76 469.60,145.20 469.80,148.16 470.00,142.14 470.20,147.14 470.40,143.58 470.60,138.31 470.80,142.43 471.00,138.46 471.20,139.40 471.40,143.96 471.60,136.98 471.80,140.91 472.00,143.51 472.20,135.22 472.40,134.36 472.60,139.35 472.80,142.23 473.00,132.66 473.20,138.23 473.40,142.94 473.60,145.33 473.80,140.84 474.00,142.16 474.20,140.05 474.40,151.00 474.60,141.99 474.80,144.60 475.00,140.15 475.20,139.05 475.40,145.14 475.60,143.32 475.80,140.08 476.00,136.07 476.20,151.05 476.40,138.65 476.60,150.68 476.80,134.33 477.00,146.67 477.20,144.53 477.40,141.77 477.60,143.96 477.80,134.95 478.00,140.20 478.20,151.10 478.40,135.35 478.60,136.02 478.80,143.31 479.00,141.70 479.20,142.42 479.40,142.95 479.60,144.21 479.80,143.34 480.00,139.42 480.20,149.75 480.40,136.83 480.60,144.02 480.80,144.21 481.00,138.35 481.20,138.71 481.40,138.52 481.60,141.32 481.80,137.12 482.00,143.51 482.20,145.20 482.40,136.32 482.60,148.57 482.80,138.28 483.00,138.45 483.20,143.49 483.40,134.81 483.60,144.44 483.80,138.91 484.00,145.98 484.20,136.46 484.40,141.15 484.60,147.35 484.80,138.62 485.00,132.87 485.20,139.31 485.40,145.44 485.60,148.01 485.80,140.49 486.00,137.05 486.20,144.87 486.40,147.49 486.60,139.45 486.80,145.60 487.00,144.73 487.20,146.65 487.40,147.30 487.60,137.84 487.80,137.25 488.00,145.77 488.20,143.88 488.40,144.57 488.60,136.87 488.80,141.65 489.00,140.61 489.20,141.59 489.40,133.98 489.60,139.95 489.80,137.80 490.00,138.70 490.20,141.87 490.40,145.86 490.60,142.38 490.80,139.32 491.00,139.25 491.20,145.30 491.40,141.34 491.60,151.54 491.80,138.92 492.00,143.96 492.20,150.00 492.40,141.05 492.60,146.01 492.80,148.92 493.00,138.10 493.20,142.78 493.40,147.36 493.60,140.04 493.80,147.79 494.00,134.99 494.20,134.55 494.40,146.65 494.60,148.24 494.80,140.78 495.00,144.02 495.20,146.06 495.40,140.56 495.60,142.13 495.80,139.27 496.00,136.63 496.20,131.92 496.40,139.24 496.60,141.78 496.80,151.70 497.00,151.71 497.20,145.52 497.40,134.68 497.60,140.13 497.80,145.78 498.00,148.17 498.20,142.53 498.40,148.38 498.60,132.84 498.80,144.18 499.00,131.83 499.20,146.22 499.40,139.92 499.60,131.81 499.80,140.85 500.00,141.14 500.20,146.39 500.40,140.51 500.60,142.17 500.80,139.23 501.00,145.25 501.20,131.90 501.40,132.14 501.60,140.80 501.80,151.58 502.00,132.58 502.20,143.48 502.40,144.46 502.60,134.05 502.80,133.52 503.00,151.44 503.20,142.04 503.40,137.44 503.60,141.02 503.80,139.26 504.00,140.81 504.20,137.24 504.40,139.29 504.60,138.10 504.80,137.69 505.00,138.85 505.20,144.64 505.40,144.53 505.60,140.01 505.80,143.48 506.00,139.36 506.20,145.33 506.40,143.82 506.60,136.66 506.80,135.50 507.00,148.06 507.20,144.30 507.40,135.66 507.60,136.09 507.80,141.35 508.00,139.86 508.20,139.70 508.40,138.96 508.60,142.89 508.80,141.38 509.00,146.40 509.20,138.09 509.40,146.55 509.60,136.14 509.80,147.20 510.00,138.63 510.20,146.78 510.40,145.60 510.60,141.36 510.80,143.45 511.00,139.72 511.20,140.09 511.40,139.01 511.60,132.73 511.80,141.99 512.00,144.15 512.20,143.76 512.40,138.81 512.60,139.75 512.80,137.62 513.00,144.70 513.20,144.63 513.40,146.88 513.60,134.82 513.80,150.14 514.00,141.77 514.20,139.33 514.40,150.07 514.60,137.37 514.80,139.03 515.00,135.52 515.20,133.02 515.40,143.30 515.60,138.75 515.80,141.46 516.00,140.31 516.20,142.95 516.40,137.60 516.60,143.17 516.80,143.66 517.00,139.97 517.20,146.81 517.40,136.87 517.60,139.70 517.80,141.88 518.00,140.37 518.20,137.43 518.40,137.79 518.60,142.07 518.80,145.52 519.00,144.16 519.20,142.65 519.40,139.49 519.60,140.18 519.80,142.61 520.00,144.12 520.20,137.19 520.40,139.57 520.60,147.07 520.80,140.20 521.00,141.08 521.20,143.69 521.40,142.63 521.60,138.78 521.80,143.63 522.00,149.16 522.20,143.33 522.40,138.97 522.60,140.80 522.80,136.64 523.00,136.69 523.20,134.81 523.40,144.81 523.60,145.76 523.80,133.70 524.00,144.37 524.20,143.87 524.40,142.80 524.60,144.64 524.80,148.82 525.00,145.82 525.20,143.76 525.40,139.60 525.60,141.79 525.80,135.70 526.00,143.94 526.20,137.69 526.40,138.35 526.60,143.74 526.80,144.28 527.00,143.56 527.20,139.65 527.40,134.44 527.60,146.97 527.80,141.31 528.00,143.88 528.20,144.19 528.40,140.19 528.60,141.68 528.80,144.23 529.00,138.12 529.20,139.76 529.40,142.83 529.60,141.24 529.80,143.87 530.00,144.19 530.20,140.67 530.40,146.23 530.60,138.18 530.80,145.49 531.00,139.47 531.20,142.98 531.40,136.43 531.60,139.97 531.80,143.02 532.00,144.64 532.20,144.89 532.40,142.08 532.60,142.38 532.80,144.26 533.00,141.50 533.20,141.75 533.40,142.16 533.60,141.09 533.80,139.55 534.00,137.76 534.20,138.36 534.40,140.58 534.60,143.76 534.80,142.39 535.00,139.49 535.20,141.17 535.40,139.29 535.60,141.64 535.80,141.68 536.00,141.61 536.20,139.41 536.40,144.28 536.60,141.95 536.80,144.77 537.00,139.89 537.20,143.20 537.40,140.90 537.60,144.17 537.80,137.85 538.00,141.98 538.20,141.80 538.40,143.61 538.60,141.36 538.80,140.12 539.00,139.66 539.20,140.68 539.40,141.79 539.60,141.38 539.80,139.86 540.00,143.04 540.20,144.70 540.40,139.68 540.60,141.19 540.80,143.30 541.00,140.77 541.20,144.97 541.40,137.89 541.60,142.01 541.80,142.49 542.00,143.44 542.20,140.04 542.40,142.39 542.60,138.34 542.80,143.36 543.00,141.49 543.20,139.24 543.40,140.23 543.60,143.53 543.80,144.92 544.00,142.09 544.20,143.19 544.40,140.50 544.60,139.26 544.80,144.76 545.00,140.63 545.20,145.45 545.40,141.66 545.60,141.36 545.80,141.07 546.00,143.96 546.20,143.13 546.40,142.20 546.60,141.06 546.80,141.44 547.00,141.47 547.20,140.82 547.40,139.00 547.60,142.03 547.80,139.49 548.00,140.48 548.20,141.85 548.40,141.45 548.60,143.24 548.80,140.94 549.00,140.86 549.20,141.87 549.40,144.20 549.60,139.73 549.80,142.12 550.00,142.75 550.20,139.86 550.40,141.33 550.60,142.76 550.80,144.97 551.00,138.53 551.20,144.08 551.40,140.02 551.60,144.19 551.80,141.48 552.00,140.12 552.20,140.22 552.40,142.40 552.60,141.02 552.80,141.84 553.00,139.33 553.20,142.88 553.40,140.05 553.60,144.64 553.80,140.70 554.00,141.67 554.20,142.98 554.40,142.66 554.60,144.45 554.80,141.43 555.00,141.92 555.20,141.33 555.40,139.74 555.60,140.46 555.80,139.57 556.00,143.73 556.20,138.88 556.40,144.11 556.60,144.69 556.80,141.89 557.00,142.09 557.20,142.63 557.40,141.82 557.60,140.97 557.80,142.39 558.00,143.22 558.20,139.78 558.40,140.73 558.60,142.97 558.80,142.37 559.00,139.41 559.20,140.10 559.40,142.28 559.60,140.70 559.80,143.78 560.00,139.64 560.20,141.49 560.40,143.62 560.60,143.46 560.80,142.56 561.00,142.49 561.20,141.88 561.40,141.58 561.60,141.10 561.80,139.64 562.00,142.87 562.20,142.51 562.40,143.55 562.60,139.74 562.80,141.34 563.00,141.31 563.20,141.44 563.40,139.52 563.60,140.96 563.80,142.13 564.00,143.13 564.20,143.03 564.40,141.78 564.60,140.69 564.80,142.50 565.00,142.23 565.20,141.70 565.40,140.42 565.60,139.71 565.80,140.14 566.00,142.18 566.20,140.11 566.40,141.16 566.60,142.82 566.80,143.22 567.00,142.27 567.20,141.71 567.40,142.13 567.60,142.04 567.80,142.68 568.00,141.51 568.20,142.55 568.40,141.60 568.60,142.36 568.80,141.90 569.00,141.57 569.20,141.95 569.40,143.09 569.60,141.52 569.80,141.58 570.00,141.24 570.20,143.80 570.40,142.92 570.60,141.54 570.80,142.14 571.00,141.13 571.20,141.39 571.40,141.43 571.60,141.31 571.80,141.37 572.00,141.17 572.20,141.75 572.40,142.49 572.60,141.26 572.80,140.96 573.00,142.53 573.20,142.01 573.40,142.11 573.60,143.31 573.80,142.69 574.00,141.08 574.20,141.82 574.40,141.44 574.60,141.59 574.80,142.37 575.00,142.32 575.20,143.70 575.40,142.04 575.60,141.64 575.80,142.63 576.00,141.52 576.20,141.25 576.40,142.42 576.60,141.65 576.80,142.14 577.00,142.23 577.20,141.11 577.40,140.39 577.60,142.22 577.80,141.83 578.00,143.22 578.20,141.78 578.40,142.03 578.60,143.19 578.80,141.39 579.00,142.38 579.20,142.88 579.40,142.40 579.60,142.01 579.80,141.82 580.00,141.10 580.20,141.98 580.40,141.37 580.60,140.21 580.80,142.59 581.00,141.90 581.20,142.29 581.40,142.17 581.60,141.72 581.80,141.72 582.00,142.01 582.20,142.71 582.40,141.48 582.60,141.35 582.80,141.02 583.00,141.33 583.20,143.55 583.40,143.10 583.60,140.06 583.80,143.37 584.00,142.13 584.20,142.32 584.40,143.09 584.60,142.83 584.80,141.77 585.00,141.95 585.20,141.48 585.40,143.51 585.60,141.42 585.80,140.88 586.00,140.10 586.20,140.11 586.40,141.75 586.60,141.49 586.80,140.59 587.00,141.73 587.20,142.70 587.40,140.13 587.60,141.99 587.80,140.69 588.00,141.09 588.20,141.95 588.40,141.24 588.60,141.17 588.80,140.16 589.00,140.93 589.20,141.14 589.40,141.27 589.60,140.17 589.80,142.65 590.00,142.70 590.20,141.62 590.40,142.18 590.60,141.70 590.80,140.42 591.00,141.32 591.20,142.21 591.40,140.20 591.60,140.25 591.80,141.58 592.00,141.39 592.20,141.20 592.40,142.19 592.60,142.11 592.80,141.46 593.00,143.10 593.20,142.11 593.40,141.55 593.60,141.07 593.80,142.84 594.00,142.10 594.20,140.92 594.40,142.20 594.60,142.78 594.80,141.55 595.00,141.64 595.20,140.66 595.40,141.65 595.60,141.76 595.80,141.26 596.00,141.88 596.20,140.30 596.40,141.65 596.60,141.75 596.80,141.13 597.00,141.37 597.20,141.18 597.40,140.93 597.60,141.44 597.80,141.29 598.00,142.76 598.20,141.78 598.40,141.78 598.60,142.34 598.80,141.63 599.00,142.64 599.20,141.12 599.40,141.64 599.60,140.36 599.80,141.28 600.00,141.49 600.20,142.98 600.40,142.26 600.60,141.82 600.80,142.04 601.00,141.76 601.20,142.84 601.40,140.39 601.60,141.34 601.80,142.15 602.00,142.16 602.20,141.45 602.40,140.88 602.60,141.93 602.80,141.67 603.00,141.89 603.20,142.14 603.40,142.46 603.60,142.77 603.80,141.09 604.00,142.53 604.20,141.89 604.40,142.05 604.60,141.84 604.80,142.09 605.00,141.54 605.20,142.03 605.40,141.48 605.60,142.44 605.80,141.89 606.00,141.26 606.20,142.11 606.40,141.67 606.60,141.95 606.80,141.66 607.00,141.79" fill="none" stroke="#e3321f" stroke-width="0.7" stroke-linejoin="round"/>
<path d="M422.00,155.79 422.20,155.80 422.40,155.80 422.60,155.71 422.80,155.85 423.00,155.80 423.20,155.81 423.40,155.82 423.60,155.76 423.80,155.83 424.00,155.77 424.20,155.82 424.40,155.69 424.60,155.74 424.80,155.87 425.00,155.89 425.20,155.87 425.40,155.73 425.60,155.82 425.80,155.78 426.00,155.74 426.20,155.68 426.40,155.74 426.60,155.75 426.80,155.83 427.00,155.77 427.20,155.74 427.40,155.73 427.60,155.82 427.80,155.82 428.00,155.71 428.20,155.78 428.40,155.78 428.60,155.67 428.80,155.86 429.00,155.80 429.20,155.87 429.40,155.77 429.60,155.81 429.80,155.81 430.00,155.74 430.20,155.86 430.40,155.75 430.60,155.70 430.80,155.79 431.00,155.85 431.20,155.75 431.40,155.81 431.60,155.72 431.80,155.76 432.00,155.86 432.20,155.86 432.40,155.78 432.60,155.81 432.80,155.81 433.00,155.65 433.20,155.75 433.40,155.75 433.60,155.88 433.80,155.79 434.00,155.90 434.20,155.79 434.40,155.76 434.60,155.89 434.80,155.86 435.00,155.72 435.20,155.96 435.40,155.83 435.60,155.91 435.80,155.82 436.00,155.87 436.20,155.67 436.40,155.75 436.60,155.70 436.80,155.81 437.00,155.69 437.20,155.86 437.40,155.84 437.60,155.65 437.80,155.77 438.00,155.73 438.20,155.80 438.40,155.79 438.60,155.74 438.80,155.63 439.00,155.85 439.20,155.85 439.40,155.85 439.60,155.78 439.80,155.67 440.00,155.79 440.20,155.79 440.40,155.98 440.60,155.90 440.80,155.78 441.00,155.86 441.20,155.77 441.40,155.75 441.60,155.74 441.80,155.70 442.00,155.82 442.20,155.84 442.40,155.80 442.60,155.79 442.80,155.74 443.00,155.96 443.20,155.68 443.40,155.79 443.60,155.89 443.80,155.75 444.00,155.91 444.20,155.45 444.40,156.24 444.60,154.74 444.80,158.59 445.00,153.17 445.20,155.18 445.40,158.52 445.60,152.96 445.80,153.84 446.00,153.94 446.20,160.97 446.40,149.07 446.60,153.66 446.80,149.49 447.00,152.66 447.20,156.56 447.40,156.49 447.60,155.40 447.80,159.14 448.00,148.90 448.20,148.85 448.40,155.75 448.60,151.17 448.80,155.51 449.00,148.50 449.20,163.25 449.40,149.75 449.60,152.23 449.80,158.11 450.00,155.40 450.20,160.15 450.40,150.27 450.60,160.70 450.80,147.66 451.00,164.39 451.20,151.46 451.40,159.84 451.60,157.90 451.80,146.99 452.00,154.86 452.20,147.04 452.40,154.14 452.60,154.67 452.80,158.16 453.00,150.75 453.20,163.97 453.40,158.64 453.60,159.28 453.80,153.60 454.00,154.36 454.20,158.53 454.40,160.07 454.60,151.19 454.80,148.36 455.00,159.45 455.20,149.41 455.40,159.71 455.60,162.36 455.80,159.20 456.00,156.50 456.20,147.62 456.40,150.38 456.60,154.43 456.80,157.69 457.00,158.72 457.20,162.15 457.40,155.95 457.60,153.99 457.80,156.04 458.00,158.94 458.20,156.35 458.40,160.12 458.60,152.13 458.80,161.64 459.00,149.65 459.20,160.93 459.40,152.70 459.60,151.18 459.80,153.48 460.00,162.84 460.20,159.13 460.40,153.67 460.60,156.33 460.80,156.64 461.00,153.15 461.20,157.80 461.40,154.25 461.60,155.60 461.80,151.44 462.00,151.74 462.20,151.33 462.40,156.12 462.60,159.36 462.80,152.17 463.00,154.61 463.20,153.12 463.40,154.99 463.60,152.79 463.80,156.75 464.00,157.73 464.20,150.16 464.40,158.61 464.60,162.82 464.80,156.14 465.00,159.28 465.20,162.31 465.40,160.24 465.60,154.34 465.80,159.33 466.00,159.68 466.20,162.06 466.40,156.96 466.60,159.08 466.80,153.96 467.00,152.75 467.20,162.43 467.40,152.23 467.60,152.30 467.80,154.40 468.00,161.34 468.20,157.84 468.40,156.37 468.60,155.54 468.80,154.85 469.00,154.42 469.20,151.89 469.40,158.37 469.60,158.25 469.80,162.17 470.00,159.73 470.20,159.01 470.40,148.71 470.60,157.89 470.80,159.18 471.00,156.62 471.20,158.90 471.40,150.02 471.60,157.50 471.80,150.25 472.00,153.80 472.20,153.65 472.40,153.23 472.60,155.11 472.80,157.26 473.00,157.00 473.20,159.12 473.40,152.24 473.60,159.93 473.80,153.06 474.00,149.50 474.20,150.65 474.40,154.87 474.60,161.19 474.80,147.94 475.00,153.80 475.20,164.38 475.40,149.94 475.60,156.30 475.80,155.87 476.00,154.57 476.20,155.94 476.40,158.29 476.60,157.89 476.80,148.54 477.00,155.38 477.20,151.26 477.40,161.78 477.60,157.32 477.80,147.43 478.00,158.75 478.20,156.84 478.40,162.17 478.60,152.70 478.80,154.55 479.00,157.59 479.20,151.18 479.40,157.06 479.60,154.05 479.80,154.56 480.00,162.16 480.20,163.45 480.40,156.95 480.60,164.65 480.80,146.94 481.00,157.27 481.20,152.22 481.40,159.51 481.60,153.61 481.80,161.42 482.00,146.96 482.20,151.32 482.40,152.95 482.60,150.19 482.80,157.18 483.00,159.72 483.20,160.23 483.40,150.47 483.60,151.03 483.80,154.13 484.00,152.73 484.20,146.83 484.40,149.26 484.60,163.92 484.80,155.26 485.00,162.92 485.20,155.38 485.40,150.26 485.60,150.92 485.80,152.33 486.00,157.27 486.20,157.75 486.40,153.36 486.60,160.13 486.80,158.17 487.00,160.44 487.20,158.35 487.40,157.26 487.60,150.23 487.80,153.36 488.00,159.37 488.20,154.47 488.40,157.38 488.60,156.61 488.80,154.03 489.00,159.26 489.20,159.55 489.40,162.09 489.60,154.36 489.80,157.57 490.00,157.52 490.20,159.58 490.40,151.58 490.60,152.02 490.80,150.51 491.00,157.53 491.20,154.71 491.40,153.14 491.60,160.32 491.80,158.86 492.00,151.29 492.20,152.70 492.40,161.57 492.60,149.31 492.80,155.72 493.00,151.95 493.20,159.63 493.40,146.52 493.60,160.85 493.80,154.89 494.00,159.14 494.20,157.19 494.40,148.38 494.60,155.30 494.80,152.63 495.00,156.28 495.20,150.36 495.40,153.68 495.60,154.60 495.80,165.16 496.00,152.80 496.20,155.10 496.40,158.53 496.60,154.51 496.80,149.99 497.00,165.20 497.20,156.91 497.40,157.04 497.60,148.77 497.80,162.16 498.00,152.39 498.20,157.32 498.40,163.22 498.60,146.35 498.80,152.90 499.00,156.42 499.20,152.09 499.40,165.28 499.60,146.31 499.80,158.50 500.00,160.08 500.20,158.69 500.40,153.36 500.60,161.69 500.80,165.05 501.00,146.40 501.20,154.95 501.40,155.58 501.60,146.86 501.80,161.15 502.00,146.50 502.20,150.60 502.40,153.50 502.60,152.64 502.80,160.51 503.00,148.99 503.20,148.85 503.40,153.44 503.60,156.94 503.80,158.37 504.00,164.90 504.20,162.58 504.40,147.30 504.60,155.55 504.80,155.02 505.00,154.36 505.20,153.01 505.40,155.44 505.60,155.70 505.80,161.18 506.00,160.01 506.20,158.55 506.40,156.37 506.60,164.64 506.80,158.57 507.00,154.16 507.20,154.48 507.40,152.58 507.60,158.46 507.80,156.38 508.00,153.51 508.20,154.07 508.40,154.76 508.60,151.59 508.80,150.65 509.00,156.23 509.20,152.78 509.40,164.36 509.60,159.78 509.80,160.64 510.00,156.54 510.20,159.41 510.40,161.89 510.60,153.90 510.80,154.80 511.00,152.26 511.20,148.77 511.40,153.46 511.60,160.82 511.80,153.33 512.00,157.66 512.20,152.95 512.40,151.10 512.60,158.47 512.80,156.53 513.00,150.41 513.20,157.18 513.40,151.69 513.60,153.20 513.80,148.55 514.00,154.17 514.20,152.62 514.40,148.70 514.60,159.60 514.80,155.05 515.00,157.36 515.20,154.36 515.40,154.59 515.60,153.32 515.80,154.33 516.00,153.97 516.20,150.58 516.40,159.55 516.60,152.94 516.80,157.92 517.00,153.55 517.20,156.83 517.40,151.49 517.60,157.39 517.80,154.02 518.00,159.20 518.20,151.66 518.40,149.54 518.60,158.64 518.80,150.24 519.00,152.39 519.20,160.68 519.40,155.12 519.60,162.10 519.80,152.91 520.00,163.30 520.20,159.00 520.40,159.71 520.60,155.47 520.80,149.41 521.00,156.94 521.20,158.45 521.40,158.62 521.60,154.84 521.80,157.72 522.00,158.98 522.20,156.09 522.40,154.83 522.60,161.63 522.80,155.05 523.00,157.15 523.20,158.37 523.40,155.37 523.60,156.37 523.80,156.13 524.00,158.80 524.20,158.17 524.40,153.30 524.60,153.09 524.80,152.05 525.00,161.12 525.20,156.91 525.40,157.52 525.60,155.29 525.80,154.23 526.00,154.04 526.20,153.33 526.40,152.65 526.60,159.65 526.80,160.14 527.00,156.63 527.20,157.26 527.40,156.04 527.60,155.96 527.80,153.94 528.00,154.49 528.20,156.23 528.40,154.25 528.60,154.46 528.80,159.00 529.00,156.73 529.20,153.10 529.40,154.07 529.60,159.36 529.80,160.56 530.00,155.59 530.20,154.28 530.40,155.55 530.60,151.88 530.80,152.88 531.00,156.78 531.20,156.28 531.40,157.55 531.60,154.00 531.80,158.18 532.00,158.79 532.20,160.13 532.40,156.16 532.60,154.43 532.80,158.58 533.00,157.70 533.20,150.44 533.40,153.03 533.60,160.16 533.80,158.51 534.00,157.75 534.20,157.08 534.40,155.00 534.60,153.21 534.80,159.43 535.00,156.71 535.20,154.54 535.40,155.76 535.60,160.01 535.80,157.24 536.00,155.12 536.20,154.80 536.40,158.10 536.60,158.48 536.80,152.57 537.00,154.74 537.20,156.86 537.40,155.54 537.60,152.15 537.80,154.33 538.00,156.60 538.20,156.69 538.40,154.82 538.60,155.34 538.80,155.67 539.00,157.33 539.20,156.15 539.40,157.71 539.60,158.71 539.80,157.07 540.00,156.71 540.20,156.91 540.40,158.07 540.60,154.87 540.80,156.64 541.00,158.21 541.20,158.16 541.40,155.61 541.60,152.12 541.80,155.85 542.00,155.55 542.20,154.43 542.40,158.54 542.60,155.36 542.80,159.15 543.00,156.35 543.20,158.13 543.40,157.22 543.60,158.20 543.80,154.30 544.00,158.42 544.20,154.70 544.40,154.61 544.60,152.72 544.80,157.38 545.00,153.77 545.20,154.36 545.40,157.50 545.60,155.29 545.80,154.22 546.00,155.58 546.20,152.89 546.40,156.19 546.60,156.89 546.80,157.55 547.00,154.03 547.20,155.42 547.40,155.67 547.60,157.37 547.80,154.94 548.00,155.05 548.20,153.58 548.40,155.90 548.60,156.35 548.80,155.36 549.00,156.59 549.20,155.92 549.40,157.48 549.60,157.06 549.80,156.28 550.00,155.71 550.20,153.17 550.40,156.07 550.60,153.78 550.80,155.58 551.00,155.74 551.20,158.30 551.40,156.95 551.60,155.88 551.80,156.39 552.00,154.34 552.20,155.23 552.40,155.88 552.60,157.86 552.80,157.39 553.00,156.76 553.20,154.43 553.40,154.92 553.60,158.18 553.80,158.17 554.00,153.45 554.20,155.49 554.40,156.50 554.60,158.08 554.80,155.66 555.00,155.12 555.20,154.55 555.40,155.68 555.60,155.86 555.80,154.82 556.00,155.88 556.20,155.24 556.40,156.53 556.60,154.45 556.80,156.21 557.00,155.61 557.20,154.96 557.40,157.81 557.60,155.02 557.80,156.40 558.00,155.11 558.20,156.71 558.40,156.83 558.60,156.87 558.80,155.23 559.00,153.94 559.20,157.20 559.40,155.15 559.60,156.38 559.80,154.60 560.00,156.32 560.20,154.96 560.40,155.84 560.60,155.94 560.80,155.51 561.00,156.37 561.20,156.17 561.40,154.86 561.60,156.38 561.80,155.71 562.00,155.84 562.20,156.16 562.40,155.89 562.60,155.90 562.80,157.41 563.00,157.10 563.20,154.83 563.40,156.09 563.60,156.20 563.80,155.43 564.00,157.37 564.20,156.03 564.40,154.43 564.60,156.47 564.80,155.74 565.00,154.89 565.20,155.42 565.40,156.11 565.60,155.95 565.80,156.19 566.00,155.53 566.20,156.08 566.40,155.83 566.60,154.80 566.80,155.83 567.00,155.92 567.20,155.75 567.40,155.30 567.60,156.85 567.80,156.63 568.00,156.04 568.20,156.27 568.40,155.83 568.60,155.90 568.80,155.78 569.00,155.97 569.20,156.37 569.40,156.02 569.60,156.57 569.80,155.39 570.00,156.28 570.20,156.75 570.40,156.45 570.60,155.95 570.80,154.88 571.00,155.76 571.20,156.82 571.40,156.29 571.60,155.26 571.80,156.68 572.00,156.26 572.20,156.55 572.40,154.63 572.60,155.26 572.80,156.39 573.00,155.87 573.20,155.72 573.40,156.30 573.60,155.65 573.80,155.04 574.00,155.18 574.20,155.84 574.40,155.30 574.60,155.49 574.80,155.16 575.00,156.69 575.20,154.86 575.40,156.25 575.60,155.40 575.80,155.58 576.00,156.08 576.20,155.63 576.40,156.46 576.60,156.71 576.80,155.46 577.00,155.77 577.20,155.46 577.40,155.97 577.60,156.06 577.80,154.96 578.00,156.07 578.20,156.19 578.40,155.30 578.60,155.86 578.80,156.55 579.00,155.53 579.20,155.82 579.40,156.87 579.60,156.36 579.80,156.04 580.00,155.50 580.20,155.88 580.40,155.03 580.60,155.59 580.80,155.27 581.00,155.90 581.20,155.58 581.40,155.56 581.60,155.15 581.80,156.13 582.00,155.81 582.20,156.06 582.40,156.43 582.60,155.71 582.80,154.77 583.00,155.79 583.20,155.26 583.40,155.42 583.60,155.98 583.80,155.87 584.00,155.74 584.20,156.14 584.40,156.27 584.60,156.23 584.80,155.45 585.00,156.32 585.20,155.49 585.40,156.13 585.60,155.83 585.80,155.65 586.00,155.90 586.20,156.04 586.40,156.27 586.60,156.42 586.80,155.33 587.00,156.08 587.20,155.14 587.40,156.26 587.60,156.20 587.80,155.66 588.00,156.19 588.20,155.14 588.40,155.58 588.60,155.15 588.80,155.39 589.00,156.72 589.20,155.49 589.40,155.63 589.60,156.03 589.80,155.72 590.00,155.49 590.20,155.22 590.40,155.71 590.60,155.74 590.80,155.97 591.00,155.09 591.20,156.00 591.40,155.64 591.60,154.98 591.80,156.31 592.00,156.70 592.20,155.50 592.40,155.84 592.60,155.79 592.80,156.16 593.00,155.72 593.20,155.74 593.40,155.72 593.60,154.93 593.80,155.65 594.00,155.35 594.20,155.85 594.40,155.82 594.60,155.09 594.80,155.76 595.00,155.19 595.20,155.79 595.40,155.29 595.60,155.80 595.80,156.05 596.00,156.29 596.20,155.49 596.40,155.73 596.60,155.23 596.80,155.60 597.00,155.97 597.20,156.63 597.40,155.69 597.60,155.44 597.80,155.27 598.00,156.04 598.20,155.65 598.40,155.58 598.60,155.86 598.80,155.51 599.00,156.61 599.20,156.25 599.40,155.47 599.60,156.35 599.80,155.77 600.00,155.98 600.20,156.04 600.40,155.84 600.60,155.01 600.80,155.31 601.00,155.72 601.20,155.78 601.40,155.76 601.60,155.77 601.80,156.25 602.00,155.94 602.20,155.49 602.40,155.83 602.60,155.56 602.80,155.71 603.00,155.10 603.20,156.15 603.40,155.58 603.60,155.42 603.80,156.54 604.00,155.95 604.20,156.05 604.40,156.10 604.60,155.45 604.80,156.21 605.00,155.88 605.20,155.08 605.40,155.40 605.60,155.93 605.80,155.67 606.00,155.97 606.20,156.38 606.40,155.34 606.60,155.63 606.80,155.76 607.00,155.68" fill="none" stroke="#2f50ad" stroke-width="0.7" stroke-linejoin="round"/>
<path d="M422.50,169.65 422.70,169.77 422.90,169.73 423.10,169.73 423.30,169.74 423.50,169.70 423.70,169.73 423.90,169.61 424.10,169.66 424.30,169.59 424.50,169.69 424.70,169.70 424.90,169.69 425.10,169.59 425.30,169.64 425.50,169.64 425.70,169.72 425.90,169.62 426.10,169.78 426.30,169.77 426.50,169.69 426.70,169.62 426.90,169.58 427.10,169.67 427.30,169.72 427.50,169.78 427.70,169.58 427.90,169.62 428.10,169.72 428.30,169.65 428.50,169.75 428.70,169.66 428.90,169.83 429.10,169.57 429.30,169.83 429.50,169.69 429.70,169.73 429.90,169.69 430.10,169.71 430.30,169.73 430.50,169.60 430.70,169.70 430.90,169.66 431.10,169.68 431.30,169.75 431.50,169.59 431.70,169.75 431.90,169.69 432.10,169.65 432.30,169.67 432.50,169.82 432.70,169.63 432.90,169.56 433.10,169.84 433.30,169.61 433.50,169.70 433.70,169.63 433.90,169.63 434.10,169.60 434.30,169.81 434.50,169.82 434.70,169.77 434.90,169.61 435.10,169.65 435.30,169.64 435.50,169.85 435.70,169.74 435.90,169.78 436.10,169.65 436.30,169.61 436.50,169.71 436.70,169.57 436.90,169.75 437.10,169.63 437.30,169.76 437.50,169.60 437.70,169.74 437.90,169.67 438.10,169.73 438.30,169.72 438.50,169.65 438.70,169.85 438.90,169.76 439.10,169.73 439.30,169.74 439.50,169.61 439.70,169.77 439.90,169.67 440.10,169.81 440.30,169.71 440.50,169.84 440.70,169.53 440.90,169.60 441.10,169.57 441.30,169.64 441.50,169.69 441.70,169.80 441.90,169.65 442.10,169.65 442.30,169.88 442.50,169.76 442.70,169.64 442.90,169.66 443.10,169.66 443.30,169.78 443.50,169.75 443.70,169.64 443.90,169.81 444.10,169.68 444.30,169.69 444.50,169.69 444.70,169.76 444.90,169.72 445.10,169.53 445.30,169.65 445.50,169.74 445.70,169.79 445.90,169.58 446.10,169.55 446.30,169.50 446.50,169.55 446.70,169.90 446.90,169.64 447.10,169.75 447.30,169.94 447.50,169.79 447.70,170.44 447.90,170.33 448.10,169.44 448.30,168.57 448.50,169.40 448.70,170.73 448.90,170.41 449.10,170.97 449.30,169.45 449.50,169.59 449.70,168.83 449.90,169.35 450.10,169.01 450.30,169.93 450.50,170.23 450.70,170.02 450.90,170.73 451.10,170.45 451.30,170.29 451.50,169.00 451.70,169.21 451.90,169.92 452.10,171.13 452.30,167.90 452.50,169.56 452.70,168.34 452.90,169.91 453.10,171.65 453.30,168.79 453.50,171.51 453.70,169.85 453.90,169.78 454.10,170.70 454.30,169.35 454.50,170.13 454.70,170.75 454.90,170.23 455.10,171.00 455.30,171.41 455.50,170.15 455.70,169.58 455.90,169.79 456.10,171.20 456.30,167.86 456.50,169.87 456.70,168.45 456.90,170.66 457.10,170.31 457.30,170.44 457.50,171.81 457.70,170.87 457.90,170.15 458.10,170.30 458.30,170.55 458.50,170.57 458.70,168.69 458.90,169.84 459.10,167.85 459.30,170.52 459.50,169.77 459.70,169.09 459.90,167.50 460.10,169.39 460.30,168.96 460.50,171.12 460.70,170.88 460.90,167.46 461.10,171.21 461.30,168.85 461.50,167.44 461.70,167.43 461.90,169.10 462.10,168.65 462.30,168.81 462.50,167.40 462.70,167.40 462.90,171.90 463.10,168.83 463.30,168.65 463.50,167.37 463.70,169.74 463.90,170.59 464.10,170.75 464.30,170.39 464.50,170.41 464.70,167.32 464.90,167.40 465.10,170.95 465.30,168.47 465.50,170.03 465.70,167.58 465.90,168.22 466.10,170.60 466.30,171.43 466.50,172.11 466.70,170.02 466.90,170.49 467.10,168.39 467.30,167.23 467.50,172.18 467.70,169.13 467.90,171.08 468.10,171.64 468.30,172.25 468.50,167.12 468.70,169.57 468.90,168.60 469.10,172.38 469.30,167.51 469.50,168.16 469.70,172.48 469.90,166.88 470.10,171.90 470.30,172.28 470.50,170.05 470.70,170.50 470.90,170.25 471.10,171.15 471.30,167.64 471.50,171.97 471.70,168.48 471.90,171.23 472.10,170.80 472.30,171.57 472.50,169.15 472.70,170.18 472.90,166.38 473.10,172.42 473.30,169.26 473.50,167.67 473.70,167.36 473.90,171.24 474.10,167.49 474.30,170.54 474.50,168.94 474.70,173.32 474.90,169.65 475.10,169.49 475.30,167.80 475.50,170.91 475.70,169.04 475.90,172.29 476.10,173.55 476.30,165.82 476.50,168.67 476.70,173.65 476.90,169.59 477.10,169.28 477.30,170.47 477.50,172.44 477.70,168.51 477.90,170.34 478.10,171.04 478.30,169.50 478.50,173.95 478.70,173.98 478.90,169.63 479.10,167.22 479.30,165.32 479.50,174.12 479.70,171.92 479.90,167.77 480.10,168.87 480.30,167.59 480.50,172.22 480.70,167.84 480.90,169.61 481.10,171.83 481.30,172.32 481.50,169.71 481.70,170.53 481.90,170.92 482.10,169.52 482.30,171.71 482.50,169.13 482.70,165.07 482.90,174.34 483.10,172.17 483.30,168.80 483.50,168.16 483.70,167.97 483.90,169.29 484.10,167.46 484.30,170.07 484.50,170.11 484.70,166.79 484.90,168.00 485.10,169.51 485.30,168.05 485.50,173.02 485.70,168.38 485.90,168.39 486.10,170.10 486.30,169.03 486.50,165.38 486.70,174.53 486.90,168.80 487.10,169.80 487.30,172.48 487.50,166.88 487.70,168.70 487.90,164.81 488.10,170.02 488.30,164.79 488.50,164.78 488.70,170.99 488.90,168.77 489.10,164.75 489.30,168.12 489.50,169.55 489.70,170.19 489.90,172.21 490.10,168.47 490.30,169.43 490.50,165.41 490.70,166.41 490.90,171.56 491.10,167.61 491.30,168.56 491.50,167.62 491.70,167.45 491.90,166.83 492.10,167.59 492.30,166.20 492.50,171.28 492.70,171.43 492.90,171.96 493.10,169.33 493.30,164.54 493.50,168.56 493.70,168.76 493.90,166.95 494.10,172.96 494.30,171.16 494.50,171.61 494.70,168.02 494.90,170.35 495.10,174.02 495.30,170.75 495.50,169.25 495.70,174.40 495.90,173.12 496.10,166.37 496.30,171.11 496.50,167.06 496.70,169.61 496.90,167.16 497.10,174.92 497.30,170.48 497.50,173.27 497.70,164.75 497.90,166.02 498.10,171.65 498.30,167.68 498.50,169.34 498.70,174.29 498.90,172.23 499.10,168.26 499.30,173.74 499.50,164.64 499.70,167.90 499.90,174.29 500.10,170.86 500.30,166.40 500.50,168.68 500.70,175.18 500.90,168.63 501.10,173.12 501.30,168.86 501.50,171.86 501.70,170.61 501.90,173.60 502.10,164.25 502.30,164.26 502.50,167.33 502.70,169.95 502.90,170.61 503.10,165.53 503.30,172.81 503.50,166.90 503.70,165.92 503.90,167.97 504.10,169.89 504.30,167.06 504.50,169.24 504.70,173.94 504.90,171.35 505.10,170.45 505.30,169.95 505.50,167.69 505.70,172.37 505.90,167.76 506.10,166.29 506.30,167.83 506.50,168.67 506.70,166.38 506.90,169.78 507.10,175.02 507.30,164.38 507.50,169.23 507.70,165.20 507.90,171.06 508.10,169.30 508.30,169.17 508.50,170.44 508.70,171.67 508.90,169.76 509.10,171.88 509.30,165.13 509.50,170.56 509.70,169.31 509.90,174.38 510.10,167.47 510.30,173.28 510.50,168.83 510.70,171.69 510.90,171.78 511.10,174.92 511.30,170.38 511.50,173.01 511.70,174.74 511.90,171.26 512.10,168.82 512.30,170.98 512.50,168.90 512.70,168.75 512.90,165.81 513.10,172.78 513.30,169.85 513.50,172.88 513.70,171.09 513.90,173.72 514.10,168.76 514.30,171.08 514.50,168.96 514.70,167.85 514.90,171.57 515.10,169.17 515.30,171.88 515.50,169.81 515.70,168.02 515.90,164.82 516.10,171.67 516.30,167.70 516.50,167.42 516.70,168.72 516.90,173.55 517.10,166.92 517.30,171.03 517.50,173.19 517.70,164.64 517.90,168.25 518.10,173.22 518.30,170.19 518.50,171.97 518.70,168.99 518.90,166.68 519.10,170.99 519.30,171.61 519.50,168.25 519.70,172.19 519.90,170.28 520.10,173.80 520.30,171.68 520.50,173.21 520.70,165.36 520.90,171.56 521.10,171.74 521.30,167.40 521.50,174.40 521.70,170.84 521.90,171.64 522.10,171.01 522.30,165.48 522.50,170.04 522.70,168.37 522.90,168.60 523.10,167.87 523.30,170.62 523.50,167.74 523.70,165.44 523.90,170.66 524.10,168.09 524.30,170.87 524.50,173.80 524.70,167.32 524.90,171.21 525.10,169.86 525.30,169.52 525.50,167.49 525.70,170.34 525.90,168.77 526.10,168.08 526.30,168.40 526.50,167.57 526.70,169.33 526.90,167.43 527.10,169.80 527.30,171.11 527.50,168.44 527.70,168.32 527.90,166.28 528.10,168.24 528.30,170.38 528.50,167.69 528.70,170.95 528.90,168.05 529.10,172.31 529.30,171.13 529.50,170.51 529.70,169.29 529.90,168.37 530.10,170.16 530.30,171.49 530.50,166.74 530.70,166.76 530.90,172.63 531.10,170.14 531.30,168.70 531.50,167.53 531.70,171.89 531.90,170.77 532.10,168.33 532.30,168.89 532.50,170.18 532.70,170.14 532.90,172.47 533.10,170.31 533.30,168.74 533.50,171.36 533.70,170.59 533.90,171.28 534.10,169.91 534.30,171.07 534.50,168.60 534.70,169.45 534.90,169.10 535.10,171.51 535.30,169.27 535.50,168.86 535.70,167.68 535.90,170.00 536.10,168.87 536.30,169.61 536.50,168.82 536.70,170.25 536.90,168.51 537.10,169.71 537.30,169.62 537.50,170.57 537.70,171.67 537.90,169.66 538.10,169.22 538.30,168.33 538.50,169.32 538.70,169.24 538.90,169.81 539.10,171.01 539.30,170.39 539.50,168.34 539.70,171.67 539.90,168.38 540.10,170.35 540.30,168.76 540.50,168.98 540.70,167.53 540.90,168.15 541.10,168.90 541.30,168.39 541.50,171.83 541.70,169.51 541.90,171.81 542.10,168.83 542.30,169.39 542.50,169.79 542.70,169.19 542.90,169.70 543.10,168.08 543.30,169.65 543.50,170.68 543.70,171.08 543.90,167.69 544.10,168.11 544.30,171.56 544.50,171.68 544.70,168.94 544.90,167.74 545.10,167.75 545.30,169.09 545.50,169.26 545.70,171.60 545.90,167.79 546.10,169.19 546.30,170.18 546.50,168.68 546.70,168.26 546.90,168.61 547.10,170.20 547.30,170.15 547.50,169.86 547.70,168.74 547.90,170.94 548.10,167.90 548.30,171.41 548.50,170.27 548.70,170.08 548.90,170.27 549.10,169.78 549.30,170.46 549.50,168.94 549.70,169.93 549.90,170.41 550.10,170.53 550.30,170.87 550.50,170.18 550.70,169.67 550.90,171.17 551.10,168.91 551.30,171.26 551.50,168.07 551.70,170.86 551.90,168.09 552.10,170.60 552.30,170.54 552.50,169.76 552.70,170.08 552.90,168.43 553.10,169.42 553.30,170.37 553.50,171.23 553.70,170.41 553.90,169.50 554.10,169.92 554.30,169.18 554.50,168.95 554.70,169.45 554.90,170.73 555.10,171.07 555.30,168.93 555.50,169.65 555.70,170.15 555.90,168.58 556.10,169.39 556.30,169.01 556.50,171.08 556.70,171.07 556.90,168.80 557.10,168.35 557.30,169.60 557.50,171.03 557.70,169.44 557.90,170.69 558.10,169.46 558.30,170.03 558.50,169.77 558.70,168.94 558.90,170.41 559.10,170.09 559.30,169.10 559.50,169.82 559.70,169.33 559.90,168.95 560.10,169.01 560.30,169.13 560.50,169.55 560.70,168.74 560.90,168.92 561.10,170.12 561.30,170.64 561.50,168.91 561.70,170.62 561.90,170.18 562.10,168.53 562.30,169.37 562.50,168.53 562.70,169.02 562.90,169.29 563.10,170.66 563.30,170.62 563.50,168.98 563.70,170.20 563.90,168.77 564.10,169.96 564.30,169.86 564.50,169.97 564.70,170.71 564.90,168.56 565.10,169.80 565.30,169.87 565.50,168.57 565.70,169.17 565.90,169.31 566.10,169.48 566.30,169.11 566.50,168.81 566.70,169.82 566.90,168.59 567.10,169.89 567.30,169.22 567.50,169.88 567.70,169.52 567.90,170.38 568.10,168.98 568.30,170.79 568.50,170.66 568.70,169.98 568.90,170.39 569.10,168.62 569.30,170.06 569.50,168.73 569.70,168.89 569.90,170.12 570.10,168.78 570.30,169.64 570.50,169.65 570.70,169.32 570.90,169.34 571.10,170.10 571.30,168.66 571.50,170.31 571.70,169.30 571.90,169.68 572.10,169.87 572.30,169.49 572.50,170.37 572.70,170.24 572.90,169.69 573.10,169.74 573.30,169.21 573.50,169.21 573.70,169.76 573.90,170.09 574.10,168.68 574.30,169.91 574.50,170.71 574.70,170.19 574.90,169.74 575.10,169.04 575.30,169.39 575.50,169.91 575.70,170.00 575.90,170.62 576.10,169.63 576.30,169.46 576.50,168.93 576.70,169.46 576.90,169.30 577.10,169.41 577.30,170.18 577.50,169.98 577.70,170.40 577.90,170.01 578.10,169.37 578.30,169.41 578.50,170.18 578.70,170.25 578.90,170.31 579.10,170.64 579.30,170.04 579.50,169.85 579.70,169.03 579.90,168.99 580.10,169.75 580.30,169.67 580.50,169.75 580.70,169.76 580.90,170.02 581.10,169.07 581.30,169.46 581.50,169.75 581.70,169.36 581.90,169.88 582.10,169.31 582.30,169.17 582.50,170.37 582.70,169.59 582.90,169.86 583.10,169.66 583.30,170.11 583.50,170.05 583.70,169.53 583.90,170.09 584.10,169.69 584.30,168.96 584.50,169.94 584.70,169.14 584.90,169.81 585.10,169.49 585.30,169.35 585.50,169.46 585.70,169.32 585.90,169.86 586.10,170.18 586.30,170.03 586.50,169.75 586.70,169.53 586.90,169.29 587.10,170.45 587.30,170.02 587.50,169.29 587.70,168.85 587.90,169.82 588.10,169.83 588.30,170.03 588.50,169.84 588.70,170.21 588.90,169.18 589.10,170.05 589.30,169.10 589.50,170.12 589.70,169.51 589.90,168.88 590.10,170.40 590.30,170.44 590.50,169.52 590.70,168.89 590.90,169.73 591.10,170.36 591.30,169.68 591.50,169.61 591.70,170.35 591.90,170.34 592.10,169.63 592.30,169.26 592.50,170.07 592.70,169.84 592.90,168.92 593.10,169.85 593.30,170.47 593.50,169.00 593.70,169.63 593.90,169.10 594.10,169.36 594.30,169.13 594.50,170.37 594.70,169.59 594.90,169.49 595.10,170.37 595.30,169.20 595.50,170.38 595.70,170.04 595.90,169.98 596.10,170.10 596.30,169.84 596.50,169.68 596.70,170.43 596.90,170.10 597.10,169.67 597.30,169.45 597.50,169.78 597.70,169.32 597.90,169.41 598.10,170.25 598.30,168.99 598.50,169.83 598.70,169.75 598.90,170.01 599.10,169.68 599.30,169.52 599.50,170.08 599.70,169.73 599.90,169.10 600.10,169.69 600.30,170.00 600.50,169.62 600.70,169.86 600.90,169.89 601.10,169.57 601.30,169.16 601.50,169.70 601.70,170.10 601.90,170.37 602.10,170.36 602.30,169.05 602.50,169.29 602.70,170.35 602.90,170.09 603.10,169.69 603.30,170.01 603.50,170.21 603.70,169.26 603.90,169.42 604.10,169.49 604.30,169.22 604.50,169.58 604.70,169.88 604.90,170.28 605.10,169.78 605.30,169.65 605.50,169.40 605.70,169.57 605.90,169.79 606.10,169.76 606.30,169.85 606.50,169.71 606.70,169.50 606.90,169.62" fill="none" stroke="#1a1a1a" stroke-width="0.7" stroke-linejoin="round"/>
<path d="M422.50,183.54 422.70,183.55 422.90,183.51 423.10,183.42 423.30,183.57 423.50,183.55 423.70,183.40 423.90,183.53 424.10,183.60 424.30,183.54 424.50,183.41 424.70,183.53 424.90,183.46 425.10,183.61 425.30,183.53 425.50,183.51 425.70,183.61 425.90,183.56 426.10,183.54 426.30,183.50 426.50,183.44 426.70,183.51 426.90,183.53 427.10,183.53 427.30,183.53 427.50,183.52 427.70,183.57 427.90,183.61 428.10,183.51 428.30,183.46 428.50,183.62 428.70,183.47 428.90,183.46 429.10,183.38 429.30,183.54 429.50,183.37 429.70,183.58 429.90,183.48 430.10,183.45 430.30,183.58 430.50,183.48 430.70,183.54 430.90,183.50 431.10,183.46 431.30,183.50 431.50,183.45 431.70,183.52 431.90,183.39 432.10,183.56 432.30,183.55 432.50,183.49 432.70,183.61 432.90,183.53 433.10,183.36 433.30,183.37 433.50,183.64 433.70,183.41 433.90,183.45 434.10,183.49 434.30,183.55 434.50,183.36 434.70,183.40 434.90,183.46 435.10,183.37 435.30,183.51 435.50,183.62 435.70,183.54 435.90,183.50 436.10,183.35 436.30,183.54 436.50,183.66 436.70,183.50 436.90,183.44 437.10,183.50 437.30,183.44 437.50,183.47 437.70,183.56 437.90,183.52 438.10,183.64 438.30,183.38 438.50,183.63 438.70,183.42 438.90,183.63 439.10,183.55 439.30,183.62 439.50,183.45 439.70,183.43 439.90,183.51 440.10,183.55 440.30,183.62 440.50,183.49 440.70,183.64 440.90,183.59 441.10,183.58 441.30,183.40 441.50,183.45 441.70,183.59 441.90,183.53 442.10,183.62 442.30,183.49 442.50,183.38 442.70,183.61 442.90,183.42 443.10,183.32 443.30,183.62 443.50,183.48 443.70,183.63 443.90,183.56 444.10,183.47 444.30,183.45 444.50,183.52 444.70,183.41 444.90,183.34 445.10,183.64 445.30,183.40 445.50,183.57 445.70,183.50 445.90,183.31 446.10,183.34 446.30,183.40 446.50,183.51 446.70,183.46 446.90,183.59 447.10,183.45 447.30,183.64 447.50,183.58 447.70,183.56 447.90,183.35 448.10,183.50 448.30,183.49 448.50,183.50 448.70,183.52 448.90,183.36 449.10,183.52 449.30,183.53 449.50,183.58 449.70,183.47 449.90,183.51 450.10,184.20 450.30,183.10 450.50,183.69 450.70,184.04 450.90,182.46 451.10,183.99 451.30,183.76 451.50,184.26 451.70,183.53 451.90,183.64 452.10,182.68 452.30,183.00 452.50,183.28 452.70,184.34 452.90,183.15 453.10,184.26 453.30,184.18 453.50,183.83 453.70,183.14 453.90,183.30 454.10,181.76 454.30,184.67 454.50,184.08 454.70,184.18 454.90,182.48 455.10,183.18 455.30,183.19 455.50,182.67 455.70,182.41 455.90,185.33 456.10,182.59 456.30,183.40 456.50,184.05 456.70,184.34 456.90,185.09 457.10,181.84 457.30,184.76 457.50,185.34 457.70,182.86 457.90,182.76 458.10,185.70 458.30,184.15 458.50,183.34 458.70,183.16 458.90,183.16 459.10,184.19 459.30,184.93 459.50,185.87 459.70,184.27 459.90,185.33 460.10,181.07 460.30,183.95 460.50,181.81 460.70,184.21 460.90,180.97 461.10,181.64 461.30,181.13 461.50,183.53 461.70,184.09 461.90,183.78 462.10,183.03 462.30,184.08 462.50,183.78 462.70,184.82 462.90,184.37 463.10,182.13 463.30,184.30 463.50,185.11 463.70,184.23 463.90,180.63 464.10,182.06 464.30,186.42 464.50,182.84 464.70,182.35 464.90,185.87 465.10,181.76 465.30,183.49 465.50,183.32 465.70,180.91 465.90,180.65 466.10,183.15 466.30,183.68 466.50,183.90 466.70,182.25 466.90,184.19 467.10,184.64 467.30,184.52 467.50,185.65 467.70,181.89 467.90,181.46 468.10,184.65 468.30,186.48 468.50,179.27 468.70,183.44 468.90,181.90 469.10,183.83 469.30,181.21 469.50,178.25 469.70,187.93 469.90,185.13 470.10,178.02 470.30,186.28 470.50,182.04 470.70,182.34 470.90,182.60 471.10,188.94 471.30,178.99 471.50,187.04 471.70,184.52 471.90,178.36 472.10,178.81 472.30,181.66 472.50,182.18 472.70,184.97 472.90,185.10 473.10,182.12 473.30,185.15 473.50,177.57 473.70,185.06 473.90,184.31 474.10,184.98 474.30,188.47 474.50,185.36 474.70,184.56 474.90,184.36 475.10,181.93 475.30,185.87 475.50,185.24 475.70,180.62 475.90,187.96 476.10,175.35 476.30,181.83 476.50,180.95 476.70,185.95 476.90,185.94 477.10,185.17 477.30,181.08 477.50,184.03 477.70,186.55 477.90,185.04 478.10,189.42 478.30,181.85 478.50,183.93 478.70,181.65 478.90,182.87 479.10,190.25 479.30,180.69 479.50,182.72 479.70,186.61 479.90,185.67 480.10,184.90 480.30,184.39 480.50,181.25 480.70,180.99 480.90,185.69 481.10,178.28 481.30,185.71 481.50,181.52 481.70,185.03 481.90,178.00 482.10,182.75 482.30,183.51 482.50,191.00 482.70,185.03 482.90,184.17 483.10,180.58 483.30,180.61 483.50,186.77 483.70,185.06 483.90,186.52 484.10,187.56 484.30,182.30 484.50,183.25 484.70,187.21 484.90,187.19 485.10,190.58 485.30,174.13 485.50,189.10 485.70,182.22 485.90,191.23 486.10,185.38 486.30,186.78 486.50,181.17 486.70,182.94 486.90,178.30 487.10,182.29 487.30,185.97 487.50,183.41 487.70,184.50 487.90,185.91 488.10,186.45 488.30,177.87 488.50,180.67 488.70,184.11 488.90,173.65 489.10,186.49 489.30,180.69 489.50,188.33 489.70,184.23 489.90,186.15 490.10,191.31 490.30,178.42 490.50,183.79 490.70,191.47 490.90,185.42 491.10,186.30 491.30,184.61 491.50,191.43 491.70,178.38 491.90,183.06 492.10,185.06 492.30,176.92 492.50,174.43 492.70,183.41 492.90,187.50 493.10,188.46 493.30,179.52 493.50,173.85 493.70,182.60 493.90,187.75 494.10,181.32 494.30,184.39 494.50,182.23 494.70,174.87 494.90,184.13 495.10,191.25 495.30,177.67 495.50,183.42 495.70,187.49 495.90,180.80 496.10,187.46 496.30,188.62 496.50,182.64 496.70,188.17 496.90,187.54 497.10,187.29 497.30,186.53 497.50,186.62 497.70,191.12 497.90,184.19 498.10,180.64 498.30,189.98 498.50,181.78 498.70,174.37 498.90,183.09 499.10,186.71 499.30,187.61 499.50,180.28 499.70,184.98 499.90,179.94 500.10,184.30 500.30,179.41 500.50,180.45 500.70,188.68 500.90,186.65 501.10,179.22 501.30,183.57 501.50,177.27 501.70,183.66 501.90,181.11 502.10,174.71 502.30,189.51 502.50,179.00 502.70,185.13 502.90,187.08 503.10,174.81 503.30,185.51 503.50,183.93 503.70,183.65 503.90,184.87 504.10,183.31 504.30,181.27 504.50,184.78 504.70,176.03 504.90,182.73 505.10,182.15 505.30,183.93 505.50,175.24 505.70,190.25 505.90,181.86 506.10,187.53 506.30,183.17 506.50,180.05 506.70,186.13 506.90,181.58 507.10,187.48 507.30,188.19 507.50,177.75 507.70,183.15 507.90,180.49 508.10,190.60 508.30,187.16 508.50,187.11 508.70,175.37 508.90,190.56 509.10,181.80 509.30,183.53 509.50,190.53 509.70,190.52 509.90,180.53 510.10,175.52 510.30,183.06 510.50,182.87 510.70,177.59 510.90,184.78 511.10,183.15 511.30,181.18 511.50,181.10 511.70,184.79 511.90,175.97 512.10,183.85 512.30,176.07 512.50,181.58 512.70,183.34 512.90,178.64 513.10,188.30 513.30,185.93 513.50,182.18 513.70,181.40 513.90,189.85 514.10,182.88 514.30,177.62 514.50,182.03 514.70,183.24 514.90,183.77 515.10,181.12 515.30,182.54 515.50,181.22 515.70,179.62 515.90,176.97 516.10,183.64 516.30,186.26 516.50,182.66 516.70,182.06 516.90,189.35 517.10,188.01 517.30,181.33 517.50,184.11 517.70,187.93 517.90,180.64 518.10,189.15 518.30,185.15 518.50,185.48 518.70,183.36 518.90,186.41 519.10,183.79 519.30,185.33 519.50,177.87 519.70,180.20 519.90,181.31 520.10,183.85 520.30,183.37 520.50,178.12 520.70,182.06 520.90,181.84 521.10,182.42 521.30,179.92 521.50,188.58 521.70,187.34 521.90,182.38 522.10,181.46 522.30,178.55 522.50,182.06 522.70,186.45 522.90,183.54 523.10,186.13 523.30,186.48 523.50,184.14 523.70,179.06 523.90,179.72 524.10,181.74 524.30,184.09 524.50,184.06 524.70,180.01 524.90,181.27 525.10,180.52 525.30,187.14 525.50,186.02 525.70,185.03 525.90,182.82 526.10,186.16 526.30,183.30 526.50,182.52 526.70,184.36 526.90,184.29 527.10,179.28 527.30,183.81 527.50,187.05 527.70,184.90 527.90,184.78 528.10,182.19 528.30,183.61 528.50,181.72 528.70,181.79 528.90,185.50 529.10,179.59 529.30,183.88 529.50,184.41 529.70,182.26 529.90,180.82 530.10,181.09 530.30,184.70 530.50,180.32 530.70,180.60 530.90,181.52 531.10,184.75 531.30,182.50 531.50,183.92 531.70,183.11 531.90,183.72 532.10,181.26 532.30,180.81 532.50,183.68 532.70,183.48 532.90,184.00 533.10,182.48 533.30,181.45 533.50,186.03 533.70,182.25 533.90,182.44 534.10,180.81 534.30,183.91 534.50,186.58 534.70,183.77 534.90,183.54 535.10,184.89 535.30,180.62 535.50,183.62 535.70,184.22 535.90,180.69 536.10,180.58 536.30,185.86 536.50,182.82 536.70,180.62 536.90,180.63 537.10,182.64 537.30,183.83 537.50,185.70 537.70,186.31 537.90,183.11 538.10,184.22 538.30,184.84 538.50,182.67 538.70,180.76 538.90,185.30 539.10,184.53 539.30,180.80 539.50,180.81 539.70,183.58 539.90,185.48 540.10,183.35 540.30,180.93 540.50,181.36 540.70,184.56 540.90,183.54 541.10,184.94 541.30,181.72 541.50,181.02 541.70,183.47 541.90,185.18 542.10,181.00 542.30,183.36 542.50,182.95 542.70,185.39 542.90,184.35 543.10,185.26 543.30,185.77 543.50,182.80 543.70,183.88 543.90,183.60 544.10,181.59 544.30,182.94 544.50,184.23 544.70,184.73 544.90,181.61 545.10,184.77 545.30,183.35 545.50,181.61 545.70,185.75 545.90,184.01 546.10,181.28 546.30,184.37 546.50,183.55 546.70,182.08 546.90,182.73 547.10,182.60 547.30,183.52 547.50,183.42 547.70,184.12 547.90,184.18 548.10,185.57 548.30,182.59 548.50,184.60 548.70,185.54 548.90,185.11 549.10,184.35 549.30,183.55 549.50,185.22 549.70,183.78 549.90,184.36 550.10,182.77 550.30,184.24 550.50,183.01 550.70,183.93 550.90,184.83 551.10,182.30 551.30,183.63 551.50,183.71 551.70,182.80 551.90,182.48 552.10,181.70 552.30,183.91 552.50,183.44 552.70,183.50 552.90,184.63 553.10,183.85 553.30,182.85 553.50,184.00 553.70,183.34 553.90,182.89 554.10,182.01 554.30,185.06 554.50,183.62 554.70,183.58 554.90,184.33 555.10,182.84 555.30,184.09 555.50,184.16 555.70,181.91 555.90,184.34 556.10,181.92 556.30,184.01 556.50,182.06 556.70,182.85 556.90,182.68 557.10,183.09 557.30,182.74 557.50,183.94 557.70,182.24 557.90,183.62 558.10,184.03 558.30,183.28 558.50,183.90 558.70,182.09 558.90,183.74 559.10,183.70 559.30,184.00 559.50,182.01 559.70,184.26 559.90,182.62 560.10,182.96 560.30,185.01 560.50,183.13 560.70,183.25 560.90,182.00 561.10,183.79 561.30,183.58 561.50,182.01 561.70,183.20 561.90,184.71 562.10,182.02 562.30,184.59 562.50,184.56 562.70,183.04 562.90,183.64 563.10,183.08 563.30,183.04 563.50,184.42 563.70,182.44 563.90,183.32 564.10,183.06 564.30,182.14 564.50,184.31 564.70,182.99 564.90,183.58 565.10,184.69 565.30,183.23 565.50,183.31 565.70,182.43 565.90,184.12 566.10,183.51 566.30,183.09 566.50,184.09 566.70,182.10 566.90,184.17 567.10,184.89 567.30,184.89 567.50,183.11 567.70,184.07 567.90,184.21 568.10,183.55 568.30,182.97 568.50,183.48 568.70,183.23 568.90,182.14 569.10,182.91 569.30,184.85 569.50,182.81 569.70,182.15 569.90,183.58 570.10,184.84 570.30,182.61 570.50,183.80 570.70,184.38 570.90,184.80 571.10,184.82 571.30,182.33 571.50,184.43 571.70,184.26 571.90,182.53 572.10,182.20 572.30,184.80 572.50,184.57 572.70,184.28 572.90,182.67 573.10,183.61 573.30,183.83 573.50,182.67 573.70,182.93 573.90,182.23 574.10,183.82 574.30,183.11 574.50,184.27 574.70,182.60 574.90,184.57 575.10,183.02 575.30,184.47 575.50,183.49 575.70,184.74 575.90,182.56 576.10,183.14 576.30,182.30 576.50,183.23 576.70,183.72 576.90,184.55 577.10,182.28 577.30,183.21 577.50,182.93 577.70,184.54 577.90,183.46 578.10,184.39 578.30,183.75 578.50,183.06 578.70,182.95 578.90,183.22 579.10,182.86 579.30,182.87 579.50,184.11 579.70,182.99 579.90,183.46 580.10,183.35 580.30,182.84 580.50,183.28 580.70,183.43 580.90,183.10 581.10,183.30 581.30,183.64 581.50,182.68 581.70,184.64 581.90,182.44 582.10,182.41 582.30,183.21 582.50,183.71 582.70,184.46 582.90,183.18 583.10,184.60 583.30,184.10 583.50,183.80 583.70,182.82 583.90,184.35 584.10,182.40 584.30,183.59 584.50,182.41 584.70,184.59 584.90,183.95 585.10,183.19 585.30,182.86 585.50,182.43 585.70,183.01 585.90,184.14 586.10,182.82 586.30,183.24 586.50,183.31 586.70,184.24 586.90,183.05 587.10,184.25 587.30,182.70 587.50,182.46 587.70,183.61 587.90,184.32 588.10,184.53 588.30,183.09 588.50,184.40 588.70,183.67 588.90,183.60 589.10,183.41 589.30,183.41 589.50,183.96 589.70,184.12 589.90,183.44 590.10,183.95 590.30,183.12 590.50,184.11 590.70,182.71 590.90,183.07 591.10,182.64 591.30,182.77 591.50,183.99 591.70,183.62 591.90,183.52 592.10,184.15 592.30,183.34 592.50,183.94 592.70,183.36 592.90,183.55 593.10,184.22 593.30,183.68 593.50,183.61 593.70,183.42 593.90,182.57 594.10,182.88 594.30,183.47 594.50,183.63 594.70,183.42 594.90,183.76 595.10,182.65 595.30,183.46 595.50,183.54 595.70,183.83 595.90,183.97 596.10,183.35 596.30,182.82 596.50,183.41 596.70,182.62 596.90,183.12 597.10,183.68 597.30,183.87 597.50,183.81 597.70,182.64 597.90,183.79 598.10,183.79 598.30,184.31 598.50,183.97 598.70,183.76 598.90,184.24 599.10,182.69 599.30,183.14 599.50,183.00 599.70,183.73 599.90,184.02 600.10,183.09 600.30,183.22 600.50,183.56 600.70,183.85 600.90,184.15 601.10,183.27 601.30,183.54 601.50,183.31 601.70,183.05 601.90,184.07 602.10,182.77 602.30,183.17 602.50,183.66 602.70,183.82 602.90,183.39 603.10,183.15 603.30,183.44 603.50,183.38 603.70,183.92 603.90,184.25 604.10,183.04 604.30,183.53 604.50,183.42 604.70,183.28 604.90,183.61 605.10,183.55 605.30,183.57 605.50,183.95 605.70,182.93 605.90,183.73 606.10,183.75 606.30,183.37 606.50,183.90 606.70,183.36 606.90,183.05" fill="none" stroke="#e3321f" stroke-width="0.7" stroke-linejoin="round"/>
<path d="M424.50,197.59 424.70,197.68 424.90,197.67 425.10,197.70 425.30,197.59 425.50,197.69 425.70,197.49 425.90,197.49 426.10,197.53 426.30,197.66 426.50,197.71 426.70,197.49 426.90,197.56 427.10,197.49 427.30,197.71 427.50,197.63 427.70,197.49 427.90,197.61 428.10,197.64 428.30,197.61 428.50,197.63 428.70,197.63 428.90,197.49 429.10,197.57 429.30,197.68 429.50,197.72 429.70,197.68 429.90,197.59 430.10,197.48 430.30,197.55 430.50,197.57 430.70,197.62 430.90,197.61 431.10,197.58 431.30,197.57 431.50,197.70 431.70,197.71 431.90,197.73 432.10,197.59 432.30,197.69 432.50,197.68 432.70,197.52 432.90,197.67 433.10,197.69 433.30,197.48 433.50,197.62 433.70,197.59 433.90,197.62 434.10,197.71 434.30,197.66 434.50,197.59 434.70,197.57 434.90,197.63 435.10,197.57 435.30,197.57 435.50,197.52 435.70,197.62 435.90,197.68 436.10,197.69 436.30,197.65 436.50,197.62 436.70,197.55 436.90,197.45 437.10,197.75 437.30,197.63 437.50,197.53 437.70,197.66 437.90,197.74 438.10,197.48 438.30,197.52 438.50,197.65 438.70,197.59 438.90,197.69 439.10,197.45 439.30,197.72 439.50,197.75 439.70,197.73 439.90,197.50 440.10,197.44 440.30,197.68 440.50,197.72 440.70,197.49 440.90,197.65 441.10,197.76 441.30,197.59 441.50,197.67 441.70,197.72 441.90,197.58 442.10,197.70 442.30,197.52 442.50,197.54 442.70,197.77 442.90,197.43 443.10,197.59 443.30,197.62 443.50,197.55 443.70,197.59 443.90,197.65 444.10,197.49 444.30,197.48 444.50,197.42 444.70,197.67 444.90,197.59 445.10,197.53 445.30,197.69 445.50,197.57 445.70,197.61 445.90,197.59 446.10,197.75 446.30,197.62 446.50,197.55 446.70,197.63 446.90,197.78 447.10,197.78 447.30,197.60 447.50,197.71 447.70,197.55 447.90,197.58 448.10,197.72 448.30,197.48 448.50,197.54 448.70,197.41 448.90,197.67 449.10,197.67 449.30,197.59 449.50,197.79 449.70,197.40 449.90,197.79 450.10,197.76 450.30,197.42 450.50,197.51 450.70,197.64 450.90,197.47 451.10,197.83 451.30,197.48 451.50,197.96 451.70,197.70 451.90,198.09 452.10,197.42 452.30,197.11 452.50,198.29 452.70,196.94 452.90,197.16 453.10,197.01 453.30,197.27 453.50,197.61 453.70,198.10 453.90,197.46 454.10,197.87 454.30,198.52 454.50,198.94 454.70,197.72 454.90,197.33 455.10,197.93 455.30,197.33 455.50,198.64 455.70,196.69 455.90,197.26 456.10,197.77 456.30,197.38 456.50,197.36 456.70,198.40 456.90,197.10 457.10,195.79 457.30,197.77 457.50,197.77 457.70,195.70 457.90,198.50 458.10,195.88 458.30,196.16 458.50,196.98 458.70,199.47 458.90,197.93 459.10,199.01 459.30,198.32 459.50,196.33 459.70,198.63 459.90,198.73 460.10,197.93 460.30,196.15 460.50,199.56 460.70,199.40 460.90,198.97 461.10,198.81 461.30,198.21 461.50,195.13 461.70,196.86 461.90,195.07 462.10,196.69 462.30,197.26 462.50,198.16 462.70,199.46 462.90,197.73 463.10,196.52 463.30,198.43 463.50,198.13 463.70,197.26 463.90,197.12 464.10,197.15 464.30,198.98 464.50,196.43 464.70,196.69 464.90,197.65 465.10,198.00 465.30,196.05 465.50,194.52 465.70,199.77 465.90,196.21 466.10,198.42 466.30,196.05 466.50,200.83 466.70,202.06 466.90,199.55 467.10,195.67 467.30,198.13 467.50,200.98 467.70,199.92 467.90,203.09 468.10,203.26 468.30,200.62 468.50,197.52 468.70,191.54 468.90,197.92 469.10,195.82 469.30,202.10 469.50,198.15 469.70,200.82 469.90,199.60 470.10,198.13 470.30,194.57 470.50,200.85 470.70,198.61 470.90,202.84 471.10,198.26 471.30,204.56 471.50,197.13 471.70,205.92 471.90,198.96 472.10,198.65 472.30,194.39 472.50,200.28 472.70,197.80 472.90,192.25 473.10,200.64 473.30,199.16 473.50,199.66 473.70,194.48 473.90,189.72 474.10,195.67 474.30,188.44 474.50,203.63 474.70,198.57 474.90,188.39 475.10,196.20 475.30,188.36 475.50,202.52 475.70,192.44 475.90,200.41 476.10,191.52 476.30,194.04 476.50,202.19 476.70,200.23 476.90,193.18 477.10,191.21 477.30,196.49 477.50,197.01 477.70,202.24 477.90,193.44 478.10,190.31 478.30,195.57 478.50,194.75 478.70,191.53 478.90,188.11 479.10,198.88 479.30,197.38 479.50,188.27 479.70,196.05 479.90,202.62 480.10,192.63 480.30,199.96 480.50,193.11 480.70,206.96 480.90,207.87 481.10,196.00 481.30,200.41 481.50,189.12 481.70,198.54 481.90,205.90 482.10,190.23 482.30,200.13 482.50,193.42 482.70,192.60 482.90,196.32 483.10,200.39 483.30,197.33 483.50,198.86 483.70,194.74 483.90,196.68 484.10,189.68 484.30,194.70 484.50,187.71 484.70,196.77 484.90,191.40 485.10,196.54 485.30,195.82 485.50,204.89 485.70,196.58 485.90,202.51 486.10,199.68 486.30,206.14 486.50,200.58 486.70,201.40 486.90,208.73 487.10,196.07 487.30,193.62 487.50,206.53 487.70,194.51 487.90,193.35 488.10,192.59 488.30,195.45 488.50,195.81 488.70,191.20 488.90,197.37 489.10,209.04 489.30,203.80 489.50,199.32 489.70,193.79 489.90,198.44 490.10,209.19 490.30,205.44 490.50,200.25 490.70,199.36 490.90,198.41 491.10,199.50 491.30,197.97 491.50,203.20 491.70,197.44 491.90,199.12 492.10,198.66 492.30,195.37 492.50,193.62 492.70,194.50 492.90,199.03 493.10,197.01 493.30,202.82 493.50,197.17 493.70,191.35 493.90,199.70 494.10,187.02 494.30,203.70 494.50,209.81 494.70,193.61 494.90,203.76 495.10,204.61 495.30,203.85 495.50,209.96 495.70,191.69 495.90,210.01 496.10,191.71 496.30,196.42 496.50,196.73 496.70,194.04 496.90,197.00 497.10,202.53 497.30,207.37 497.50,189.61 497.70,210.27 497.90,209.54 498.10,202.15 498.30,192.95 498.50,196.86 498.70,203.91 498.90,187.15 499.10,210.47 499.30,192.41 499.50,188.06 499.70,195.43 499.90,210.59 500.10,188.25 500.30,186.59 500.50,204.40 500.70,203.10 500.90,196.24 501.10,196.27 501.30,198.04 501.50,190.81 501.70,210.68 501.90,203.31 502.10,186.50 502.30,192.03 502.50,191.03 502.70,203.07 502.90,187.31 503.10,198.45 503.30,194.75 503.50,203.00 503.70,196.81 503.90,199.19 504.10,187.72 504.30,189.63 504.50,190.32 504.70,193.52 504.90,194.81 505.10,191.48 505.30,189.37 505.50,206.21 505.70,202.92 505.90,205.68 506.10,186.30 506.30,197.22 506.50,197.36 506.70,210.93 506.90,186.58 507.10,194.92 507.30,208.76 507.50,193.39 507.70,193.08 507.90,186.21 508.10,197.45 508.30,211.01 508.50,200.54 508.70,186.17 508.90,211.04 509.10,205.19 509.30,200.18 509.50,211.07 509.70,209.47 509.90,209.83 510.10,198.10 510.30,187.47 510.50,189.51 510.70,202.69 510.90,202.97 511.10,193.76 511.30,198.32 511.50,190.46 511.70,194.89 511.90,196.99 512.10,203.29 512.30,199.98 512.50,191.54 512.70,193.71 512.90,189.77 513.10,198.30 513.30,185.94 513.50,211.27 513.70,196.65 513.90,195.28 514.10,185.90 514.30,197.46 514.50,189.23 514.70,192.36 514.90,197.26 515.10,200.72 515.30,195.22 515.50,198.72 515.70,202.14 515.90,201.07 516.10,199.84 516.30,200.86 516.50,211.42 516.70,204.65 516.90,211.44 517.10,187.45 517.30,185.74 517.50,192.45 517.70,192.62 517.90,190.51 518.10,194.33 518.30,199.40 518.50,210.60 518.70,210.96 518.90,210.55 519.10,199.53 519.30,208.30 519.50,191.73 519.70,194.99 519.90,211.59 520.10,193.87 520.30,210.75 520.50,197.08 520.70,199.00 520.90,203.21 521.10,192.79 521.30,204.70 521.50,209.66 521.70,199.44 521.90,203.86 522.10,209.92 522.30,194.76 522.50,200.36 522.70,195.44 522.90,191.48 523.10,195.19 523.30,206.67 523.50,193.83 523.70,196.51 523.90,191.90 524.10,195.52 524.30,202.99 524.50,202.21 524.70,194.58 524.90,192.32 525.10,205.52 525.30,198.00 525.50,195.02 525.70,207.04 525.90,200.80 526.10,190.87 526.30,199.45 526.50,203.62 526.70,192.28 526.90,195.81 527.10,201.30 527.30,199.07 527.50,203.26 527.70,190.22 527.90,195.31 528.10,202.10 528.30,203.62 528.50,198.99 528.70,198.70 528.90,202.35 529.10,191.06 529.30,191.18 529.50,197.90 529.70,199.55 529.90,199.39 530.10,199.38 530.30,198.65 530.50,203.52 530.70,192.12 530.90,202.86 531.10,197.02 531.30,196.38 531.50,196.83 531.70,195.18 531.90,193.27 532.10,195.45 532.30,196.16 532.50,199.49 532.70,200.73 532.90,198.65 533.10,199.60 533.30,199.00 533.50,199.29 533.70,197.85 533.90,197.46 534.10,202.92 534.30,193.02 534.50,195.23 534.70,194.72 534.90,198.12 535.10,196.68 535.30,194.71 535.50,202.68 535.70,198.81 535.90,195.12 536.10,198.66 536.30,201.43 536.50,201.57 536.70,202.48 536.90,200.55 537.10,202.42 537.30,198.74 537.50,195.87 537.70,199.25 537.90,198.84 538.10,194.80 538.30,197.69 538.50,197.44 538.70,198.57 538.90,196.53 539.10,194.55 539.30,198.36 539.50,193.18 539.70,201.98 539.90,198.29 540.10,196.15 540.30,196.72 540.50,197.41 540.70,197.92 540.90,197.35 541.10,195.97 541.30,201.18 541.50,194.76 541.70,197.83 541.90,199.36 542.10,199.07 542.30,196.03 542.50,198.02 542.70,193.72 542.90,195.46 543.10,197.69 543.30,196.37 543.50,193.85 543.70,196.26 543.90,195.61 544.10,198.71 544.30,201.22 544.50,195.09 544.70,198.61 544.90,199.50 545.10,196.76 545.30,199.42 545.50,196.23 545.70,196.44 545.90,195.31 546.10,198.47 546.30,196.42 546.50,199.76 546.70,199.16 546.90,195.82 547.10,196.11 547.30,194.26 547.50,196.51 547.70,199.01 547.90,198.29 548.10,196.51 548.30,198.88 548.50,198.80 548.70,196.39 548.90,197.51 549.10,196.43 549.30,196.46 549.50,197.97 549.70,199.96 549.90,200.51 550.10,196.64 550.30,197.97 550.50,199.11 550.70,199.45 550.90,198.73 551.10,197.74 551.30,196.15 551.50,198.68 551.70,195.99 551.90,196.47 552.10,196.91 552.30,198.80 552.50,197.86 552.70,196.70 552.90,198.47 553.10,194.65 553.30,195.94 553.50,197.09 553.70,198.05 553.90,195.51 554.10,198.84 554.30,199.77 554.50,195.95 554.70,197.99 554.90,197.79 555.10,198.02 555.30,197.23 555.50,197.67 555.70,197.30 555.90,198.06 556.10,196.83 556.30,197.56 556.50,198.33 556.70,199.53 556.90,196.52 557.10,198.93 557.30,198.24 557.50,195.45 557.70,197.39 557.90,196.00 558.10,196.39 558.30,198.47 558.50,199.49 558.70,199.29 558.90,198.75 559.10,197.82 559.30,199.02 559.50,196.65 559.70,197.13 559.90,198.28 560.10,195.39 560.30,197.26 560.50,199.01 560.70,196.56 560.90,197.76 561.10,197.24 561.30,196.19 561.50,197.63 561.70,196.99 561.90,199.17 562.10,196.97 562.30,199.70 562.50,197.10 562.70,197.67 562.90,198.57 563.10,196.52 563.30,197.60 563.50,197.99 563.70,196.57 563.90,197.12 564.10,197.04 564.30,198.01 564.50,196.66 564.70,196.87 564.90,198.95 565.10,197.22 565.30,195.48 565.50,196.88 565.70,199.69 565.90,198.57 566.10,196.74 566.30,196.82 566.50,197.28 566.70,196.87 566.90,197.18 567.10,195.60 567.30,198.84 567.50,197.17 567.70,199.56 567.90,198.52 568.10,199.28 568.30,199.17 568.50,197.76 568.70,195.75 568.90,198.74 569.10,197.65 569.30,199.45 569.50,197.80 569.70,196.88 569.90,197.05 570.10,198.59 570.30,199.39 570.50,196.55 570.70,196.91 570.90,199.38 571.10,198.43 571.30,195.82 571.50,197.85 571.70,197.94 571.90,197.28 572.10,197.83 572.30,196.18 572.50,197.01 572.70,197.28 572.90,198.01 573.10,196.57 573.30,198.95 573.50,197.31 573.70,198.05 573.90,196.99 574.10,196.59 574.30,196.36 574.50,197.89 574.70,198.71 574.90,197.35 575.10,199.15 575.30,198.19 575.50,196.18 575.70,198.05 575.90,198.30 576.10,199.16 576.30,196.00 576.50,196.05 576.70,197.12 576.90,197.48 577.10,199.27 577.30,199.26 577.50,198.23 577.70,197.24 577.90,198.47 578.10,196.80 578.30,196.60 578.50,199.24 578.70,198.45 578.90,197.74 579.10,195.97 579.30,199.22 579.50,196.39 579.70,199.18 579.90,195.99 580.10,198.22 580.30,196.38 580.50,197.39 580.70,197.42 580.90,196.35 581.10,196.23 581.30,196.01 581.50,196.24 581.70,198.41 581.90,198.74 582.10,197.16 582.30,197.81 582.50,196.74 582.70,197.44 582.90,197.53 583.10,196.72 583.30,196.05 583.50,197.14 583.70,197.99 583.90,197.25 584.10,197.45 584.30,197.46 584.50,197.70 584.70,197.10 584.90,198.48 585.10,197.72 585.30,197.36 585.50,198.54 585.70,199.10 585.90,197.18 586.10,197.21 586.30,197.81 586.50,196.92 586.70,198.66 586.90,196.76 587.10,197.20 587.30,198.53 587.50,198.05 587.70,199.07 587.90,198.43 588.10,199.05 588.30,199.05 588.50,198.08 588.70,196.75 588.90,198.76 589.10,198.71 589.30,197.58 589.50,197.30 589.70,197.57 589.90,197.76 590.10,196.76 590.30,197.19 590.50,198.12 590.70,197.65 590.90,197.18 591.10,196.55 591.30,198.95 591.50,197.44 591.70,197.79 591.90,198.86 592.10,197.78 592.30,197.38 592.50,197.82 592.70,197.59 592.90,197.79 593.10,196.24 593.30,198.51 593.50,198.04 593.70,196.38 593.90,198.17 594.10,198.12 594.30,198.25 594.50,197.17 594.70,196.27 594.90,198.45 595.10,197.77 595.30,197.63 595.50,198.22 595.70,197.28 595.90,198.14 596.10,197.63 596.30,198.28 596.50,197.79 596.70,197.80 596.90,197.88 597.10,196.78 597.30,197.96 597.50,197.42 597.70,198.06 597.90,197.12 598.10,197.59 598.30,197.68 598.50,197.57 598.70,198.03 598.90,197.33 599.10,196.83 599.30,197.30 599.50,197.62 599.70,197.63 599.90,196.37 600.10,197.17 600.30,198.43 600.50,197.16 600.70,197.31 600.90,197.95 601.10,198.53 601.30,197.86 601.50,196.95 601.70,197.01 601.90,197.93 602.10,196.41 602.30,198.15 602.50,197.81 602.70,197.76 602.90,197.28 603.10,197.69 603.30,196.43 603.50,197.18 603.70,196.83 603.90,197.99 604.10,198.34 604.30,197.29 604.50,198.22 604.70,196.94 604.90,196.77 605.10,197.07 605.30,196.85 605.50,198.73 605.70,198.37 605.90,197.42 606.10,197.16 606.30,196.70 606.50,197.42 606.70,198.25 606.90,197.51" fill="none" stroke="#2f50ad" stroke-width="0.7" stroke-linejoin="round"/>
<path d="M426.50,211.32 426.70,211.35 426.90,211.20 427.10,211.27 427.30,211.20 427.50,211.26 427.70,211.29 427.90,211.22 428.10,211.36 428.30,211.30 428.50,211.37 428.70,211.34 428.90,211.35 429.10,211.27 429.30,211.30 429.50,211.19 429.70,211.24 429.90,211.24 430.10,211.32 430.30,211.20 430.50,211.21 430.70,211.34 430.90,211.39 431.10,211.33 431.30,211.26 431.50,211.42 431.70,211.41 431.90,211.40 432.10,211.28 432.30,211.20 432.50,211.18 432.70,211.36 432.90,211.31 433.10,211.28 433.30,211.33 433.50,211.24 433.70,211.43 433.90,211.43 434.10,211.36 434.30,211.23 434.50,211.28 434.70,211.43 434.90,211.27 435.10,211.25 435.30,211.38 435.50,211.39 435.70,211.43 435.90,211.33 436.10,211.30 436.30,211.16 436.50,211.27 436.70,211.16 436.90,211.20 437.10,211.43 437.30,211.24 437.50,211.32 437.70,211.29 437.90,211.16 438.10,211.25 438.30,211.28 438.50,211.22 438.70,211.22 438.90,211.45 439.10,211.36 439.30,211.31 439.50,211.22 439.70,211.27 439.90,211.19 440.10,211.37 440.30,211.45 440.50,211.18 440.70,211.35 440.90,211.36 441.10,211.24 441.30,211.37 441.50,211.18 441.70,211.46 441.90,211.14 442.10,211.24 442.30,211.40 442.50,211.40 442.70,211.46 442.90,211.34 443.10,211.32 443.30,211.42 443.50,211.37 443.70,211.28 443.90,211.36 444.10,211.17 444.30,211.35 444.50,211.47 444.70,211.42 444.90,211.25 445.10,211.14 445.30,211.31 445.50,211.23 445.70,211.25 445.90,211.21 446.10,211.13 446.30,211.29 446.50,211.45 446.70,211.27 446.90,211.43 447.10,211.37 447.30,211.33 447.50,211.46 447.70,211.16 447.90,211.13 448.10,211.35 448.30,211.12 448.50,211.28 448.70,211.44 448.90,211.31 449.10,211.38 449.30,211.27 449.50,211.12 449.70,211.37 449.90,211.21 450.10,211.27 450.30,211.32 450.50,211.40 450.70,211.42 450.90,211.33 451.10,211.24 451.30,211.38 451.50,211.35 451.70,211.13 451.90,211.31 452.10,211.35 452.30,211.11 452.50,211.30 452.70,211.22 452.90,211.32 453.10,211.42 453.30,211.35 453.50,211.25 453.70,211.10 453.90,211.30 454.10,211.28 454.30,211.30 454.50,211.42 454.70,211.08 454.90,211.28 455.10,211.66 455.30,211.04 455.50,211.41 455.70,211.50 455.90,210.72 456.10,211.47 456.30,211.30 456.50,211.71 456.70,210.92 456.90,211.31 457.10,211.31 457.30,211.52 457.50,211.76 457.70,211.95 457.90,211.15 458.10,211.80 458.30,211.51 458.50,212.34 458.70,212.36 458.90,210.23 459.10,211.72 459.30,211.70 459.50,210.49 459.70,211.97 459.90,210.33 460.10,212.43 460.30,210.81 460.50,210.09 460.70,211.96 460.90,212.30 461.10,210.93 461.30,211.38 461.50,210.21 461.70,211.11 461.90,212.62 462.10,210.69 462.30,210.91 462.50,211.50 462.70,210.55 462.90,211.27 463.10,210.74 463.30,210.59 463.50,211.51 463.70,211.26 463.90,211.16 464.10,212.07 464.30,212.55 464.50,210.44 464.70,212.77 464.90,211.14 465.10,212.34 465.30,211.21 465.50,211.18 465.70,212.08 465.90,210.61 466.10,211.48 466.30,212.99 466.50,210.71 466.70,213.02 466.90,213.04 467.10,212.19 467.30,209.53 467.50,211.30 467.70,210.58 467.90,212.31 468.10,210.59 468.30,212.01 468.50,212.29 468.70,211.65 468.90,213.21 469.10,210.84 469.30,212.07 469.50,210.29 469.70,211.61 469.90,213.29 470.10,211.48 470.30,209.08 470.50,213.28 470.70,213.02 470.90,213.24 471.10,212.70 471.30,210.33 471.50,210.20 471.70,208.43 471.90,210.75 472.10,212.17 472.30,211.93 472.50,210.55 472.70,207.52 472.90,210.30 473.10,210.96 473.30,209.91 473.50,214.39 473.70,209.20 473.90,213.65 474.10,215.86 474.30,215.99 474.50,212.24 474.70,213.19 474.90,207.39 475.10,212.21 475.30,205.33 475.50,205.18 475.70,212.47 475.90,216.63 476.10,217.11 476.30,211.05 476.50,204.69 476.70,217.00 476.90,207.43 477.10,213.24 477.30,206.15 477.50,213.35 477.70,203.69 477.90,214.41 478.10,211.29 478.30,213.89 478.50,209.97 478.70,214.58 478.90,216.00 479.10,212.29 479.30,218.16 479.50,210.04 479.70,203.15 479.90,210.63 480.10,206.32 480.30,211.21 480.50,207.39 480.70,207.32 480.90,204.67 481.10,206.96 481.30,216.74 481.50,213.31 481.70,210.24 481.90,209.75 482.10,214.61 482.30,207.49 482.50,211.75 482.70,218.29 482.90,218.97 483.10,213.31 483.30,213.05 483.50,219.05 483.70,207.42 483.90,207.12 484.10,209.23 484.30,217.17 484.50,208.59 484.70,219.21 484.90,215.78 485.10,210.01 485.30,211.55 485.50,208.64 485.70,207.23 485.90,206.79 486.10,211.20 486.30,202.55 486.50,216.60 486.70,202.78 486.90,217.05 487.10,216.64 487.30,206.70 487.50,208.10 487.70,219.09 487.90,215.56 488.10,213.92 488.30,219.70 488.50,210.69 488.70,203.18 488.90,209.52 489.10,205.44 489.30,208.04 489.50,212.73 489.70,215.98 489.90,210.45 490.10,219.95 490.30,212.00 490.50,211.51 490.70,215.81 490.90,212.51 491.10,212.03 491.30,205.81 491.50,215.67 491.70,217.45 491.90,209.29 492.10,212.35 492.30,205.61 492.50,220.28 492.70,215.06 492.90,213.00 493.10,218.33 493.30,218.99 493.50,209.09 493.70,211.87 493.90,214.27 494.10,212.37 494.30,211.63 494.50,203.65 494.70,202.74 494.90,212.53 495.10,209.77 495.30,207.76 495.50,208.97 495.70,210.82 495.90,218.72 496.10,210.69 496.30,208.48 496.50,211.51 496.70,205.34 496.90,220.88 497.10,207.89 497.30,220.84 497.50,210.93 497.70,212.49 497.90,201.49 498.10,221.04 498.30,201.45 498.50,211.05 498.70,213.00 498.90,210.71 499.10,218.67 499.30,206.62 499.50,208.46 499.70,213.97 499.90,210.93 500.10,221.28 500.30,207.00 500.50,205.20 500.70,201.39 500.90,202.50 501.10,204.12 501.30,211.69 501.50,221.00 501.70,216.90 501.90,201.55 502.10,204.73 502.30,204.24 502.50,211.07 502.70,209.48 502.90,216.82 503.10,208.30 503.30,209.24 503.50,220.19 503.70,209.02 503.90,206.94 504.10,212.70 504.30,205.94 504.50,205.23 504.70,217.14 504.90,206.50 505.10,209.84 505.30,213.39 505.50,202.03 505.70,207.30 505.90,212.24 506.10,217.68 506.30,214.70 506.50,215.83 506.70,210.53 506.90,207.76 507.10,205.30 507.30,209.12 507.50,214.31 507.70,216.72 507.90,216.17 508.10,212.58 508.30,214.74 508.50,219.60 508.70,209.66 508.90,212.84 509.10,207.23 509.30,211.53 509.50,206.92 509.70,216.64 509.90,213.82 510.10,214.27 510.30,209.85 510.50,212.60 510.70,206.22 510.90,202.75 511.10,213.44 511.30,204.85 511.50,209.88 511.70,217.97 511.90,206.38 512.10,206.96 512.30,202.94 512.50,218.80 512.70,211.24 512.90,203.67 513.10,213.67 513.30,210.33 513.50,213.90 513.70,207.45 513.90,216.35 514.10,210.66 514.30,203.21 514.50,204.33 514.70,210.29 514.90,215.85 515.10,210.94 515.30,218.13 515.50,204.16 515.70,212.71 515.90,206.75 516.10,207.97 516.30,209.90 516.50,212.67 516.70,208.35 516.90,215.19 517.10,215.55 517.30,207.09 517.50,211.37 517.70,205.97 517.90,214.01 518.10,209.67 518.30,206.34 518.50,209.26 518.70,212.31 518.90,213.91 519.10,212.47 519.30,209.68 519.50,214.99 519.70,210.59 519.90,211.46 520.10,213.22 520.30,214.66 520.50,211.20 520.70,211.42 520.90,209.80 521.10,214.39 521.30,212.27 521.50,212.57 521.70,211.65 521.90,209.64 522.10,213.04 522.30,210.67 522.50,212.24 522.70,209.33 522.90,214.11 523.10,212.45 523.30,208.42 523.50,210.98 523.70,211.62 523.90,208.48 524.10,213.99 524.30,209.34 524.50,208.54 524.70,210.97 524.90,211.10 525.10,208.64 525.30,213.17 525.50,209.68 525.70,212.31 525.90,210.43 526.10,209.27 526.30,213.89 526.50,212.44 526.70,210.63 526.90,213.84 527.10,211.85 527.30,208.80 527.50,211.47 527.70,209.77 527.90,212.30 528.10,212.50 528.30,209.99 528.50,211.78 528.70,211.70 528.90,211.08 529.10,209.98 529.30,211.77 529.50,211.45 529.70,209.69 529.90,211.24 530.10,211.91 530.30,211.66 530.50,212.25 530.70,213.36 530.90,210.50 531.10,210.75 531.30,211.10 531.50,211.07 531.70,210.76 531.90,209.23 532.10,210.75 532.30,212.01 532.50,213.06 532.70,210.78 532.90,213.27 533.10,212.79 533.30,210.99 533.50,209.85 533.70,210.99 533.90,213.18 534.10,210.54 534.30,212.35 534.50,211.62 534.70,210.76 534.90,213.05 535.10,212.83 535.30,211.69 535.50,212.96 535.70,210.64 535.90,210.91 536.10,210.89 536.30,209.77 536.50,211.51 536.70,211.64 536.90,210.80 537.10,210.16 537.30,212.86 537.50,209.83 537.70,212.82 537.90,212.11 538.10,210.83 538.30,211.76 538.50,212.13 538.70,211.53 538.90,211.52 539.10,212.42 539.30,211.03 539.50,210.75 539.70,211.68 539.90,210.85 540.10,212.60 540.30,211.39 540.50,212.01 540.70,210.01 540.90,210.50 541.10,211.75 541.30,210.75 541.50,211.88 541.70,211.52 541.90,212.18 542.10,212.58 542.30,210.17 542.50,211.30 542.70,210.02 542.90,211.94 543.10,212.11 543.30,210.02 543.50,210.74 543.70,210.47 543.90,212.46 544.10,210.71 544.30,211.69 544.50,211.35 544.70,212.56 544.90,210.49 545.10,212.31 545.30,210.65 545.50,212.56 545.70,211.56 545.90,210.56 546.10,211.37 546.30,210.82 546.50,212.06 546.70,211.64 546.90,210.98 547.10,210.81 547.30,212.32 547.50,211.27 547.70,211.63 547.90,210.68 548.10,210.06 548.30,211.56 548.50,210.06 548.70,211.99 548.90,210.70 549.10,211.70 549.30,212.49 549.50,210.26 549.70,211.73 549.90,211.76 550.10,212.28 550.30,211.78 550.50,211.14 550.70,212.01 550.90,211.68 551.10,212.09 551.30,211.63 551.50,211.92 551.70,210.96 551.90,211.33 552.10,211.28 552.30,212.51 552.50,210.09 552.70,211.21 552.90,212.14 553.10,211.75 553.30,210.57 553.50,212.07 553.70,211.17 553.90,210.82 554.10,210.85 554.30,210.55 554.50,211.27 554.70,212.02 554.90,211.37 555.10,211.90 555.30,211.97 555.50,211.21 555.70,210.66 555.90,211.60 556.10,210.67 556.30,210.79 556.50,210.59 556.70,210.12 556.90,211.39 557.10,211.23 557.30,211.20 557.50,211.81 557.70,210.57 557.90,210.87 558.10,212.15 558.30,210.93 558.50,211.07 558.70,211.04 558.90,212.46 559.10,211.72 559.30,211.74 559.50,211.14 559.70,212.03 559.90,210.94 560.10,211.98 560.30,210.91 560.50,212.37 560.70,210.15 560.90,211.72 561.10,211.11 561.30,211.48 561.50,210.68 561.70,211.34 561.90,212.44 562.10,211.84 562.30,211.30 562.50,210.85 562.70,210.83 562.90,211.31 563.10,210.17 563.30,210.85 563.50,211.10 563.70,211.70 563.90,210.76 564.10,211.28 564.30,211.37 564.50,210.18 564.70,212.42 564.90,212.22 565.10,212.09 565.30,211.12 565.50,211.18 565.70,211.72 565.90,211.19 566.10,211.02 566.30,210.96 566.50,211.61 566.70,211.11 566.90,211.34 567.10,210.99 567.30,211.79 567.50,211.30 567.70,211.44 567.90,211.49 568.10,211.97 568.30,211.35 568.50,212.39 568.70,212.00 568.90,211.77 569.10,210.23 569.30,210.83 569.50,210.82 569.70,211.73 569.90,210.70 570.10,211.37 570.30,211.03 570.50,211.06 570.70,211.27 570.90,211.62 571.10,210.23 571.30,211.51 571.50,211.46 571.70,211.15 571.90,211.99 572.10,210.65 572.30,211.33 572.50,211.40 572.70,210.69 572.90,211.89 573.10,210.27 573.30,210.39 573.50,211.01 573.70,211.91 573.90,210.25 574.10,211.76 574.30,211.30 574.50,211.01 574.70,211.90 574.90,210.26 575.10,210.26 575.30,211.30 575.50,210.47 575.70,212.02 575.90,210.79 576.10,212.33 576.30,212.33 576.50,211.17 576.70,212.22 576.90,211.16 577.10,212.32 577.30,210.75 577.50,211.27 577.70,212.12 577.90,211.29 578.10,211.31 578.30,211.59 578.50,211.31 578.70,211.79 578.90,211.81 579.10,211.67 579.30,211.06 579.50,211.47 579.70,211.31 579.90,211.14 580.10,211.86 580.30,211.31 580.50,212.20 580.70,210.30 580.90,210.77 581.10,210.61 581.30,211.10 581.50,210.99 581.70,212.22 581.90,212.24 582.10,211.91 582.30,211.71 582.50,210.87 582.70,211.53 582.90,210.52 583.10,212.14 583.30,211.77 583.50,211.87 583.70,210.73 583.90,211.90 584.10,211.48 584.30,211.20 584.50,210.55 584.70,212.18 584.90,211.17 585.10,210.34 585.30,211.39 585.50,210.48 585.70,211.12 585.90,211.43 586.10,210.65 586.30,211.21 586.50,211.11 586.70,210.41 586.90,211.85 587.10,211.91 587.30,211.28 587.50,211.69 587.70,210.36 587.90,210.95 588.10,212.13 588.30,212.02 588.50,212.18 588.70,210.81 588.90,210.84 589.10,211.19 589.30,212.23 589.50,210.97 589.70,211.30 589.90,211.61 590.10,211.39 590.30,211.71 590.50,210.88 590.70,211.90 590.90,211.97 591.10,211.63 591.30,211.15 591.50,211.69 591.70,211.01 591.90,211.76 592.10,210.94 592.30,211.88 592.50,211.80 592.70,211.29 592.90,211.69 593.10,210.89 593.30,212.16 593.50,210.54 593.70,212.13 593.90,211.57 594.10,211.56 594.30,211.73 594.50,210.77 594.70,210.79 594.90,211.06 595.10,210.41 595.30,211.09 595.50,210.99 595.70,210.93 595.90,210.86 596.10,210.58 596.30,211.80 596.50,210.91 596.70,211.18 596.90,211.37 597.10,211.76 597.30,212.05 597.50,210.62 597.70,211.09 597.90,211.00 598.10,210.87 598.30,210.77 598.50,211.05 598.70,212.01 598.90,211.24 599.10,211.82 599.30,211.42 599.50,211.06 599.70,211.44 599.90,211.98 600.10,210.86 600.30,211.51 600.50,210.92 600.70,210.59 600.90,211.38 601.10,212.14 601.30,212.14 601.50,211.76 601.70,210.69 601.90,211.00 602.10,210.80 602.30,212.10 602.50,210.47 602.70,210.74 602.90,211.46 603.10,211.79 603.30,210.47 603.50,210.53 603.70,211.95 603.90,211.33 604.10,211.22 604.30,211.61 604.50,211.36 604.70,210.64 604.90,210.70 605.10,212.11 605.30,211.25 605.50,210.49 605.70,211.16 605.90,211.43 606.10,210.69 606.30,210.49 606.50,210.93 606.70,210.96 606.90,212.10" fill="none" stroke="#1a1a1a" stroke-width="0.7" stroke-linejoin="round"/>
<path d="M422.50,225.41 422.70,225.43 422.90,225.39 423.10,225.43 423.30,225.37 423.50,225.40 423.70,225.33 423.90,225.33 424.10,225.40 424.30,225.48 424.50,225.44 424.70,225.42 424.90,225.38 425.10,225.44 425.30,225.38 425.50,225.48 425.70,225.43 425.90,225.46 426.10,225.31 426.30,225.42 426.50,225.40 426.70,225.37 426.90,225.38 427.10,225.50 427.30,225.42 427.50,225.49 427.70,225.39 427.90,225.32 428.10,225.45 428.30,225.43 428.50,225.38 428.70,225.45 428.90,225.52 429.10,225.28 429.30,225.43 429.50,225.52 429.70,225.38 429.90,225.46 430.10,225.45 430.30,225.31 430.50,225.37 430.70,225.42 430.90,225.43 431.10,225.52 431.30,225.43 431.50,225.53 431.70,225.45 431.90,225.46 432.10,225.27 432.30,225.37 432.50,225.39 432.70,225.43 432.90,225.44 433.10,225.27 433.30,225.32 433.50,225.38 433.70,225.30 433.90,225.39 434.10,225.34 434.30,225.47 434.50,225.39 434.70,225.26 434.90,225.38 435.10,225.41 435.30,225.30 435.50,225.34 435.70,225.48 435.90,225.54 436.10,225.26 436.30,225.54 436.50,225.43 436.70,225.32 436.90,225.31 437.10,225.38 437.30,225.33 437.50,225.27 437.70,225.39 437.90,225.34 438.10,225.46 438.30,225.32 438.50,225.46 438.70,225.25 438.90,225.39 439.10,225.39 439.30,225.41 439.50,225.25 439.70,225.41 439.90,225.42 440.10,225.39 440.30,225.40 440.50,225.47 440.70,225.41 440.90,225.42 441.10,225.43 441.30,225.35 441.50,225.41 441.70,225.36 441.90,225.38 442.10,225.56 442.30,225.40 442.50,225.52 442.70,225.49 442.90,225.29 443.10,225.36 443.30,225.47 443.50,225.44 443.70,225.45 443.90,225.33 444.10,225.35 444.30,225.48 444.50,225.41 444.70,225.34 444.90,225.38 445.10,225.47 445.30,225.47 445.50,225.30 445.70,225.39 445.90,225.28 446.10,225.51 446.30,225.26 446.50,225.39 446.70,225.50 446.90,225.42 447.10,225.42 447.30,225.23 447.50,225.52 447.70,225.50 447.90,225.50 448.10,225.44 448.30,225.31 448.50,225.53 448.70,225.57 448.90,225.28 449.10,225.45 449.30,225.56 449.50,225.42 449.70,225.54 449.90,225.45 450.10,225.44 450.30,225.49 450.50,225.42 450.70,225.28 450.90,225.42 451.10,225.45 451.30,225.49 451.50,225.42 451.70,225.45 451.90,225.35 452.10,225.37 452.30,225.28 452.50,225.46 452.70,225.35 452.90,225.43 453.10,225.34 453.30,225.21 453.50,225.48 453.70,225.34 453.90,225.30 454.10,225.24 454.30,225.33 454.50,225.24 454.70,225.46 454.90,225.21 455.10,225.32 455.30,225.37 455.50,225.40 455.70,225.34 455.90,225.59 456.10,225.53 456.30,225.60 456.50,225.37 456.70,225.35 456.90,225.45 457.10,225.44 457.30,225.54 457.50,225.38 457.70,225.56 457.90,225.45 458.10,225.37 458.30,225.42 458.50,225.61 458.70,225.40 458.90,225.56 459.10,225.51 459.30,225.19 459.50,225.40 459.70,225.52 459.90,225.18 460.10,225.27 460.30,225.23 460.50,225.54 460.70,225.40 460.90,225.42 461.10,225.63 461.30,225.33 461.50,225.38 461.70,225.37 461.90,225.25 462.10,225.15 462.30,225.15 462.50,225.39 462.70,225.23 462.90,225.31 463.10,225.45 463.30,225.67 463.50,225.23 463.70,225.34 463.90,225.15 464.10,225.41 464.30,225.55 464.50,225.52 464.70,225.18 464.90,225.28 465.10,225.27 465.30,225.12 465.50,225.11 465.70,225.28 465.90,225.13 466.10,225.34 466.30,225.27 466.50,225.33 466.70,225.49 466.90,225.36 467.10,225.51 467.30,225.40 467.50,225.72 467.70,225.24 467.90,225.38 468.10,225.33 468.30,225.22 468.50,225.19 468.70,225.52 468.90,225.20 469.10,225.34 469.30,225.52 469.50,225.24 469.70,225.53 469.90,225.27 470.10,225.49 470.30,225.60 470.50,225.52 470.70,225.53 470.90,225.76 471.10,225.47 471.30,225.23 471.50,225.75 471.70,225.48 471.90,225.30 472.10,225.36 472.30,225.65 472.50,225.60 472.70,225.49 472.90,225.13 473.10,225.79 473.30,225.36 473.50,225.69 473.70,225.48 473.90,225.43 474.10,225.26 474.30,225.73 474.50,225.35 474.70,225.00 474.90,224.99 475.10,225.04 475.30,225.09 475.50,225.76 475.70,225.66 475.90,225.74 476.10,225.69 476.30,225.39 476.50,225.68 476.70,225.23 476.90,224.98 477.10,225.25 477.30,225.62 477.50,225.26 477.70,225.72 477.90,225.20 478.10,225.29 478.30,225.41 478.50,225.69 478.70,225.14 478.90,225.29 479.10,225.86 479.30,225.41 479.50,224.93 479.70,225.40 479.90,225.68 480.10,225.45 480.30,225.20 480.50,225.71 480.70,225.80 480.90,225.80 481.10,225.61 481.30,225.33 481.50,225.27 481.70,225.36 481.90,225.36 482.10,225.22 482.30,225.04 482.50,225.19 482.70,225.26 482.90,225.77 483.10,225.57 483.30,225.19 483.50,225.05 483.70,225.42 483.90,225.41 484.10,225.16 484.30,225.14 484.50,225.40 484.70,225.91 484.90,225.25 485.10,225.33 485.30,225.47 485.50,225.58 485.70,225.12 485.90,225.95 486.10,225.27 486.30,225.81 486.50,225.66 486.70,225.96 486.90,225.44 487.10,224.99 487.30,225.04 487.50,225.30 487.70,225.73 487.90,224.83 488.10,225.13 488.30,225.16 488.50,225.27 488.70,224.82 488.90,225.48 489.10,225.06 489.30,225.59 489.50,225.54 489.70,225.80 489.90,224.80 490.10,225.87 490.30,225.36 490.50,226.03 490.70,225.26 490.90,224.46 491.10,226.02 491.30,224.06 491.50,226.25 491.70,225.33 491.90,226.16 492.10,225.18 492.30,226.64 492.50,224.29 492.70,225.03 492.90,223.78 493.10,225.15 493.30,226.33 493.50,225.18 493.70,224.66 493.90,225.89 494.10,223.78 494.30,225.23 494.50,226.07 494.70,226.01 494.90,222.02 495.10,224.46 495.30,226.38 495.50,224.93 495.70,221.57 495.90,228.06 496.10,227.82 496.30,226.61 496.50,225.68 496.70,222.31 496.90,225.25 497.10,223.68 497.30,225.78 497.50,227.85 497.70,228.78 497.90,228.20 498.10,224.35 498.30,223.44 498.50,227.21 498.70,221.22 498.90,222.37 499.10,226.19 499.30,221.65 499.50,227.90 499.70,219.76 499.90,223.31 500.10,219.58 500.30,221.14 500.50,224.80 500.70,224.01 500.90,221.65 501.10,225.70 501.30,220.95 501.50,223.53 501.70,225.71 501.90,225.49 502.10,227.91 502.30,223.92 502.50,225.13 502.70,227.63 502.90,221.18 503.10,222.65 503.30,225.29 503.50,225.77 503.70,225.35 503.90,225.58 504.10,228.82 504.30,221.19 504.50,224.79 504.70,226.05 504.90,222.23 505.10,219.89 505.30,221.01 505.50,223.03 505.70,230.33 505.90,223.96 506.10,228.81 506.30,225.68 506.50,228.84 506.70,223.26 506.90,230.21 507.10,228.01 507.30,220.68 507.50,225.38 507.70,227.28 507.90,225.33 508.10,218.02 508.30,224.33 508.50,227.84 508.70,220.44 508.90,224.57 509.10,228.26 509.30,223.06 509.50,227.58 509.70,218.34 509.90,222.32 510.10,228.69 510.30,224.63 510.50,223.92 510.70,221.73 510.90,219.73 511.10,226.20 511.30,223.85 511.50,225.44 511.70,224.15 511.90,227.09 512.10,228.09 512.30,223.25 512.50,227.37 512.70,218.94 512.90,218.98 513.10,221.07 513.30,227.00 513.50,223.02 513.70,225.94 513.90,225.22 514.10,223.69 514.30,224.13 514.50,229.45 514.70,225.14 514.90,224.70 515.10,221.69 515.30,220.33 515.50,226.34 515.70,227.55 515.90,219.95 516.10,224.99 516.30,228.79 516.50,226.80 516.70,221.06 516.90,228.40 517.10,225.58 517.30,228.74 517.50,226.34 517.70,227.01 517.90,225.85 518.10,226.78 518.30,222.69 518.50,226.50 518.70,224.14 518.90,226.14 519.10,228.23 519.30,225.36 519.50,225.92 519.70,226.62 519.90,221.85 520.10,225.41 520.30,225.75 520.50,222.68 520.70,227.47 520.90,225.66 521.10,226.91 521.30,224.14 521.50,226.49 521.70,224.64 521.90,225.13 522.10,225.30 522.30,227.37 522.50,223.94 522.70,227.34 522.90,226.20 523.10,223.46 523.30,227.26 523.50,226.70 523.70,227.26 523.90,224.17 524.10,227.22 524.30,223.18 524.50,224.70 524.70,225.50 524.90,227.15 525.10,223.81 525.30,223.31 525.50,223.93 525.70,225.35 525.90,224.93 526.10,225.98 526.30,225.79 526.50,224.59 526.70,224.99 526.90,226.99 527.10,224.54 527.30,225.52 527.50,224.28 527.70,225.98 527.90,225.50 528.10,224.45 528.30,224.99 528.50,224.61 528.70,226.64 528.90,224.88 529.10,225.79 529.30,226.38 529.50,223.96 529.70,225.02 529.90,225.33 530.10,225.01 530.30,226.41 530.50,225.51 530.70,225.28 530.90,225.76 531.10,226.36 531.30,226.61 531.50,224.07 531.70,224.21 531.90,225.84 532.10,225.55 532.30,225.76 532.50,225.31 532.70,226.19 532.90,225.57 533.10,225.46 533.30,224.98 533.50,226.43 533.70,224.90 533.90,225.64 534.10,225.20 534.30,224.41 534.50,224.66 534.70,225.41 534.90,225.66 535.10,225.23 535.30,225.80 535.50,226.00 535.70,225.39 535.90,224.57 536.10,225.46 536.30,225.28 536.50,224.92 536.70,225.41 536.90,225.26 537.10,225.19 537.30,224.74 537.50,225.69 537.70,226.09 537.90,225.67 538.10,225.19 538.30,225.37 538.50,225.69 538.70,225.28 538.90,225.72 539.10,226.28 539.30,224.90 539.50,225.65 539.70,225.67 539.90,224.69 540.10,224.85 540.30,226.11 540.50,225.33 540.70,225.04 540.90,224.87 541.10,224.73 541.30,225.53 541.50,225.98 541.70,225.72 541.90,225.30 542.10,225.14 542.30,225.08 542.50,225.86 542.70,225.58 542.90,225.31 543.10,226.04 543.30,224.66 543.50,225.51 543.70,226.25 543.90,225.44 544.10,225.97 544.30,225.68 544.50,224.84 544.70,226.16 544.90,224.78 545.10,225.65 545.30,224.82 545.50,225.21 545.70,225.62 545.90,225.08 546.10,225.24 546.30,225.28 546.50,225.26 546.70,225.55 546.90,225.88 547.10,224.57 547.30,224.57 547.50,225.83 547.70,225.80 547.90,224.61 548.10,224.83 548.30,226.11 548.50,224.89 548.70,225.07 548.90,225.44 549.10,225.68 549.30,224.66 549.50,224.90 549.70,225.25 549.90,225.20 550.10,224.78 550.30,225.79 550.50,225.41 550.70,225.26 550.90,225.79 551.10,225.92 551.30,224.90 551.50,225.09 551.70,225.08 551.90,225.27 552.10,225.47 552.30,226.17 552.50,224.71 552.70,225.90 552.90,225.04 553.10,225.48 553.30,225.28 553.50,225.40 553.70,225.26 553.90,225.11 554.10,225.23 554.30,224.94 554.50,226.04 554.70,225.76 554.90,225.66 555.10,225.42 555.30,225.90 555.50,226.19 555.70,225.14 555.90,224.80 556.10,225.34 556.30,225.62 556.50,225.88 556.70,226.18 556.90,225.19 557.10,225.38 557.30,224.96 557.50,225.89 557.70,225.20 557.90,225.45 558.10,225.49 558.30,225.33 558.50,225.76 558.70,224.65 558.90,225.93 559.10,225.26 559.30,225.21 559.50,225.99 559.70,225.48 559.90,225.15 560.10,225.07 560.30,225.36 560.50,226.16 560.70,225.50 560.90,225.60 561.10,224.64 561.30,225.85 561.50,224.92 561.70,224.65 561.90,225.23 562.10,225.29 562.30,226.15 562.50,225.82 562.70,224.65 562.90,224.84 563.10,225.70 563.30,225.19 563.50,225.40 563.70,225.64 563.90,225.37 564.10,226.03 564.30,225.84 564.50,224.86 564.70,225.66 564.90,225.36 565.10,225.44 565.30,225.60 565.50,225.28 565.70,225.51 565.90,225.56 566.10,225.14 566.30,225.58 566.50,225.35 566.70,225.49 566.90,225.52 567.10,225.24 567.30,225.90 567.50,225.31 567.70,225.45 567.90,225.55 568.10,226.11 568.30,225.64 568.50,226.04 568.70,225.55 568.90,225.03 569.10,225.34 569.30,224.77 569.50,225.58 569.70,225.36 569.90,225.57 570.10,225.29 570.30,226.03 570.50,225.72 570.70,224.99 570.90,224.85 571.10,226.04 571.30,225.24 571.50,225.39 571.70,224.93 571.90,226.00 572.10,224.94 572.30,225.28 572.50,225.37 572.70,225.36 572.90,224.89 573.10,225.32 573.30,225.30 573.50,226.08 573.70,225.38 573.90,225.47 574.10,225.19 574.30,225.65 574.50,225.53 574.70,225.79 574.90,225.54 575.10,224.72 575.30,225.79 575.50,225.43 575.70,225.54 575.90,226.01 576.10,225.42 576.30,224.73 576.50,225.34 576.70,225.87 576.90,226.03 577.10,225.42 577.30,224.73 577.50,226.06 577.70,225.58 577.90,225.53 578.10,224.74 578.30,225.68 578.50,225.26 578.70,224.92 578.90,224.74 579.10,225.73 579.30,225.56 579.50,225.49 579.70,226.05 579.90,224.75 580.10,225.30 580.30,225.67 580.50,225.38 580.70,225.39 580.90,225.27 581.10,225.29 581.30,225.18 581.50,225.30 581.70,226.01 581.90,226.04 582.10,225.00 582.30,224.99 582.50,225.76 582.70,225.88 582.90,225.05 583.10,225.71 583.30,225.79 583.50,225.54 583.70,225.27 583.90,224.77 584.10,225.85 584.30,225.19 584.50,225.26 584.70,225.29 584.90,225.13 585.10,226.00 585.30,225.12 585.50,225.21 585.70,225.60 585.90,224.98 586.10,225.40 586.30,225.43 586.50,225.18 586.70,225.59 586.90,225.43 587.10,225.93 587.30,225.94 587.50,225.97 587.70,225.45 587.90,224.88 588.10,225.82 588.30,225.91 588.50,224.92 588.70,225.60 588.90,225.44 589.10,225.42 589.30,224.97 589.50,225.30 589.70,225.24 589.90,224.95 590.10,225.99 590.30,225.75 590.50,225.27 590.70,225.54 590.90,225.91 591.10,225.82 591.30,225.99 591.50,225.85 591.70,225.55 591.90,225.48 592.10,225.88 592.30,225.80 592.50,225.19 592.70,225.98 592.90,225.36 593.10,224.92 593.30,225.31 593.50,225.80 593.70,225.52 593.90,224.98 594.10,225.42 594.30,225.59 594.50,225.48 594.70,225.47 594.90,225.97 595.10,225.22 595.30,225.62 595.50,225.03 595.70,225.09 595.90,225.18 596.10,225.96 596.30,225.81 596.50,225.20 596.70,225.36 596.90,225.85 597.10,225.18 597.30,225.04 597.50,225.62 597.70,225.64 597.90,225.59 598.10,225.52 598.30,225.57 598.50,225.45 598.70,224.85 598.90,225.53 599.10,225.41 599.30,225.79 599.50,225.09 599.70,225.20 599.90,225.64 600.10,225.15 600.30,225.42 600.50,225.94 600.70,224.92 600.90,225.93 601.10,225.93 601.30,225.30 601.50,225.77 601.70,224.87 601.90,224.87 602.10,225.22 602.30,224.87 602.50,225.32 602.70,225.90 602.90,225.42 603.10,225.09 603.30,225.15 603.50,225.58 603.70,225.61 603.90,225.05 604.10,225.51 604.30,225.35 604.50,224.89 604.70,224.89 604.90,225.34 605.10,225.61 605.30,225.42 605.50,225.43 605.70,225.84 605.90,225.75 606.10,225.41 606.30,225.66 606.50,225.35 606.70,225.42 606.90,225.18" fill="none" stroke="#e3321f" stroke-width="0.7" stroke-linejoin="round"/>
<path d="M433.50,238.57 433.70,238.57 433.90,238.55 434.10,238.55 434.30,238.56 434.50,238.49 434.70,238.57 434.90,238.55 435.10,238.69 435.30,238.62 435.50,238.52 435.70,238.71 435.90,238.54 436.10,238.60 436.30,238.49 436.50,238.70 436.70,238.70 436.90,238.68 437.10,238.66 437.30,238.71 437.50,238.62 437.70,238.59 437.90,238.60 438.10,238.48 438.30,238.52 438.50,238.67 438.70,238.61 438.90,238.48 439.10,238.63 439.30,238.57 439.50,238.68 439.70,238.72 439.90,238.60 440.10,238.73 440.30,238.47 440.50,238.71 440.70,238.60 440.90,238.65 441.10,238.55 441.30,238.47 441.50,238.58 441.70,238.58 441.90,238.47 442.10,238.55 442.30,238.66 442.50,238.63 442.70,238.56 442.90,238.60 443.10,238.61 443.30,238.55 443.50,238.57 443.70,238.69 443.90,238.63 444.10,238.74 444.30,238.61 444.50,238.54 444.70,238.58 444.90,238.58 445.10,238.74 445.30,238.65 445.50,238.70 445.70,238.64 445.90,238.57 446.10,238.75 446.30,238.70 446.50,238.64 446.70,238.56 446.90,238.61 447.10,238.67 447.30,238.68 447.50,238.57 447.70,238.75 447.90,238.60 448.10,238.57 448.30,238.73 448.50,238.56 448.70,238.44 448.90,238.54 449.10,238.61 449.30,238.68 449.50,238.53 449.70,238.62 449.90,238.67 450.10,238.54 450.30,238.64 450.50,238.67 450.70,238.75 450.90,238.61 451.10,238.59 451.30,238.64 451.50,238.64 451.70,238.58 451.90,238.60 452.10,238.68 452.30,238.70 452.50,238.62 452.70,238.48 452.90,238.65 453.10,238.59 453.30,238.54 453.50,238.78 453.70,238.70 453.90,238.50 454.10,238.67 454.30,238.65 454.50,238.68 454.70,238.62 454.90,238.59 455.10,238.57 455.30,238.68 455.50,238.56 455.70,238.42 455.90,238.54 456.10,238.41 456.30,238.76 456.50,238.78 456.70,238.54 456.90,238.79 457.10,238.59 457.30,238.64 457.50,238.59 457.70,238.43 457.90,238.66 458.10,238.65 458.30,238.54 458.50,238.76 458.70,238.48 458.90,238.42 459.10,238.46 459.30,238.68 459.50,238.40 459.70,238.62 459.90,238.40 460.10,238.70 460.30,238.41 460.50,238.70 460.70,238.58 460.90,238.51 461.10,238.71 461.30,238.47 461.50,238.36 461.70,238.50 461.90,238.62 462.10,238.86 462.30,238.52 462.50,238.59 462.70,238.53 462.90,238.69 463.10,238.66 463.30,238.37 463.50,238.77 463.70,238.91 463.90,238.67 464.10,238.37 464.30,238.76 464.50,238.27 464.70,238.42 464.90,238.67 465.10,238.76 465.30,238.48 465.50,238.51 465.70,238.74 465.90,238.42 466.10,238.84 466.30,238.80 466.50,238.99 466.70,238.70 466.90,238.58 467.10,238.44 467.30,238.19 467.50,238.21 467.70,238.72 467.90,238.86 468.10,238.80 468.30,238.66 468.50,238.96 468.70,238.66 468.90,238.47 469.10,239.05 469.30,238.29 469.50,238.35 469.70,238.56 469.90,238.99 470.10,238.57 470.30,238.47 470.50,239.00 470.70,238.55 470.90,239.04 471.10,238.77 471.30,238.35 471.50,238.06 471.70,238.40 471.90,238.49 472.10,239.16 472.30,238.96 472.50,239.07 472.70,238.58 472.90,238.93 473.10,238.53 473.30,238.36 473.50,238.85 473.70,238.19 473.90,238.41 474.10,238.68 474.30,239.22 474.50,238.23 474.70,238.67 474.90,238.79 475.10,238.22 475.30,238.60 475.50,238.90 475.70,238.71 475.90,238.66 476.10,239.08 476.30,238.66 476.50,238.14 476.70,239.14 476.90,238.78 477.10,238.41 477.30,239.32 477.50,237.88 477.70,238.26 477.90,237.86 478.10,238.81 478.30,238.22 478.50,238.41 478.70,238.73 478.90,239.10 479.10,238.31 479.30,238.64 479.50,239.06 479.70,237.97 479.90,239.32 480.10,238.91 480.30,238.55 480.50,238.67 480.70,238.95 480.90,238.73 481.10,238.33 481.30,238.74 481.50,238.39 481.70,238.33 481.90,238.80 482.10,237.53 482.30,238.32 482.50,238.14 482.70,237.42 482.90,238.46 483.10,237.49 483.30,238.59 483.50,239.63 483.70,239.92 483.90,239.07 484.10,238.38 484.30,238.02 484.50,238.20 484.70,239.37 484.90,238.31 485.10,239.07 485.30,239.56 485.50,237.37 485.70,238.35 485.90,239.14 486.10,239.78 486.30,239.80 486.50,237.87 486.70,239.85 486.90,236.82 487.10,236.94 487.30,236.77 487.50,239.32 487.70,238.42 487.90,238.48 488.10,237.53 488.30,239.42 488.50,236.60 488.70,240.63 488.90,240.66 489.10,238.58 489.30,239.31 489.50,239.12 489.70,239.74 489.90,240.80 490.10,238.85 490.30,237.14 490.50,240.89 490.70,236.96 490.90,239.57 491.10,236.23 491.30,237.17 491.50,237.97 491.70,238.55 491.90,238.17 492.10,240.12 492.30,241.29 492.50,240.01 492.70,238.00 492.90,235.65 493.10,235.87 493.30,239.67 493.50,237.20 493.70,238.25 493.90,235.15 494.10,238.00 494.30,238.80 494.50,239.86 494.70,234.77 494.90,240.59 495.10,239.14 495.30,240.81 495.50,238.42 495.70,237.48 495.90,238.91 496.10,240.12 496.30,234.21 496.50,237.96 496.70,236.82 496.90,238.38 497.10,241.49 497.30,244.51 497.50,243.10 497.70,240.02 497.90,242.12 498.10,236.74 498.30,240.14 498.50,234.55 498.70,236.63 498.90,243.66 499.10,236.61 499.30,239.33 499.50,242.10 499.70,247.42 499.90,247.94 500.10,236.77 500.30,239.99 500.50,243.05 500.70,241.22 500.90,236.85 501.10,231.72 501.30,234.30 501.50,241.47 501.70,244.35 501.90,243.47 502.10,253.66 502.30,241.76 502.50,243.83 502.70,244.36 502.90,230.86 503.10,233.63 503.30,245.52 503.50,235.68 503.70,245.99 503.90,258.34 504.10,242.64 504.30,251.50 504.50,248.76 504.70,235.43 504.90,252.75 505.10,241.06 505.30,234.70 505.50,245.52 505.70,250.50 505.90,235.71 506.10,262.80 506.30,263.20 506.50,256.62 506.70,239.18 506.90,230.64 507.10,229.07 507.30,236.32 507.50,244.53 507.70,239.53 507.90,230.27 508.10,266.78 508.30,251.45 508.50,240.76 508.70,249.10 508.90,258.57 509.10,241.63 509.30,217.55 509.50,266.51 509.70,269.66 509.90,257.56 510.10,246.58 510.30,270.57 510.50,236.30 510.70,230.08 510.90,231.59 511.10,233.97 511.30,224.08 511.50,234.22 511.70,232.31 511.90,248.26 512.10,235.54 512.30,256.34 512.50,217.86 512.70,262.73 512.90,237.16 513.10,250.00 513.30,210.83 513.50,232.21 513.70,228.31 513.90,251.03 514.10,230.60 514.30,279.73 514.50,235.86 514.70,264.99 514.90,246.20 515.10,282.42 515.30,231.16 515.50,224.32 515.70,256.08 515.90,247.02 516.10,211.42 516.30,218.42 516.50,226.74 516.70,243.86 516.90,213.08 517.10,218.47 517.30,260.88 517.50,240.55 517.70,206.43 517.90,234.11 518.10,236.74 518.30,221.37 518.50,224.30 518.70,239.23 518.90,225.14 519.10,241.91 519.30,278.88 519.50,247.28 519.70,221.91 519.90,265.82 520.10,217.04 520.30,260.74 520.50,225.69 520.70,227.31 520.90,195.04 521.10,231.52 521.30,193.50 521.50,298.10 521.70,276.13 521.90,202.82 522.10,297.50 522.30,297.30 522.50,239.80 522.70,264.23 522.90,255.01 523.10,260.78 523.30,201.00 523.50,235.46 523.70,204.20 523.90,255.29 524.10,241.01 524.30,236.50 524.50,278.44 524.70,285.55 524.90,238.78 525.10,225.79 525.30,243.94 525.50,243.30 525.70,241.67 525.90,217.75 526.10,236.80 526.30,227.17 526.50,223.70 526.70,235.10 526.90,232.29 527.10,276.08 527.30,238.71 527.50,223.78 527.70,247.48 527.90,243.98 528.10,222.97 528.30,236.66 528.50,244.35 528.70,227.63 528.90,249.73 529.10,231.69 529.30,254.71 529.50,224.72 529.70,241.78 529.90,232.06 530.10,250.11 530.30,243.75 530.50,228.34 530.70,249.70 530.90,252.98 531.10,246.45 531.30,246.37 531.50,245.19 531.70,240.05 531.90,244.63 532.10,237.83 532.30,242.72 532.50,229.40 532.70,228.30 532.90,237.11 533.10,251.00 533.30,239.81 533.50,242.58 533.70,240.03 533.90,238.72 534.10,243.53 534.30,244.22 534.50,230.10 534.70,239.49 534.90,238.62 535.10,241.71 535.30,238.23 535.50,249.60 535.70,235.03 535.90,245.02 536.10,248.47 536.30,240.57 536.50,232.10 536.70,239.49 536.90,234.73 537.10,243.16 537.30,233.66 537.50,241.29 537.70,236.54 537.90,239.96 538.10,237.22 538.30,243.70 538.50,243.30 538.70,241.00 538.90,239.72 539.10,238.91 539.30,236.34 539.50,237.39 539.70,246.86 539.90,246.72 540.10,233.02 540.30,242.51 540.50,236.39 540.70,244.67 540.90,237.30 541.10,235.90 541.30,238.27 541.50,234.54 541.70,238.15 541.90,244.11 542.10,233.30 542.30,239.02 542.50,241.11 542.70,233.78 542.90,238.83 543.10,238.41 543.30,236.13 543.50,240.95 543.70,242.69 543.90,243.16 544.10,241.48 544.30,240.72 544.50,237.78 544.70,236.76 544.90,236.52 545.10,238.63 545.30,245.34 545.50,238.34 545.70,239.54 545.90,238.03 546.10,236.58 546.30,245.06 546.50,240.96 546.70,237.94 546.90,237.05 547.10,244.85 547.30,237.59 547.50,238.12 547.70,238.83 547.90,236.48 548.10,241.74 548.30,241.54 548.50,240.80 548.70,238.55 548.90,239.05 549.10,238.86 549.30,243.93 549.50,240.94 549.70,234.17 549.90,244.36 550.10,234.62 550.30,238.97 550.50,235.37 550.70,241.36 550.90,238.47 551.10,235.88 551.30,239.20 551.50,236.34 551.70,240.78 551.90,238.83 552.10,240.19 552.30,244.06 552.50,238.82 552.70,236.84 552.90,234.64 553.10,240.71 553.30,236.55 553.50,239.15 553.70,243.86 553.90,239.95 554.10,238.08 554.30,238.88 554.50,239.85 554.70,242.33 554.90,236.97 555.10,241.23 555.30,234.67 555.50,238.76 555.70,238.42 555.90,239.61 556.10,239.76 556.30,236.77 556.50,234.45 556.70,239.44 556.90,236.97 557.10,238.51 557.30,238.31 557.50,239.40 557.70,236.02 557.90,241.30 558.10,239.94 558.30,243.31 558.50,237.42 558.70,239.30 558.90,236.31 559.10,234.56 559.30,241.85 559.50,241.48 559.70,239.15 559.90,237.21 560.10,235.53 560.30,239.23 560.50,237.20 560.70,239.60 560.90,241.56 561.10,237.35 561.30,236.06 561.50,238.23 561.70,236.11 561.90,237.97 562.10,240.62 562.30,240.05 562.50,239.45 562.70,240.59 562.90,237.46 563.10,237.97 563.30,236.92 563.50,239.89 563.70,241.35 563.90,239.38 564.10,238.67 564.30,237.74 564.50,239.10 564.70,237.90 564.90,241.59 565.10,238.13 565.30,240.72 565.50,239.80 565.70,238.17 565.90,240.11 566.10,237.83 566.30,237.39 566.50,238.38 566.70,242.77 566.90,235.78 567.10,240.32 567.30,242.74 567.50,235.18 567.70,238.79 567.90,237.58 568.10,236.68 568.30,238.13 568.50,237.28 568.70,237.37 568.90,235.21 569.10,238.45 569.30,237.95 569.50,242.37 569.70,241.16 569.90,242.26 570.10,236.17 570.30,240.60 570.50,237.54 570.70,237.38 570.90,236.86 571.10,236.29 571.30,236.45 571.50,235.99 571.70,237.23 571.90,242.51 572.10,238.41 572.30,238.31 572.50,237.95 572.70,237.02 572.90,240.92 573.10,238.66 573.30,239.29 573.50,241.24 573.70,235.50 573.90,242.41 574.10,240.26 574.30,240.10 574.50,238.11 574.70,237.98 574.90,238.23 575.10,238.59 575.30,237.59 575.50,235.18 575.70,238.49 575.90,239.08 576.10,238.76 576.30,237.37 576.50,236.10 576.70,235.98 576.90,236.83 577.10,238.02 577.30,236.49 577.50,235.26 577.70,238.51 577.90,237.83 578.10,236.95 578.30,235.29 578.50,241.26 578.70,235.30 578.90,237.18 579.10,238.64 579.30,235.32 579.50,242.13 579.70,239.70 579.90,240.16 580.10,241.52 580.30,236.11 580.50,238.85 580.70,238.85 580.90,238.56 581.10,237.68 581.30,238.23 581.50,236.22 581.70,238.06 581.90,235.73 582.10,241.84 582.30,239.89 582.50,238.65 582.70,236.66 582.90,238.32 583.10,241.95 583.30,239.51 583.50,239.80 583.70,241.92 583.90,238.93 584.10,239.22 584.30,239.06 584.50,241.88 584.70,240.63 584.90,240.21 585.10,238.26 585.30,236.95 585.50,238.70 585.70,236.96 585.90,241.33 586.10,238.36 586.30,235.69 586.50,240.72 586.70,235.60 586.90,237.82 587.10,240.63 587.30,241.74 587.50,239.77 587.70,240.59 587.90,238.09 588.10,238.30 588.30,236.93 588.50,236.52 588.70,237.07 588.90,240.23 589.10,236.75 589.30,237.64 589.50,238.83 589.70,239.57 589.90,240.50 590.10,237.66 590.30,238.53 590.50,236.72 590.70,238.51 590.90,238.55 591.10,237.93 591.30,240.92 591.50,238.35 591.70,238.35 591.90,237.48 592.10,240.30 592.30,239.49 592.50,240.70 592.70,239.10 592.90,238.01 593.10,239.80 593.30,240.38 593.50,236.49 593.70,237.19 593.90,236.47 594.10,237.49 594.30,238.22 594.50,241.38 594.70,240.03 594.90,239.56 595.10,237.13 595.30,235.92 595.50,239.31 595.70,236.03 595.90,235.95 596.10,237.49 596.30,238.76 596.50,241.28 596.70,237.10 596.90,237.53 597.10,237.45 597.30,238.23 597.50,237.87 597.70,240.38 597.90,238.04 598.10,239.75 598.30,236.92 598.50,236.71 598.70,241.12 598.90,239.04 599.10,238.35 599.30,238.42 599.50,240.82 599.70,236.09 599.90,241.06 600.10,238.76 600.30,238.33 600.50,237.56 600.70,237.83 600.90,238.99 601.10,238.46 601.30,236.10 601.50,238.57 601.70,239.11 601.90,238.99 602.10,239.18 602.30,238.38 602.50,238.12 602.70,239.87 602.90,241.10 603.10,238.93 603.30,236.10 603.50,240.68 603.70,238.49 603.90,237.03 604.10,238.13 604.30,238.47 604.50,236.81 604.70,236.76 604.90,234.00 605.10,237.84 605.30,233.87 605.50,232.60 605.70,239.42 605.90,240.20 606.10,234.20 606.30,238.48 606.50,237.41 606.70,243.20 606.90,237.14" fill="none" stroke="#2f50ad" stroke-width="0.7" stroke-linejoin="round"/>
<rect x="478.8" y="83.1" width="2.5" height="6.6" fill="#78c51e"/>
<rect x="473.7" y="97.0" width="2.5" height="6.6" fill="#78c51e"/>
<rect x="469.3" y="110.7" width="2.5" height="6.6" fill="#78c51e"/>
<rect x="441.6" y="124.6" width="2.5" height="6.6" fill="#78c51e"/>
<rect x="443.3" y="138.5" width="2.5" height="6.6" fill="#78c51e"/>
<rect x="442.6" y="152.5" width="2.5" height="6.6" fill="#78c51e"/>
<rect x="445.6" y="166.4" width="2.5" height="6.6" fill="#78c51e"/>
<rect x="447.3" y="180.2" width="2.5" height="6.6" fill="#78c51e"/>
<rect x="449.8" y="194.3" width="2.5" height="6.6" fill="#78c51e"/>
<rect x="453.1" y="208.0" width="2.5" height="6.6" fill="#78c51e"/>
<rect x="457.2" y="222.1" width="2.5" height="6.6" fill="#78c51e"/>
<rect x="458.6" y="235.3" width="2.5" height="6.6" fill="#78c51e"/>
<text x="602.6" y="83.4" font-size="10.4" text-anchor="end" fill="#231f20" textLength="33.9" lengthAdjust="spacingAndGlyphs" >NIG001</text>
<text x="602.6" y="97.3" font-size="10.4" text-anchor="end" fill="#231f20" textLength="33.9" lengthAdjust="spacingAndGlyphs" >NIG003</text>
<text x="602.6" y="111.0" font-size="10.4" text-anchor="end" fill="#231f20" textLength="33.9" lengthAdjust="spacingAndGlyphs" >NIG004</text>
<text x="602.6" y="124.9" font-size="10.4" text-anchor="end" fill="#231f20" textLength="34.0" lengthAdjust="spacingAndGlyphs" >ISKH01</text>
<text x="602.6" y="138.8" font-size="10.4" text-anchor="end" fill="#231f20" textLength="31.5" lengthAdjust="spacingAndGlyphs" >ISK002</text>
<text x="602.6" y="152.8" font-size="10.4" text-anchor="end" fill="#231f20" textLength="31.5" lengthAdjust="spacingAndGlyphs" >ISK001</text>
<text x="602.6" y="166.7" font-size="10.4" text-anchor="end" fill="#231f20" textLength="34.0" lengthAdjust="spacingAndGlyphs" >ISKH03</text>
<text x="602.6" y="180.5" font-size="10.4" text-anchor="end" fill="#231f20" textLength="34.0" lengthAdjust="spacingAndGlyphs" >ISKH02</text>
<text x="602.6" y="194.6" font-size="10.4" text-anchor="end" fill="#231f20" textLength="31.5" lengthAdjust="spacingAndGlyphs" >ISK003</text>
<text x="602.6" y="208.3" font-size="10.4" text-anchor="end" fill="#231f20" textLength="31.5" lengthAdjust="spacingAndGlyphs" >ISK015</text>
<text x="602.6" y="222.4" font-size="10.4" text-anchor="end" fill="#231f20" textLength="34.0" lengthAdjust="spacingAndGlyphs" >ISKH04</text>
<text x="602.6" y="235.6" font-size="10.4" text-anchor="end" fill="#231f20" textLength="31.5" lengthAdjust="spacingAndGlyphs" >ISK006</text>
</g></svg></body></html>
